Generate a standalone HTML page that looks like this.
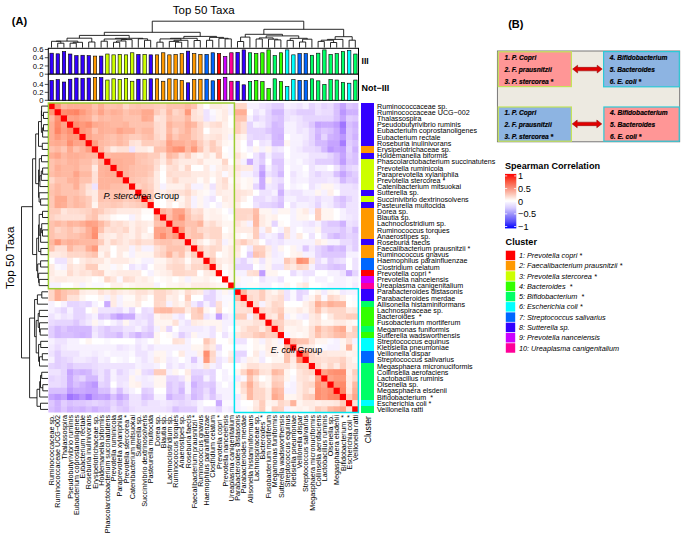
<!DOCTYPE html><html><head><meta charset="utf-8"><style>html,body{margin:0;padding:0;background:#fff;width:685px;height:544px;overflow:hidden}svg{display:block;font-family:"Liberation Sans",sans-serif}text{white-space:pre}</style></head><body>
<svg width="685" height="544" viewBox="0 0 685 544">
<rect width="685" height="544" fill="#fff"/>
<g>
<rect x="48.40" y="103.00" width="6.70" height="6.69" fill="#ff0000"/>
<rect x="54.60" y="103.00" width="6.70" height="6.69" fill="#ff9576"/>
<rect x="60.80" y="103.00" width="6.70" height="6.69" fill="#ffb9a2"/>
<rect x="67.00" y="103.00" width="6.70" height="6.69" fill="#ffaf96"/>
<rect x="73.20" y="103.00" width="6.70" height="6.69" fill="#ffaf96"/>
<rect x="79.40" y="103.00" width="6.70" height="6.69" fill="#ffaf96"/>
<rect x="85.60" y="103.00" width="6.70" height="6.69" fill="#ffaf96"/>
<rect x="91.80" y="103.00" width="6.70" height="6.69" fill="#ffc3af"/>
<rect x="98.00" y="103.00" width="6.70" height="6.69" fill="#ffaf96"/>
<rect x="104.20" y="103.00" width="6.70" height="6.69" fill="#ffc3af"/>
<rect x="110.40" y="103.00" width="6.70" height="6.69" fill="#ffc3af"/>
<rect x="116.60" y="103.00" width="6.70" height="6.69" fill="#ffbea9"/>
<rect x="122.80" y="103.00" width="6.70" height="6.69" fill="#ffd7c9"/>
<rect x="129.00" y="103.00" width="6.70" height="6.69" fill="#ffc8b6"/>
<rect x="135.20" y="103.00" width="6.70" height="6.69" fill="#ffc3af"/>
<rect x="141.40" y="103.00" width="6.70" height="6.69" fill="#ffc8b6"/>
<rect x="147.60" y="103.00" width="6.70" height="6.69" fill="#ffc8b6"/>
<rect x="153.80" y="103.00" width="6.70" height="6.69" fill="#ffcdbc"/>
<rect x="160.00" y="103.00" width="6.70" height="6.69" fill="#ffd2c3"/>
<rect x="166.20" y="103.00" width="6.70" height="6.69" fill="#ffc3af"/>
<rect x="172.40" y="103.00" width="6.70" height="6.69" fill="#ffc3af"/>
<rect x="178.60" y="103.00" width="6.70" height="6.69" fill="#ffc3af"/>
<rect x="184.80" y="103.00" width="6.70" height="6.69" fill="#ffb9a2"/>
<rect x="191.00" y="103.00" width="6.70" height="6.69" fill="#ffc3af"/>
<rect x="197.20" y="103.00" width="6.70" height="6.69" fill="#ffebe4"/>
<rect x="203.40" y="103.00" width="6.70" height="6.69" fill="#ffffff"/>
<rect x="209.60" y="103.00" width="6.70" height="6.69" fill="#ffebe4"/>
<rect x="215.80" y="103.00" width="6.70" height="6.69" fill="#ffebe4"/>
<rect x="222.00" y="103.00" width="6.70" height="6.69" fill="#fff0eb"/>
<rect x="228.20" y="103.00" width="6.70" height="6.69" fill="#f7f1ff"/>
<rect x="234.40" y="103.00" width="6.70" height="6.69" fill="#ffd7c9"/>
<rect x="240.60" y="103.00" width="6.70" height="6.69" fill="#ffd7c9"/>
<rect x="246.80" y="103.00" width="6.70" height="6.69" fill="#f7f1ff"/>
<rect x="253.00" y="103.00" width="6.70" height="6.69" fill="#f7f1ff"/>
<rect x="259.20" y="103.00" width="6.70" height="6.69" fill="#efe3ff"/>
<rect x="265.40" y="103.00" width="6.70" height="6.69" fill="#ebdcff"/>
<rect x="271.60" y="103.00" width="6.70" height="6.69" fill="#e2ceff"/>
<rect x="277.80" y="103.00" width="6.70" height="6.69" fill="#e2ceff"/>
<rect x="284.00" y="103.00" width="6.70" height="6.69" fill="#f7f1ff"/>
<rect x="290.20" y="103.00" width="6.70" height="6.69" fill="#f3eaff"/>
<rect x="296.40" y="103.00" width="6.70" height="6.69" fill="#efe3ff"/>
<rect x="302.60" y="103.00" width="6.70" height="6.69" fill="#f7f1ff"/>
<rect x="308.80" y="103.00" width="6.70" height="6.69" fill="#e6d5ff"/>
<rect x="315.00" y="103.00" width="6.70" height="6.69" fill="#efe3ff"/>
<rect x="321.20" y="103.00" width="6.70" height="6.69" fill="#e6d5ff"/>
<rect x="327.40" y="103.00" width="6.70" height="6.69" fill="#ebdcff"/>
<rect x="333.60" y="103.00" width="6.70" height="6.69" fill="#d9c0ff"/>
<rect x="339.80" y="103.00" width="6.70" height="6.69" fill="#c6a4ff"/>
<rect x="346.00" y="103.00" width="6.70" height="6.69" fill="#dec7ff"/>
<rect x="352.20" y="103.00" width="6.20" height="6.69" fill="#d9c0ff"/>
<rect x="48.40" y="109.19" width="6.70" height="6.69" fill="#ff9576"/>
<rect x="54.60" y="109.19" width="6.70" height="6.69" fill="#ff0000"/>
<rect x="60.80" y="109.19" width="6.70" height="6.69" fill="#ff8f70"/>
<rect x="67.00" y="109.19" width="6.70" height="6.69" fill="#ff8a6a"/>
<rect x="73.20" y="109.19" width="6.70" height="6.69" fill="#ff8464"/>
<rect x="79.40" y="109.19" width="6.70" height="6.69" fill="#ff9a7c"/>
<rect x="85.60" y="109.19" width="6.70" height="6.69" fill="#ffaa8f"/>
<rect x="91.80" y="109.19" width="6.70" height="6.69" fill="#ffb9a2"/>
<rect x="98.00" y="109.19" width="6.70" height="6.69" fill="#ffa489"/>
<rect x="104.20" y="109.19" width="6.70" height="6.69" fill="#ffb9a2"/>
<rect x="110.40" y="109.19" width="6.70" height="6.69" fill="#ffaf96"/>
<rect x="116.60" y="109.19" width="6.70" height="6.69" fill="#ffb49c"/>
<rect x="122.80" y="109.19" width="6.70" height="6.69" fill="#ffc3af"/>
<rect x="129.00" y="109.19" width="6.70" height="6.69" fill="#ffb9a2"/>
<rect x="135.20" y="109.19" width="6.70" height="6.69" fill="#ffb9a2"/>
<rect x="141.40" y="109.19" width="6.70" height="6.69" fill="#ffaa8f"/>
<rect x="147.60" y="109.19" width="6.70" height="6.69" fill="#ffaa8f"/>
<rect x="153.80" y="109.19" width="6.70" height="6.69" fill="#ffcdbc"/>
<rect x="160.00" y="109.19" width="6.70" height="6.69" fill="#ffdcd0"/>
<rect x="166.20" y="109.19" width="6.70" height="6.69" fill="#ffb9a2"/>
<rect x="172.40" y="109.19" width="6.70" height="6.69" fill="#ffd7c9"/>
<rect x="178.60" y="109.19" width="6.70" height="6.69" fill="#ffcdbc"/>
<rect x="184.80" y="109.19" width="6.70" height="6.69" fill="#ff9a7c"/>
<rect x="191.00" y="109.19" width="6.70" height="6.69" fill="#ffe1d7"/>
<rect x="197.20" y="109.19" width="6.70" height="6.69" fill="#ffebe4"/>
<rect x="203.40" y="109.19" width="6.70" height="6.69" fill="#efe3ff"/>
<rect x="209.60" y="109.19" width="6.70" height="6.69" fill="#fbf8ff"/>
<rect x="215.80" y="109.19" width="6.70" height="6.69" fill="#fff5f1"/>
<rect x="222.00" y="109.19" width="6.70" height="6.69" fill="#ffebe4"/>
<rect x="228.20" y="109.19" width="6.70" height="6.69" fill="#f7f1ff"/>
<rect x="234.40" y="109.19" width="6.70" height="6.69" fill="#ffaf96"/>
<rect x="240.60" y="109.19" width="6.70" height="6.69" fill="#ffaf96"/>
<rect x="246.80" y="109.19" width="6.70" height="6.69" fill="#ffffff"/>
<rect x="253.00" y="109.19" width="6.70" height="6.69" fill="#efe3ff"/>
<rect x="259.20" y="109.19" width="6.70" height="6.69" fill="#f7f1ff"/>
<rect x="265.40" y="109.19" width="6.70" height="6.69" fill="#e6d5ff"/>
<rect x="271.60" y="109.19" width="6.70" height="6.69" fill="#d4b9ff"/>
<rect x="277.80" y="109.19" width="6.70" height="6.69" fill="#d4b9ff"/>
<rect x="284.00" y="109.19" width="6.70" height="6.69" fill="#efe3ff"/>
<rect x="290.20" y="109.19" width="6.70" height="6.69" fill="#ebdcff"/>
<rect x="296.40" y="109.19" width="6.70" height="6.69" fill="#e2ceff"/>
<rect x="302.60" y="109.19" width="6.70" height="6.69" fill="#e2ceff"/>
<rect x="308.80" y="109.19" width="6.70" height="6.69" fill="#e2ceff"/>
<rect x="315.00" y="109.19" width="6.70" height="6.69" fill="#efe3ff"/>
<rect x="321.20" y="109.19" width="6.70" height="6.69" fill="#ebdcff"/>
<rect x="327.40" y="109.19" width="6.70" height="6.69" fill="#ebdcff"/>
<rect x="333.60" y="109.19" width="6.70" height="6.69" fill="#d9c0ff"/>
<rect x="339.80" y="109.19" width="6.70" height="6.69" fill="#bc97ff"/>
<rect x="346.00" y="109.19" width="6.70" height="6.69" fill="#d0b2ff"/>
<rect x="352.20" y="109.19" width="6.20" height="6.69" fill="#d0b2ff"/>
<rect x="48.40" y="115.38" width="6.70" height="6.69" fill="#ffb9a2"/>
<rect x="54.60" y="115.38" width="6.70" height="6.69" fill="#ff8f70"/>
<rect x="60.80" y="115.38" width="6.70" height="6.69" fill="#ff0000"/>
<rect x="67.00" y="115.38" width="6.70" height="6.69" fill="#ffa489"/>
<rect x="73.20" y="115.38" width="6.70" height="6.69" fill="#ff9f83"/>
<rect x="79.40" y="115.38" width="6.70" height="6.69" fill="#ffaa8f"/>
<rect x="85.60" y="115.38" width="6.70" height="6.69" fill="#ffaf96"/>
<rect x="91.80" y="115.38" width="6.70" height="6.69" fill="#ffc8b6"/>
<rect x="98.00" y="115.38" width="6.70" height="6.69" fill="#ffb9a2"/>
<rect x="104.20" y="115.38" width="6.70" height="6.69" fill="#ffbea9"/>
<rect x="110.40" y="115.38" width="6.70" height="6.69" fill="#ffb9a2"/>
<rect x="116.60" y="115.38" width="6.70" height="6.69" fill="#ffb9a2"/>
<rect x="122.80" y="115.38" width="6.70" height="6.69" fill="#ffc3af"/>
<rect x="129.00" y="115.38" width="6.70" height="6.69" fill="#ffc3af"/>
<rect x="135.20" y="115.38" width="6.70" height="6.69" fill="#ffc3af"/>
<rect x="141.40" y="115.38" width="6.70" height="6.69" fill="#ffaa8f"/>
<rect x="147.60" y="115.38" width="6.70" height="6.69" fill="#ffaf96"/>
<rect x="153.80" y="115.38" width="6.70" height="6.69" fill="#ffe6dd"/>
<rect x="160.00" y="115.38" width="6.70" height="6.69" fill="#ffe1d7"/>
<rect x="166.20" y="115.38" width="6.70" height="6.69" fill="#ffc3af"/>
<rect x="172.40" y="115.38" width="6.70" height="6.69" fill="#ffcdbc"/>
<rect x="178.60" y="115.38" width="6.70" height="6.69" fill="#ffcdbc"/>
<rect x="184.80" y="115.38" width="6.70" height="6.69" fill="#ffb9a2"/>
<rect x="191.00" y="115.38" width="6.70" height="6.69" fill="#ffe1d7"/>
<rect x="197.20" y="115.38" width="6.70" height="6.69" fill="#ffe6dd"/>
<rect x="203.40" y="115.38" width="6.70" height="6.69" fill="#efe3ff"/>
<rect x="209.60" y="115.38" width="6.70" height="6.69" fill="#f7f1ff"/>
<rect x="215.80" y="115.38" width="6.70" height="6.69" fill="#fff5f1"/>
<rect x="222.00" y="115.38" width="6.70" height="6.69" fill="#ffebe4"/>
<rect x="228.20" y="115.38" width="6.70" height="6.69" fill="#ffffff"/>
<rect x="234.40" y="115.38" width="6.70" height="6.69" fill="#ffc3af"/>
<rect x="240.60" y="115.38" width="6.70" height="6.69" fill="#ffc3af"/>
<rect x="246.80" y="115.38" width="6.70" height="6.69" fill="#f7f1ff"/>
<rect x="253.00" y="115.38" width="6.70" height="6.69" fill="#e6d5ff"/>
<rect x="259.20" y="115.38" width="6.70" height="6.69" fill="#efe3ff"/>
<rect x="265.40" y="115.38" width="6.70" height="6.69" fill="#e6d5ff"/>
<rect x="271.60" y="115.38" width="6.70" height="6.69" fill="#dec7ff"/>
<rect x="277.80" y="115.38" width="6.70" height="6.69" fill="#d9c0ff"/>
<rect x="284.00" y="115.38" width="6.70" height="6.69" fill="#efe3ff"/>
<rect x="290.20" y="115.38" width="6.70" height="6.69" fill="#f3eaff"/>
<rect x="296.40" y="115.38" width="6.70" height="6.69" fill="#efe3ff"/>
<rect x="302.60" y="115.38" width="6.70" height="6.69" fill="#e6d5ff"/>
<rect x="308.80" y="115.38" width="6.70" height="6.69" fill="#e6d5ff"/>
<rect x="315.00" y="115.38" width="6.70" height="6.69" fill="#e6d5ff"/>
<rect x="321.20" y="115.38" width="6.70" height="6.69" fill="#e6d5ff"/>
<rect x="327.40" y="115.38" width="6.70" height="6.69" fill="#e6d5ff"/>
<rect x="333.60" y="115.38" width="6.70" height="6.69" fill="#d9c0ff"/>
<rect x="339.80" y="115.38" width="6.70" height="6.69" fill="#c6a4ff"/>
<rect x="346.00" y="115.38" width="6.70" height="6.69" fill="#e2ceff"/>
<rect x="352.20" y="115.38" width="6.20" height="6.69" fill="#dec7ff"/>
<rect x="48.40" y="121.57" width="6.70" height="6.69" fill="#ffaf96"/>
<rect x="54.60" y="121.57" width="6.70" height="6.69" fill="#ff8a6a"/>
<rect x="60.80" y="121.57" width="6.70" height="6.69" fill="#ffa489"/>
<rect x="67.00" y="121.57" width="6.70" height="6.69" fill="#ff0000"/>
<rect x="73.20" y="121.57" width="6.70" height="6.69" fill="#ff8f70"/>
<rect x="79.40" y="121.57" width="6.70" height="6.69" fill="#ff9a7c"/>
<rect x="85.60" y="121.57" width="6.70" height="6.69" fill="#ff8f70"/>
<rect x="91.80" y="121.57" width="6.70" height="6.69" fill="#ffaa8f"/>
<rect x="98.00" y="121.57" width="6.70" height="6.69" fill="#ffaf96"/>
<rect x="104.20" y="121.57" width="6.70" height="6.69" fill="#ffb49c"/>
<rect x="110.40" y="121.57" width="6.70" height="6.69" fill="#ffb9a2"/>
<rect x="116.60" y="121.57" width="6.70" height="6.69" fill="#ffb9a2"/>
<rect x="122.80" y="121.57" width="6.70" height="6.69" fill="#ffb49c"/>
<rect x="129.00" y="121.57" width="6.70" height="6.69" fill="#ffc3af"/>
<rect x="135.20" y="121.57" width="6.70" height="6.69" fill="#ffc3af"/>
<rect x="141.40" y="121.57" width="6.70" height="6.69" fill="#ffc3af"/>
<rect x="147.60" y="121.57" width="6.70" height="6.69" fill="#ffc3af"/>
<rect x="153.80" y="121.57" width="6.70" height="6.69" fill="#ffdcd0"/>
<rect x="160.00" y="121.57" width="6.70" height="6.69" fill="#ffe1d7"/>
<rect x="166.20" y="121.57" width="6.70" height="6.69" fill="#ffb49c"/>
<rect x="172.40" y="121.57" width="6.70" height="6.69" fill="#ffc3af"/>
<rect x="178.60" y="121.57" width="6.70" height="6.69" fill="#ffc3af"/>
<rect x="184.80" y="121.57" width="6.70" height="6.69" fill="#ffaf96"/>
<rect x="191.00" y="121.57" width="6.70" height="6.69" fill="#ffb9a2"/>
<rect x="197.20" y="121.57" width="6.70" height="6.69" fill="#ffd7c9"/>
<rect x="203.40" y="121.57" width="6.70" height="6.69" fill="#ffebe4"/>
<rect x="209.60" y="121.57" width="6.70" height="6.69" fill="#ffe1d7"/>
<rect x="215.80" y="121.57" width="6.70" height="6.69" fill="#ffdcd0"/>
<rect x="222.00" y="121.57" width="6.70" height="6.69" fill="#fff0eb"/>
<rect x="228.20" y="121.57" width="6.70" height="6.69" fill="#ffffff"/>
<rect x="234.40" y="121.57" width="6.70" height="6.69" fill="#ffcdbc"/>
<rect x="240.60" y="121.57" width="6.70" height="6.69" fill="#ffe1d7"/>
<rect x="246.80" y="121.57" width="6.70" height="6.69" fill="#e6d5ff"/>
<rect x="253.00" y="121.57" width="6.70" height="6.69" fill="#f7f1ff"/>
<rect x="259.20" y="121.57" width="6.70" height="6.69" fill="#f3eaff"/>
<rect x="265.40" y="121.57" width="6.70" height="6.69" fill="#e6d5ff"/>
<rect x="271.60" y="121.57" width="6.70" height="6.69" fill="#d4b9ff"/>
<rect x="277.80" y="121.57" width="6.70" height="6.69" fill="#d9c0ff"/>
<rect x="284.00" y="121.57" width="6.70" height="6.69" fill="#f7f1ff"/>
<rect x="290.20" y="121.57" width="6.70" height="6.69" fill="#f7f1ff"/>
<rect x="296.40" y="121.57" width="6.70" height="6.69" fill="#efe3ff"/>
<rect x="302.60" y="121.57" width="6.70" height="6.69" fill="#ebdcff"/>
<rect x="308.80" y="121.57" width="6.70" height="6.69" fill="#dec7ff"/>
<rect x="315.00" y="121.57" width="6.70" height="6.69" fill="#c6a4ff"/>
<rect x="321.20" y="121.57" width="6.70" height="6.69" fill="#cbabff"/>
<rect x="327.40" y="121.57" width="6.70" height="6.69" fill="#cbabff"/>
<rect x="333.60" y="121.57" width="6.70" height="6.69" fill="#c19dff"/>
<rect x="339.80" y="121.57" width="6.70" height="6.69" fill="#a074ff"/>
<rect x="346.00" y="121.57" width="6.70" height="6.69" fill="#d9c0ff"/>
<rect x="352.20" y="121.57" width="6.20" height="6.69" fill="#d0b2ff"/>
<rect x="48.40" y="127.76" width="6.70" height="6.69" fill="#ffaf96"/>
<rect x="54.60" y="127.76" width="6.70" height="6.69" fill="#ff8464"/>
<rect x="60.80" y="127.76" width="6.70" height="6.69" fill="#ff9f83"/>
<rect x="67.00" y="127.76" width="6.70" height="6.69" fill="#ff8f70"/>
<rect x="73.20" y="127.76" width="6.70" height="6.69" fill="#ff0000"/>
<rect x="79.40" y="127.76" width="6.70" height="6.69" fill="#ff9a7c"/>
<rect x="85.60" y="127.76" width="6.70" height="6.69" fill="#ffa489"/>
<rect x="91.80" y="127.76" width="6.70" height="6.69" fill="#ffc3af"/>
<rect x="98.00" y="127.76" width="6.70" height="6.69" fill="#ffaf96"/>
<rect x="104.20" y="127.76" width="6.70" height="6.69" fill="#ffb49c"/>
<rect x="110.40" y="127.76" width="6.70" height="6.69" fill="#ffb49c"/>
<rect x="116.60" y="127.76" width="6.70" height="6.69" fill="#ffa489"/>
<rect x="122.80" y="127.76" width="6.70" height="6.69" fill="#ffaf96"/>
<rect x="129.00" y="127.76" width="6.70" height="6.69" fill="#ffaf96"/>
<rect x="135.20" y="127.76" width="6.70" height="6.69" fill="#ffc3af"/>
<rect x="141.40" y="127.76" width="6.70" height="6.69" fill="#ffb9a2"/>
<rect x="147.60" y="127.76" width="6.70" height="6.69" fill="#ffb9a2"/>
<rect x="153.80" y="127.76" width="6.70" height="6.69" fill="#ffdcd0"/>
<rect x="160.00" y="127.76" width="6.70" height="6.69" fill="#ffe1d7"/>
<rect x="166.20" y="127.76" width="6.70" height="6.69" fill="#ffb9a2"/>
<rect x="172.40" y="127.76" width="6.70" height="6.69" fill="#ffd2c3"/>
<rect x="178.60" y="127.76" width="6.70" height="6.69" fill="#ffc3af"/>
<rect x="184.80" y="127.76" width="6.70" height="6.69" fill="#ffb49c"/>
<rect x="191.00" y="127.76" width="6.70" height="6.69" fill="#ffcdbc"/>
<rect x="197.20" y="127.76" width="6.70" height="6.69" fill="#ffd7c9"/>
<rect x="203.40" y="127.76" width="6.70" height="6.69" fill="#ffffff"/>
<rect x="209.60" y="127.76" width="6.70" height="6.69" fill="#ffebe4"/>
<rect x="215.80" y="127.76" width="6.70" height="6.69" fill="#ffebe4"/>
<rect x="222.00" y="127.76" width="6.70" height="6.69" fill="#fff0eb"/>
<rect x="228.20" y="127.76" width="6.70" height="6.69" fill="#fff5f1"/>
<rect x="234.40" y="127.76" width="6.70" height="6.69" fill="#ffcdbc"/>
<rect x="240.60" y="127.76" width="6.70" height="6.69" fill="#ffe1d7"/>
<rect x="246.80" y="127.76" width="6.70" height="6.69" fill="#e6d5ff"/>
<rect x="253.00" y="127.76" width="6.70" height="6.69" fill="#e6d5ff"/>
<rect x="259.20" y="127.76" width="6.70" height="6.69" fill="#e6d5ff"/>
<rect x="265.40" y="127.76" width="6.70" height="6.69" fill="#dec7ff"/>
<rect x="271.60" y="127.76" width="6.70" height="6.69" fill="#d4b9ff"/>
<rect x="277.80" y="127.76" width="6.70" height="6.69" fill="#d4b9ff"/>
<rect x="284.00" y="127.76" width="6.70" height="6.69" fill="#f7f1ff"/>
<rect x="290.20" y="127.76" width="6.70" height="6.69" fill="#f7f1ff"/>
<rect x="296.40" y="127.76" width="6.70" height="6.69" fill="#efe3ff"/>
<rect x="302.60" y="127.76" width="6.70" height="6.69" fill="#f3eaff"/>
<rect x="308.80" y="127.76" width="6.70" height="6.69" fill="#e6d5ff"/>
<rect x="315.00" y="127.76" width="6.70" height="6.69" fill="#d4b9ff"/>
<rect x="321.20" y="127.76" width="6.70" height="6.69" fill="#dec7ff"/>
<rect x="327.40" y="127.76" width="6.70" height="6.69" fill="#d9c0ff"/>
<rect x="333.60" y="127.76" width="6.70" height="6.69" fill="#cbabff"/>
<rect x="339.80" y="127.76" width="6.70" height="6.69" fill="#ab82ff"/>
<rect x="346.00" y="127.76" width="6.70" height="6.69" fill="#dec7ff"/>
<rect x="352.20" y="127.76" width="6.20" height="6.69" fill="#d4b9ff"/>
<rect x="48.40" y="133.95" width="6.70" height="6.69" fill="#ffaf96"/>
<rect x="54.60" y="133.95" width="6.70" height="6.69" fill="#ff9a7c"/>
<rect x="60.80" y="133.95" width="6.70" height="6.69" fill="#ffaa8f"/>
<rect x="67.00" y="133.95" width="6.70" height="6.69" fill="#ff9a7c"/>
<rect x="73.20" y="133.95" width="6.70" height="6.69" fill="#ff9a7c"/>
<rect x="79.40" y="133.95" width="6.70" height="6.69" fill="#ff0000"/>
<rect x="85.60" y="133.95" width="6.70" height="6.69" fill="#ffa489"/>
<rect x="91.80" y="133.95" width="6.70" height="6.69" fill="#ffb49c"/>
<rect x="98.00" y="133.95" width="6.70" height="6.69" fill="#ffb49c"/>
<rect x="104.20" y="133.95" width="6.70" height="6.69" fill="#ffbea9"/>
<rect x="110.40" y="133.95" width="6.70" height="6.69" fill="#ffc3af"/>
<rect x="116.60" y="133.95" width="6.70" height="6.69" fill="#ffb9a2"/>
<rect x="122.80" y="133.95" width="6.70" height="6.69" fill="#ffc3af"/>
<rect x="129.00" y="133.95" width="6.70" height="6.69" fill="#ffcdbc"/>
<rect x="135.20" y="133.95" width="6.70" height="6.69" fill="#ffcdbc"/>
<rect x="141.40" y="133.95" width="6.70" height="6.69" fill="#ffc3af"/>
<rect x="147.60" y="133.95" width="6.70" height="6.69" fill="#ffbea9"/>
<rect x="153.80" y="133.95" width="6.70" height="6.69" fill="#ffd7c9"/>
<rect x="160.00" y="133.95" width="6.70" height="6.69" fill="#ffe1d7"/>
<rect x="166.20" y="133.95" width="6.70" height="6.69" fill="#ffaf96"/>
<rect x="172.40" y="133.95" width="6.70" height="6.69" fill="#ffc8b6"/>
<rect x="178.60" y="133.95" width="6.70" height="6.69" fill="#ffb9a2"/>
<rect x="184.80" y="133.95" width="6.70" height="6.69" fill="#ffb9a2"/>
<rect x="191.00" y="133.95" width="6.70" height="6.69" fill="#ffcdbc"/>
<rect x="197.20" y="133.95" width="6.70" height="6.69" fill="#ffd7c9"/>
<rect x="203.40" y="133.95" width="6.70" height="6.69" fill="#ffebe4"/>
<rect x="209.60" y="133.95" width="6.70" height="6.69" fill="#ffe6dd"/>
<rect x="215.80" y="133.95" width="6.70" height="6.69" fill="#ffe1d7"/>
<rect x="222.00" y="133.95" width="6.70" height="6.69" fill="#fff0eb"/>
<rect x="228.20" y="133.95" width="6.70" height="6.69" fill="#f7f1ff"/>
<rect x="234.40" y="133.95" width="6.70" height="6.69" fill="#ffebe4"/>
<rect x="240.60" y="133.95" width="6.70" height="6.69" fill="#fff5f1"/>
<rect x="246.80" y="133.95" width="6.70" height="6.69" fill="#ebdcff"/>
<rect x="253.00" y="133.95" width="6.70" height="6.69" fill="#e6d5ff"/>
<rect x="259.20" y="133.95" width="6.70" height="6.69" fill="#e6d5ff"/>
<rect x="265.40" y="133.95" width="6.70" height="6.69" fill="#ebdcff"/>
<rect x="271.60" y="133.95" width="6.70" height="6.69" fill="#d4b9ff"/>
<rect x="277.80" y="133.95" width="6.70" height="6.69" fill="#d0b2ff"/>
<rect x="284.00" y="133.95" width="6.70" height="6.69" fill="#ffffff"/>
<rect x="290.20" y="133.95" width="6.70" height="6.69" fill="#f7f1ff"/>
<rect x="296.40" y="133.95" width="6.70" height="6.69" fill="#f7f1ff"/>
<rect x="302.60" y="133.95" width="6.70" height="6.69" fill="#f3eaff"/>
<rect x="308.80" y="133.95" width="6.70" height="6.69" fill="#e6d5ff"/>
<rect x="315.00" y="133.95" width="6.70" height="6.69" fill="#d0b2ff"/>
<rect x="321.20" y="133.95" width="6.70" height="6.69" fill="#e6d5ff"/>
<rect x="327.40" y="133.95" width="6.70" height="6.69" fill="#d0b2ff"/>
<rect x="333.60" y="133.95" width="6.70" height="6.69" fill="#cbabff"/>
<rect x="339.80" y="133.95" width="6.70" height="6.69" fill="#bc97ff"/>
<rect x="346.00" y="133.95" width="6.70" height="6.69" fill="#dec7ff"/>
<rect x="352.20" y="133.95" width="6.20" height="6.69" fill="#d0b2ff"/>
<rect x="48.40" y="140.14" width="6.70" height="6.69" fill="#ffaf96"/>
<rect x="54.60" y="140.14" width="6.70" height="6.69" fill="#ffaa8f"/>
<rect x="60.80" y="140.14" width="6.70" height="6.69" fill="#ffaf96"/>
<rect x="67.00" y="140.14" width="6.70" height="6.69" fill="#ff8f70"/>
<rect x="73.20" y="140.14" width="6.70" height="6.69" fill="#ffa489"/>
<rect x="79.40" y="140.14" width="6.70" height="6.69" fill="#ffa489"/>
<rect x="85.60" y="140.14" width="6.70" height="6.69" fill="#ff0000"/>
<rect x="91.80" y="140.14" width="6.70" height="6.69" fill="#ff9f83"/>
<rect x="98.00" y="140.14" width="6.70" height="6.69" fill="#ffb9a2"/>
<rect x="104.20" y="140.14" width="6.70" height="6.69" fill="#ffbea9"/>
<rect x="110.40" y="140.14" width="6.70" height="6.69" fill="#ffc3af"/>
<rect x="116.60" y="140.14" width="6.70" height="6.69" fill="#ffb9a2"/>
<rect x="122.80" y="140.14" width="6.70" height="6.69" fill="#ffc3af"/>
<rect x="129.00" y="140.14" width="6.70" height="6.69" fill="#ffe1d7"/>
<rect x="135.20" y="140.14" width="6.70" height="6.69" fill="#ffe6dd"/>
<rect x="141.40" y="140.14" width="6.70" height="6.69" fill="#ffcdbc"/>
<rect x="147.60" y="140.14" width="6.70" height="6.69" fill="#ffcdbc"/>
<rect x="153.80" y="140.14" width="6.70" height="6.69" fill="#ffd2c3"/>
<rect x="160.00" y="140.14" width="6.70" height="6.69" fill="#ffcdbc"/>
<rect x="166.20" y="140.14" width="6.70" height="6.69" fill="#ff9f83"/>
<rect x="172.40" y="140.14" width="6.70" height="6.69" fill="#ffaf96"/>
<rect x="178.60" y="140.14" width="6.70" height="6.69" fill="#ffaf96"/>
<rect x="184.80" y="140.14" width="6.70" height="6.69" fill="#ffb9a2"/>
<rect x="191.00" y="140.14" width="6.70" height="6.69" fill="#ffaf96"/>
<rect x="197.20" y="140.14" width="6.70" height="6.69" fill="#ffcdbc"/>
<rect x="203.40" y="140.14" width="6.70" height="6.69" fill="#ffe1d7"/>
<rect x="209.60" y="140.14" width="6.70" height="6.69" fill="#ffcdbc"/>
<rect x="215.80" y="140.14" width="6.70" height="6.69" fill="#ffe6dd"/>
<rect x="222.00" y="140.14" width="6.70" height="6.69" fill="#fff5f1"/>
<rect x="228.20" y="140.14" width="6.70" height="6.69" fill="#fffaf8"/>
<rect x="234.40" y="140.14" width="6.70" height="6.69" fill="#fff0eb"/>
<rect x="240.60" y="140.14" width="6.70" height="6.69" fill="#ffffff"/>
<rect x="246.80" y="140.14" width="6.70" height="6.69" fill="#e6d5ff"/>
<rect x="253.00" y="140.14" width="6.70" height="6.69" fill="#ffffff"/>
<rect x="259.20" y="140.14" width="6.70" height="6.69" fill="#efe3ff"/>
<rect x="265.40" y="140.14" width="6.70" height="6.69" fill="#f3eaff"/>
<rect x="271.60" y="140.14" width="6.70" height="6.69" fill="#d4b9ff"/>
<rect x="277.80" y="140.14" width="6.70" height="6.69" fill="#d4b9ff"/>
<rect x="284.00" y="140.14" width="6.70" height="6.69" fill="#fff5f1"/>
<rect x="290.20" y="140.14" width="6.70" height="6.69" fill="#f7f1ff"/>
<rect x="296.40" y="140.14" width="6.70" height="6.69" fill="#f7f1ff"/>
<rect x="302.60" y="140.14" width="6.70" height="6.69" fill="#efe3ff"/>
<rect x="308.80" y="140.14" width="6.70" height="6.69" fill="#e6d5ff"/>
<rect x="315.00" y="140.14" width="6.70" height="6.69" fill="#d4b9ff"/>
<rect x="321.20" y="140.14" width="6.70" height="6.69" fill="#d4b9ff"/>
<rect x="327.40" y="140.14" width="6.70" height="6.69" fill="#c6a4ff"/>
<rect x="333.60" y="140.14" width="6.70" height="6.69" fill="#c6a4ff"/>
<rect x="339.80" y="140.14" width="6.70" height="6.69" fill="#a67bff"/>
<rect x="346.00" y="140.14" width="6.70" height="6.69" fill="#e2ceff"/>
<rect x="352.20" y="140.14" width="6.20" height="6.69" fill="#d9c0ff"/>
<rect x="48.40" y="146.33" width="6.70" height="6.69" fill="#ffc3af"/>
<rect x="54.60" y="146.33" width="6.70" height="6.69" fill="#ffb9a2"/>
<rect x="60.80" y="146.33" width="6.70" height="6.69" fill="#ffc8b6"/>
<rect x="67.00" y="146.33" width="6.70" height="6.69" fill="#ffaa8f"/>
<rect x="73.20" y="146.33" width="6.70" height="6.69" fill="#ffc3af"/>
<rect x="79.40" y="146.33" width="6.70" height="6.69" fill="#ffb49c"/>
<rect x="85.60" y="146.33" width="6.70" height="6.69" fill="#ff9f83"/>
<rect x="91.80" y="146.33" width="6.70" height="6.69" fill="#ff0000"/>
<rect x="98.00" y="146.33" width="6.70" height="6.69" fill="#ffb9a2"/>
<rect x="104.20" y="146.33" width="6.70" height="6.69" fill="#ffd2c3"/>
<rect x="110.40" y="146.33" width="6.70" height="6.69" fill="#ffebe4"/>
<rect x="116.60" y="146.33" width="6.70" height="6.69" fill="#ffe1d7"/>
<rect x="122.80" y="146.33" width="6.70" height="6.69" fill="#ffe1d7"/>
<rect x="129.00" y="146.33" width="6.70" height="6.69" fill="#efe3ff"/>
<rect x="135.20" y="146.33" width="6.70" height="6.69" fill="#ffebe4"/>
<rect x="141.40" y="146.33" width="6.70" height="6.69" fill="#ffebe4"/>
<rect x="147.60" y="146.33" width="6.70" height="6.69" fill="#fff5f1"/>
<rect x="153.80" y="146.33" width="6.70" height="6.69" fill="#ffc3af"/>
<rect x="160.00" y="146.33" width="6.70" height="6.69" fill="#ffc3af"/>
<rect x="166.20" y="146.33" width="6.70" height="6.69" fill="#ffa489"/>
<rect x="172.40" y="146.33" width="6.70" height="6.69" fill="#ff9576"/>
<rect x="178.60" y="146.33" width="6.70" height="6.69" fill="#ff8f70"/>
<rect x="184.80" y="146.33" width="6.70" height="6.69" fill="#ffb9a2"/>
<rect x="191.00" y="146.33" width="6.70" height="6.69" fill="#ff9a7c"/>
<rect x="197.20" y="146.33" width="6.70" height="6.69" fill="#ffc3af"/>
<rect x="203.40" y="146.33" width="6.70" height="6.69" fill="#ffe6dd"/>
<rect x="209.60" y="146.33" width="6.70" height="6.69" fill="#ffcdbc"/>
<rect x="215.80" y="146.33" width="6.70" height="6.69" fill="#ffd7c9"/>
<rect x="222.00" y="146.33" width="6.70" height="6.69" fill="#ffffff"/>
<rect x="228.20" y="146.33" width="6.70" height="6.69" fill="#fbf8ff"/>
<rect x="234.40" y="146.33" width="6.70" height="6.69" fill="#fff0eb"/>
<rect x="240.60" y="146.33" width="6.70" height="6.69" fill="#ffffff"/>
<rect x="246.80" y="146.33" width="6.70" height="6.69" fill="#f7f1ff"/>
<rect x="253.00" y="146.33" width="6.70" height="6.69" fill="#fff5f1"/>
<rect x="259.20" y="146.33" width="6.70" height="6.69" fill="#f7f1ff"/>
<rect x="265.40" y="146.33" width="6.70" height="6.69" fill="#fff5f1"/>
<rect x="271.60" y="146.33" width="6.70" height="6.69" fill="#efe3ff"/>
<rect x="277.80" y="146.33" width="6.70" height="6.69" fill="#f3eaff"/>
<rect x="284.00" y="146.33" width="6.70" height="6.69" fill="#ffffff"/>
<rect x="290.20" y="146.33" width="6.70" height="6.69" fill="#f7f1ff"/>
<rect x="296.40" y="146.33" width="6.70" height="6.69" fill="#f3eaff"/>
<rect x="302.60" y="146.33" width="6.70" height="6.69" fill="#ebdcff"/>
<rect x="308.80" y="146.33" width="6.70" height="6.69" fill="#ebdcff"/>
<rect x="315.00" y="146.33" width="6.70" height="6.69" fill="#e6d5ff"/>
<rect x="321.20" y="146.33" width="6.70" height="6.69" fill="#d4b9ff"/>
<rect x="327.40" y="146.33" width="6.70" height="6.69" fill="#bc97ff"/>
<rect x="333.60" y="146.33" width="6.70" height="6.69" fill="#c6a4ff"/>
<rect x="339.80" y="146.33" width="6.70" height="6.69" fill="#c19dff"/>
<rect x="346.00" y="146.33" width="6.70" height="6.69" fill="#e6d5ff"/>
<rect x="352.20" y="146.33" width="6.20" height="6.69" fill="#d0b2ff"/>
<rect x="48.40" y="152.52" width="6.70" height="6.69" fill="#ffaf96"/>
<rect x="54.60" y="152.52" width="6.70" height="6.69" fill="#ffa489"/>
<rect x="60.80" y="152.52" width="6.70" height="6.69" fill="#ffb9a2"/>
<rect x="67.00" y="152.52" width="6.70" height="6.69" fill="#ffaf96"/>
<rect x="73.20" y="152.52" width="6.70" height="6.69" fill="#ffaf96"/>
<rect x="79.40" y="152.52" width="6.70" height="6.69" fill="#ffb49c"/>
<rect x="85.60" y="152.52" width="6.70" height="6.69" fill="#ffb9a2"/>
<rect x="91.80" y="152.52" width="6.70" height="6.69" fill="#ffb9a2"/>
<rect x="98.00" y="152.52" width="6.70" height="6.69" fill="#ff0000"/>
<rect x="104.20" y="152.52" width="6.70" height="6.69" fill="#ffb9a2"/>
<rect x="110.40" y="152.52" width="6.70" height="6.69" fill="#ffb49c"/>
<rect x="116.60" y="152.52" width="6.70" height="6.69" fill="#ffb49c"/>
<rect x="122.80" y="152.52" width="6.70" height="6.69" fill="#ffb49c"/>
<rect x="129.00" y="152.52" width="6.70" height="6.69" fill="#ffb49c"/>
<rect x="135.20" y="152.52" width="6.70" height="6.69" fill="#ffc3af"/>
<rect x="141.40" y="152.52" width="6.70" height="6.69" fill="#ffc3af"/>
<rect x="147.60" y="152.52" width="6.70" height="6.69" fill="#ffcdbc"/>
<rect x="153.80" y="152.52" width="6.70" height="6.69" fill="#ffcdbc"/>
<rect x="160.00" y="152.52" width="6.70" height="6.69" fill="#ffe6dd"/>
<rect x="166.20" y="152.52" width="6.70" height="6.69" fill="#ffb9a2"/>
<rect x="172.40" y="152.52" width="6.70" height="6.69" fill="#ffc3af"/>
<rect x="178.60" y="152.52" width="6.70" height="6.69" fill="#ffe1d7"/>
<rect x="184.80" y="152.52" width="6.70" height="6.69" fill="#ffcdbc"/>
<rect x="191.00" y="152.52" width="6.70" height="6.69" fill="#ffebe4"/>
<rect x="197.20" y="152.52" width="6.70" height="6.69" fill="#fff5f1"/>
<rect x="203.40" y="152.52" width="6.70" height="6.69" fill="#ffe6dd"/>
<rect x="209.60" y="152.52" width="6.70" height="6.69" fill="#fff5f1"/>
<rect x="215.80" y="152.52" width="6.70" height="6.69" fill="#ffd2c3"/>
<rect x="222.00" y="152.52" width="6.70" height="6.69" fill="#fffaf8"/>
<rect x="228.20" y="152.52" width="6.70" height="6.69" fill="#fbf8ff"/>
<rect x="234.40" y="152.52" width="6.70" height="6.69" fill="#ffe1d7"/>
<rect x="240.60" y="152.52" width="6.70" height="6.69" fill="#fff5f1"/>
<rect x="246.80" y="152.52" width="6.70" height="6.69" fill="#ffffff"/>
<rect x="253.00" y="152.52" width="6.70" height="6.69" fill="#efe3ff"/>
<rect x="259.20" y="152.52" width="6.70" height="6.69" fill="#dec7ff"/>
<rect x="265.40" y="152.52" width="6.70" height="6.69" fill="#f7f1ff"/>
<rect x="271.60" y="152.52" width="6.70" height="6.69" fill="#e6d5ff"/>
<rect x="277.80" y="152.52" width="6.70" height="6.69" fill="#e6d5ff"/>
<rect x="284.00" y="152.52" width="6.70" height="6.69" fill="#ffffff"/>
<rect x="290.20" y="152.52" width="6.70" height="6.69" fill="#f7f1ff"/>
<rect x="296.40" y="152.52" width="6.70" height="6.69" fill="#f7f1ff"/>
<rect x="302.60" y="152.52" width="6.70" height="6.69" fill="#f7f1ff"/>
<rect x="308.80" y="152.52" width="6.70" height="6.69" fill="#efe3ff"/>
<rect x="315.00" y="152.52" width="6.70" height="6.69" fill="#efe3ff"/>
<rect x="321.20" y="152.52" width="6.70" height="6.69" fill="#efe3ff"/>
<rect x="327.40" y="152.52" width="6.70" height="6.69" fill="#e6d5ff"/>
<rect x="333.60" y="152.52" width="6.70" height="6.69" fill="#d9c0ff"/>
<rect x="339.80" y="152.52" width="6.70" height="6.69" fill="#c6a4ff"/>
<rect x="346.00" y="152.52" width="6.70" height="6.69" fill="#e2ceff"/>
<rect x="352.20" y="152.52" width="6.20" height="6.69" fill="#d9c0ff"/>
<rect x="48.40" y="158.71" width="6.70" height="6.69" fill="#ffc3af"/>
<rect x="54.60" y="158.71" width="6.70" height="6.69" fill="#ffb9a2"/>
<rect x="60.80" y="158.71" width="6.70" height="6.69" fill="#ffbea9"/>
<rect x="67.00" y="158.71" width="6.70" height="6.69" fill="#ffb49c"/>
<rect x="73.20" y="158.71" width="6.70" height="6.69" fill="#ffb49c"/>
<rect x="79.40" y="158.71" width="6.70" height="6.69" fill="#ffbea9"/>
<rect x="85.60" y="158.71" width="6.70" height="6.69" fill="#ffbea9"/>
<rect x="91.80" y="158.71" width="6.70" height="6.69" fill="#ffd2c3"/>
<rect x="98.00" y="158.71" width="6.70" height="6.69" fill="#ffb9a2"/>
<rect x="104.20" y="158.71" width="6.70" height="6.69" fill="#ff0000"/>
<rect x="110.40" y="158.71" width="6.70" height="6.69" fill="#ffaf96"/>
<rect x="116.60" y="158.71" width="6.70" height="6.69" fill="#ffaf96"/>
<rect x="122.80" y="158.71" width="6.70" height="6.69" fill="#ffb49c"/>
<rect x="129.00" y="158.71" width="6.70" height="6.69" fill="#ffb49c"/>
<rect x="135.20" y="158.71" width="6.70" height="6.69" fill="#ffc3af"/>
<rect x="141.40" y="158.71" width="6.70" height="6.69" fill="#ffc8b6"/>
<rect x="147.60" y="158.71" width="6.70" height="6.69" fill="#ffcdbc"/>
<rect x="153.80" y="158.71" width="6.70" height="6.69" fill="#ffdcd0"/>
<rect x="160.00" y="158.71" width="6.70" height="6.69" fill="#ffebe4"/>
<rect x="166.20" y="158.71" width="6.70" height="6.69" fill="#ffcdbc"/>
<rect x="172.40" y="158.71" width="6.70" height="6.69" fill="#ffe1d7"/>
<rect x="178.60" y="158.71" width="6.70" height="6.69" fill="#ffebe4"/>
<rect x="184.80" y="158.71" width="6.70" height="6.69" fill="#ffebe4"/>
<rect x="191.00" y="158.71" width="6.70" height="6.69" fill="#ffebe4"/>
<rect x="197.20" y="158.71" width="6.70" height="6.69" fill="#ffe1d7"/>
<rect x="203.40" y="158.71" width="6.70" height="6.69" fill="#fff5f1"/>
<rect x="209.60" y="158.71" width="6.70" height="6.69" fill="#fff5f1"/>
<rect x="215.80" y="158.71" width="6.70" height="6.69" fill="#fff5f1"/>
<rect x="222.00" y="158.71" width="6.70" height="6.69" fill="#ffd7c9"/>
<rect x="228.20" y="158.71" width="6.70" height="6.69" fill="#ffffff"/>
<rect x="234.40" y="158.71" width="6.70" height="6.69" fill="#ffebe4"/>
<rect x="240.60" y="158.71" width="6.70" height="6.69" fill="#f7f1ff"/>
<rect x="246.80" y="158.71" width="6.70" height="6.69" fill="#cbabff"/>
<rect x="253.00" y="158.71" width="6.70" height="6.69" fill="#efe3ff"/>
<rect x="259.20" y="158.71" width="6.70" height="6.69" fill="#e2ceff"/>
<rect x="265.40" y="158.71" width="6.70" height="6.69" fill="#ffffff"/>
<rect x="271.60" y="158.71" width="6.70" height="6.69" fill="#dec7ff"/>
<rect x="277.80" y="158.71" width="6.70" height="6.69" fill="#dec7ff"/>
<rect x="284.00" y="158.71" width="6.70" height="6.69" fill="#fbf8ff"/>
<rect x="290.20" y="158.71" width="6.70" height="6.69" fill="#f7f1ff"/>
<rect x="296.40" y="158.71" width="6.70" height="6.69" fill="#fbf8ff"/>
<rect x="302.60" y="158.71" width="6.70" height="6.69" fill="#f3eaff"/>
<rect x="308.80" y="158.71" width="6.70" height="6.69" fill="#efe3ff"/>
<rect x="315.00" y="158.71" width="6.70" height="6.69" fill="#e2ceff"/>
<rect x="321.20" y="158.71" width="6.70" height="6.69" fill="#e2ceff"/>
<rect x="327.40" y="158.71" width="6.70" height="6.69" fill="#e2ceff"/>
<rect x="333.60" y="158.71" width="6.70" height="6.69" fill="#d9c0ff"/>
<rect x="339.80" y="158.71" width="6.70" height="6.69" fill="#c19dff"/>
<rect x="346.00" y="158.71" width="6.70" height="6.69" fill="#dec7ff"/>
<rect x="352.20" y="158.71" width="6.20" height="6.69" fill="#d9c0ff"/>
<rect x="48.40" y="164.90" width="6.70" height="6.69" fill="#ffc3af"/>
<rect x="54.60" y="164.90" width="6.70" height="6.69" fill="#ffaf96"/>
<rect x="60.80" y="164.90" width="6.70" height="6.69" fill="#ffb9a2"/>
<rect x="67.00" y="164.90" width="6.70" height="6.69" fill="#ffb9a2"/>
<rect x="73.20" y="164.90" width="6.70" height="6.69" fill="#ffb49c"/>
<rect x="79.40" y="164.90" width="6.70" height="6.69" fill="#ffc3af"/>
<rect x="85.60" y="164.90" width="6.70" height="6.69" fill="#ffc3af"/>
<rect x="91.80" y="164.90" width="6.70" height="6.69" fill="#ffebe4"/>
<rect x="98.00" y="164.90" width="6.70" height="6.69" fill="#ffb49c"/>
<rect x="104.20" y="164.90" width="6.70" height="6.69" fill="#ffaf96"/>
<rect x="110.40" y="164.90" width="6.70" height="6.69" fill="#ff0000"/>
<rect x="116.60" y="164.90" width="6.70" height="6.69" fill="#ffaf96"/>
<rect x="122.80" y="164.90" width="6.70" height="6.69" fill="#ffb49c"/>
<rect x="129.00" y="164.90" width="6.70" height="6.69" fill="#ffbea9"/>
<rect x="135.20" y="164.90" width="6.70" height="6.69" fill="#ffc3af"/>
<rect x="141.40" y="164.90" width="6.70" height="6.69" fill="#ffc3af"/>
<rect x="147.60" y="164.90" width="6.70" height="6.69" fill="#ffc8b6"/>
<rect x="153.80" y="164.90" width="6.70" height="6.69" fill="#ffe1d7"/>
<rect x="160.00" y="164.90" width="6.70" height="6.69" fill="#fffaf8"/>
<rect x="166.20" y="164.90" width="6.70" height="6.69" fill="#ffe1d7"/>
<rect x="172.40" y="164.90" width="6.70" height="6.69" fill="#ffdcd0"/>
<rect x="178.60" y="164.90" width="6.70" height="6.69" fill="#fff0eb"/>
<rect x="184.80" y="164.90" width="6.70" height="6.69" fill="#ffd7c9"/>
<rect x="191.00" y="164.90" width="6.70" height="6.69" fill="#ffffff"/>
<rect x="197.20" y="164.90" width="6.70" height="6.69" fill="#ffffff"/>
<rect x="203.40" y="164.90" width="6.70" height="6.69" fill="#ffebe4"/>
<rect x="209.60" y="164.90" width="6.70" height="6.69" fill="#fbf8ff"/>
<rect x="215.80" y="164.90" width="6.70" height="6.69" fill="#fff0eb"/>
<rect x="222.00" y="164.90" width="6.70" height="6.69" fill="#ffe6dd"/>
<rect x="228.20" y="164.90" width="6.70" height="6.69" fill="#fff0eb"/>
<rect x="234.40" y="164.90" width="6.70" height="6.69" fill="#ffe1d7"/>
<rect x="240.60" y="164.90" width="6.70" height="6.69" fill="#ffebe4"/>
<rect x="246.80" y="164.90" width="6.70" height="6.69" fill="#ffebe4"/>
<rect x="253.00" y="164.90" width="6.70" height="6.69" fill="#efe3ff"/>
<rect x="259.20" y="164.90" width="6.70" height="6.69" fill="#d0b2ff"/>
<rect x="265.40" y="164.90" width="6.70" height="6.69" fill="#f7f1ff"/>
<rect x="271.60" y="164.90" width="6.70" height="6.69" fill="#e6d5ff"/>
<rect x="277.80" y="164.90" width="6.70" height="6.69" fill="#dec7ff"/>
<rect x="284.00" y="164.90" width="6.70" height="6.69" fill="#ffffff"/>
<rect x="290.20" y="164.90" width="6.70" height="6.69" fill="#f7f1ff"/>
<rect x="296.40" y="164.90" width="6.70" height="6.69" fill="#f7f1ff"/>
<rect x="302.60" y="164.90" width="6.70" height="6.69" fill="#ffffff"/>
<rect x="308.80" y="164.90" width="6.70" height="6.69" fill="#efe3ff"/>
<rect x="315.00" y="164.90" width="6.70" height="6.69" fill="#f7f1ff"/>
<rect x="321.20" y="164.90" width="6.70" height="6.69" fill="#f7f1ff"/>
<rect x="327.40" y="164.90" width="6.70" height="6.69" fill="#ffffff"/>
<rect x="333.60" y="164.90" width="6.70" height="6.69" fill="#efe3ff"/>
<rect x="339.80" y="164.90" width="6.70" height="6.69" fill="#d9c0ff"/>
<rect x="346.00" y="164.90" width="6.70" height="6.69" fill="#e6d5ff"/>
<rect x="352.20" y="164.90" width="6.20" height="6.69" fill="#ebdcff"/>
<rect x="48.40" y="171.09" width="6.70" height="6.69" fill="#ffbea9"/>
<rect x="54.60" y="171.09" width="6.70" height="6.69" fill="#ffb49c"/>
<rect x="60.80" y="171.09" width="6.70" height="6.69" fill="#ffb9a2"/>
<rect x="67.00" y="171.09" width="6.70" height="6.69" fill="#ffb9a2"/>
<rect x="73.20" y="171.09" width="6.70" height="6.69" fill="#ffa489"/>
<rect x="79.40" y="171.09" width="6.70" height="6.69" fill="#ffb9a2"/>
<rect x="85.60" y="171.09" width="6.70" height="6.69" fill="#ffb9a2"/>
<rect x="91.80" y="171.09" width="6.70" height="6.69" fill="#ffe1d7"/>
<rect x="98.00" y="171.09" width="6.70" height="6.69" fill="#ffb49c"/>
<rect x="104.20" y="171.09" width="6.70" height="6.69" fill="#ffaf96"/>
<rect x="110.40" y="171.09" width="6.70" height="6.69" fill="#ffaf96"/>
<rect x="116.60" y="171.09" width="6.70" height="6.69" fill="#ff0000"/>
<rect x="122.80" y="171.09" width="6.70" height="6.69" fill="#ffb49c"/>
<rect x="129.00" y="171.09" width="6.70" height="6.69" fill="#ffbea9"/>
<rect x="135.20" y="171.09" width="6.70" height="6.69" fill="#ffc3af"/>
<rect x="141.40" y="171.09" width="6.70" height="6.69" fill="#ffc3af"/>
<rect x="147.60" y="171.09" width="6.70" height="6.69" fill="#ffcdbc"/>
<rect x="153.80" y="171.09" width="6.70" height="6.69" fill="#ffebe4"/>
<rect x="160.00" y="171.09" width="6.70" height="6.69" fill="#ffffff"/>
<rect x="166.20" y="171.09" width="6.70" height="6.69" fill="#ffdcd0"/>
<rect x="172.40" y="171.09" width="6.70" height="6.69" fill="#ffe1d7"/>
<rect x="178.60" y="171.09" width="6.70" height="6.69" fill="#ffe1d7"/>
<rect x="184.80" y="171.09" width="6.70" height="6.69" fill="#ffe1d7"/>
<rect x="191.00" y="171.09" width="6.70" height="6.69" fill="#ffebe4"/>
<rect x="197.20" y="171.09" width="6.70" height="6.69" fill="#ffebe4"/>
<rect x="203.40" y="171.09" width="6.70" height="6.69" fill="#ffebe4"/>
<rect x="209.60" y="171.09" width="6.70" height="6.69" fill="#fff5f1"/>
<rect x="215.80" y="171.09" width="6.70" height="6.69" fill="#ffebe4"/>
<rect x="222.00" y="171.09" width="6.70" height="6.69" fill="#fbf8ff"/>
<rect x="228.20" y="171.09" width="6.70" height="6.69" fill="#fff0eb"/>
<rect x="234.40" y="171.09" width="6.70" height="6.69" fill="#ffebe4"/>
<rect x="240.60" y="171.09" width="6.70" height="6.69" fill="#f7f1ff"/>
<rect x="246.80" y="171.09" width="6.70" height="6.69" fill="#f7f1ff"/>
<rect x="253.00" y="171.09" width="6.70" height="6.69" fill="#ebdcff"/>
<rect x="259.20" y="171.09" width="6.70" height="6.69" fill="#c19dff"/>
<rect x="265.40" y="171.09" width="6.70" height="6.69" fill="#efe3ff"/>
<rect x="271.60" y="171.09" width="6.70" height="6.69" fill="#e6d5ff"/>
<rect x="277.80" y="171.09" width="6.70" height="6.69" fill="#d4b9ff"/>
<rect x="284.00" y="171.09" width="6.70" height="6.69" fill="#ffffff"/>
<rect x="290.20" y="171.09" width="6.70" height="6.69" fill="#efe3ff"/>
<rect x="296.40" y="171.09" width="6.70" height="6.69" fill="#f7f1ff"/>
<rect x="302.60" y="171.09" width="6.70" height="6.69" fill="#fbf8ff"/>
<rect x="308.80" y="171.09" width="6.70" height="6.69" fill="#efe3ff"/>
<rect x="315.00" y="171.09" width="6.70" height="6.69" fill="#e6d5ff"/>
<rect x="321.20" y="171.09" width="6.70" height="6.69" fill="#efe3ff"/>
<rect x="327.40" y="171.09" width="6.70" height="6.69" fill="#efe3ff"/>
<rect x="333.60" y="171.09" width="6.70" height="6.69" fill="#d9c0ff"/>
<rect x="339.80" y="171.09" width="6.70" height="6.69" fill="#c6a4ff"/>
<rect x="346.00" y="171.09" width="6.70" height="6.69" fill="#d9c0ff"/>
<rect x="352.20" y="171.09" width="6.20" height="6.69" fill="#e2ceff"/>
<rect x="48.40" y="177.28" width="6.70" height="6.69" fill="#ffd7c9"/>
<rect x="54.60" y="177.28" width="6.70" height="6.69" fill="#ffc3af"/>
<rect x="60.80" y="177.28" width="6.70" height="6.69" fill="#ffc3af"/>
<rect x="67.00" y="177.28" width="6.70" height="6.69" fill="#ffb49c"/>
<rect x="73.20" y="177.28" width="6.70" height="6.69" fill="#ffaf96"/>
<rect x="79.40" y="177.28" width="6.70" height="6.69" fill="#ffc3af"/>
<rect x="85.60" y="177.28" width="6.70" height="6.69" fill="#ffc3af"/>
<rect x="91.80" y="177.28" width="6.70" height="6.69" fill="#ffe1d7"/>
<rect x="98.00" y="177.28" width="6.70" height="6.69" fill="#ffb49c"/>
<rect x="104.20" y="177.28" width="6.70" height="6.69" fill="#ffb49c"/>
<rect x="110.40" y="177.28" width="6.70" height="6.69" fill="#ffb49c"/>
<rect x="116.60" y="177.28" width="6.70" height="6.69" fill="#ffb49c"/>
<rect x="122.80" y="177.28" width="6.70" height="6.69" fill="#ff0000"/>
<rect x="129.00" y="177.28" width="6.70" height="6.69" fill="#ffc3af"/>
<rect x="135.20" y="177.28" width="6.70" height="6.69" fill="#ffc8b6"/>
<rect x="141.40" y="177.28" width="6.70" height="6.69" fill="#ffcdbc"/>
<rect x="147.60" y="177.28" width="6.70" height="6.69" fill="#ffd7c9"/>
<rect x="153.80" y="177.28" width="6.70" height="6.69" fill="#ffebe4"/>
<rect x="160.00" y="177.28" width="6.70" height="6.69" fill="#ffffff"/>
<rect x="166.20" y="177.28" width="6.70" height="6.69" fill="#ffe6dd"/>
<rect x="172.40" y="177.28" width="6.70" height="6.69" fill="#ffd7c9"/>
<rect x="178.60" y="177.28" width="6.70" height="6.69" fill="#ffebe4"/>
<rect x="184.80" y="177.28" width="6.70" height="6.69" fill="#ffebe4"/>
<rect x="191.00" y="177.28" width="6.70" height="6.69" fill="#ffebe4"/>
<rect x="197.20" y="177.28" width="6.70" height="6.69" fill="#fffaf8"/>
<rect x="203.40" y="177.28" width="6.70" height="6.69" fill="#ffebe4"/>
<rect x="209.60" y="177.28" width="6.70" height="6.69" fill="#ffffff"/>
<rect x="215.80" y="177.28" width="6.70" height="6.69" fill="#ffebe4"/>
<rect x="222.00" y="177.28" width="6.70" height="6.69" fill="#ffdcd0"/>
<rect x="228.20" y="177.28" width="6.70" height="6.69" fill="#fffaf8"/>
<rect x="234.40" y="177.28" width="6.70" height="6.69" fill="#fff0eb"/>
<rect x="240.60" y="177.28" width="6.70" height="6.69" fill="#fffaf8"/>
<rect x="246.80" y="177.28" width="6.70" height="6.69" fill="#fff5f1"/>
<rect x="253.00" y="177.28" width="6.70" height="6.69" fill="#f7f1ff"/>
<rect x="259.20" y="177.28" width="6.70" height="6.69" fill="#cbabff"/>
<rect x="265.40" y="177.28" width="6.70" height="6.69" fill="#fff5f1"/>
<rect x="271.60" y="177.28" width="6.70" height="6.69" fill="#efe3ff"/>
<rect x="277.80" y="177.28" width="6.70" height="6.69" fill="#ebdcff"/>
<rect x="284.00" y="177.28" width="6.70" height="6.69" fill="#ffffff"/>
<rect x="290.20" y="177.28" width="6.70" height="6.69" fill="#f3eaff"/>
<rect x="296.40" y="177.28" width="6.70" height="6.69" fill="#f7f1ff"/>
<rect x="302.60" y="177.28" width="6.70" height="6.69" fill="#f7f1ff"/>
<rect x="308.80" y="177.28" width="6.70" height="6.69" fill="#efe3ff"/>
<rect x="315.00" y="177.28" width="6.70" height="6.69" fill="#efe3ff"/>
<rect x="321.20" y="177.28" width="6.70" height="6.69" fill="#efe3ff"/>
<rect x="327.40" y="177.28" width="6.70" height="6.69" fill="#f3eaff"/>
<rect x="333.60" y="177.28" width="6.70" height="6.69" fill="#efe3ff"/>
<rect x="339.80" y="177.28" width="6.70" height="6.69" fill="#d4b9ff"/>
<rect x="346.00" y="177.28" width="6.70" height="6.69" fill="#e2ceff"/>
<rect x="352.20" y="177.28" width="6.20" height="6.69" fill="#dec7ff"/>
<rect x="48.40" y="183.47" width="6.70" height="6.69" fill="#ffc8b6"/>
<rect x="54.60" y="183.47" width="6.70" height="6.69" fill="#ffb9a2"/>
<rect x="60.80" y="183.47" width="6.70" height="6.69" fill="#ffc3af"/>
<rect x="67.00" y="183.47" width="6.70" height="6.69" fill="#ffc3af"/>
<rect x="73.20" y="183.47" width="6.70" height="6.69" fill="#ffaf96"/>
<rect x="79.40" y="183.47" width="6.70" height="6.69" fill="#ffcdbc"/>
<rect x="85.60" y="183.47" width="6.70" height="6.69" fill="#ffe1d7"/>
<rect x="91.80" y="183.47" width="6.70" height="6.69" fill="#efe3ff"/>
<rect x="98.00" y="183.47" width="6.70" height="6.69" fill="#ffb49c"/>
<rect x="104.20" y="183.47" width="6.70" height="6.69" fill="#ffb49c"/>
<rect x="110.40" y="183.47" width="6.70" height="6.69" fill="#ffbea9"/>
<rect x="116.60" y="183.47" width="6.70" height="6.69" fill="#ffbea9"/>
<rect x="122.80" y="183.47" width="6.70" height="6.69" fill="#ffc3af"/>
<rect x="129.00" y="183.47" width="6.70" height="6.69" fill="#ff0000"/>
<rect x="135.20" y="183.47" width="6.70" height="6.69" fill="#ffd2c3"/>
<rect x="141.40" y="183.47" width="6.70" height="6.69" fill="#ffc8b6"/>
<rect x="147.60" y="183.47" width="6.70" height="6.69" fill="#ffd2c3"/>
<rect x="153.80" y="183.47" width="6.70" height="6.69" fill="#ffebe4"/>
<rect x="160.00" y="183.47" width="6.70" height="6.69" fill="#f7f1ff"/>
<rect x="166.20" y="183.47" width="6.70" height="6.69" fill="#fff0eb"/>
<rect x="172.40" y="183.47" width="6.70" height="6.69" fill="#fff0eb"/>
<rect x="178.60" y="183.47" width="6.70" height="6.69" fill="#fff0eb"/>
<rect x="184.80" y="183.47" width="6.70" height="6.69" fill="#ffe1d7"/>
<rect x="191.00" y="183.47" width="6.70" height="6.69" fill="#f7f1ff"/>
<rect x="197.20" y="183.47" width="6.70" height="6.69" fill="#f7f1ff"/>
<rect x="203.40" y="183.47" width="6.70" height="6.69" fill="#fff5f1"/>
<rect x="209.60" y="183.47" width="6.70" height="6.69" fill="#efe3ff"/>
<rect x="215.80" y="183.47" width="6.70" height="6.69" fill="#ffebe4"/>
<rect x="222.00" y="183.47" width="6.70" height="6.69" fill="#ffe1d7"/>
<rect x="228.20" y="183.47" width="6.70" height="6.69" fill="#fff5f1"/>
<rect x="234.40" y="183.47" width="6.70" height="6.69" fill="#ffebe4"/>
<rect x="240.60" y="183.47" width="6.70" height="6.69" fill="#fffaf8"/>
<rect x="246.80" y="183.47" width="6.70" height="6.69" fill="#fff5f1"/>
<rect x="253.00" y="183.47" width="6.70" height="6.69" fill="#e6d5ff"/>
<rect x="259.20" y="183.47" width="6.70" height="6.69" fill="#cbabff"/>
<rect x="265.40" y="183.47" width="6.70" height="6.69" fill="#f3eaff"/>
<rect x="271.60" y="183.47" width="6.70" height="6.69" fill="#efe3ff"/>
<rect x="277.80" y="183.47" width="6.70" height="6.69" fill="#dec7ff"/>
<rect x="284.00" y="183.47" width="6.70" height="6.69" fill="#ffffff"/>
<rect x="290.20" y="183.47" width="6.70" height="6.69" fill="#f7f1ff"/>
<rect x="296.40" y="183.47" width="6.70" height="6.69" fill="#fbf8ff"/>
<rect x="302.60" y="183.47" width="6.70" height="6.69" fill="#ffffff"/>
<rect x="308.80" y="183.47" width="6.70" height="6.69" fill="#efe3ff"/>
<rect x="315.00" y="183.47" width="6.70" height="6.69" fill="#f7f1ff"/>
<rect x="321.20" y="183.47" width="6.70" height="6.69" fill="#fff5f1"/>
<rect x="327.40" y="183.47" width="6.70" height="6.69" fill="#fff5f1"/>
<rect x="333.60" y="183.47" width="6.70" height="6.69" fill="#f7f1ff"/>
<rect x="339.80" y="183.47" width="6.70" height="6.69" fill="#efe3ff"/>
<rect x="346.00" y="183.47" width="6.70" height="6.69" fill="#efe3ff"/>
<rect x="352.20" y="183.47" width="6.20" height="6.69" fill="#ebdcff"/>
<rect x="48.40" y="189.66" width="6.70" height="6.69" fill="#ffc3af"/>
<rect x="54.60" y="189.66" width="6.70" height="6.69" fill="#ffb9a2"/>
<rect x="60.80" y="189.66" width="6.70" height="6.69" fill="#ffc3af"/>
<rect x="67.00" y="189.66" width="6.70" height="6.69" fill="#ffc3af"/>
<rect x="73.20" y="189.66" width="6.70" height="6.69" fill="#ffc3af"/>
<rect x="79.40" y="189.66" width="6.70" height="6.69" fill="#ffcdbc"/>
<rect x="85.60" y="189.66" width="6.70" height="6.69" fill="#ffe6dd"/>
<rect x="91.80" y="189.66" width="6.70" height="6.69" fill="#ffebe4"/>
<rect x="98.00" y="189.66" width="6.70" height="6.69" fill="#ffc3af"/>
<rect x="104.20" y="189.66" width="6.70" height="6.69" fill="#ffc3af"/>
<rect x="110.40" y="189.66" width="6.70" height="6.69" fill="#ffc3af"/>
<rect x="116.60" y="189.66" width="6.70" height="6.69" fill="#ffc3af"/>
<rect x="122.80" y="189.66" width="6.70" height="6.69" fill="#ffc8b6"/>
<rect x="129.00" y="189.66" width="6.70" height="6.69" fill="#ffd2c3"/>
<rect x="135.20" y="189.66" width="6.70" height="6.69" fill="#ff0000"/>
<rect x="141.40" y="189.66" width="6.70" height="6.69" fill="#ffbea9"/>
<rect x="147.60" y="189.66" width="6.70" height="6.69" fill="#ffcdbc"/>
<rect x="153.80" y="189.66" width="6.70" height="6.69" fill="#ffebe4"/>
<rect x="160.00" y="189.66" width="6.70" height="6.69" fill="#fff0eb"/>
<rect x="166.20" y="189.66" width="6.70" height="6.69" fill="#ffe6dd"/>
<rect x="172.40" y="189.66" width="6.70" height="6.69" fill="#ffe1d7"/>
<rect x="178.60" y="189.66" width="6.70" height="6.69" fill="#ffe1d7"/>
<rect x="184.80" y="189.66" width="6.70" height="6.69" fill="#ffd7c9"/>
<rect x="191.00" y="189.66" width="6.70" height="6.69" fill="#ffebe4"/>
<rect x="197.20" y="189.66" width="6.70" height="6.69" fill="#fff5f1"/>
<rect x="203.40" y="189.66" width="6.70" height="6.69" fill="#fffaf8"/>
<rect x="209.60" y="189.66" width="6.70" height="6.69" fill="#f7f1ff"/>
<rect x="215.80" y="189.66" width="6.70" height="6.69" fill="#ffebe4"/>
<rect x="222.00" y="189.66" width="6.70" height="6.69" fill="#fff0eb"/>
<rect x="228.20" y="189.66" width="6.70" height="6.69" fill="#fff0eb"/>
<rect x="234.40" y="189.66" width="6.70" height="6.69" fill="#ffe1d7"/>
<rect x="240.60" y="189.66" width="6.70" height="6.69" fill="#ffe6dd"/>
<rect x="246.80" y="189.66" width="6.70" height="6.69" fill="#ffebe4"/>
<rect x="253.00" y="189.66" width="6.70" height="6.69" fill="#ffffff"/>
<rect x="259.20" y="189.66" width="6.70" height="6.69" fill="#efe3ff"/>
<rect x="265.40" y="189.66" width="6.70" height="6.69" fill="#efe3ff"/>
<rect x="271.60" y="189.66" width="6.70" height="6.69" fill="#f7f1ff"/>
<rect x="277.80" y="189.66" width="6.70" height="6.69" fill="#d0b2ff"/>
<rect x="284.00" y="189.66" width="6.70" height="6.69" fill="#f3eaff"/>
<rect x="290.20" y="189.66" width="6.70" height="6.69" fill="#efe3ff"/>
<rect x="296.40" y="189.66" width="6.70" height="6.69" fill="#efe3ff"/>
<rect x="302.60" y="189.66" width="6.70" height="6.69" fill="#f7f1ff"/>
<rect x="308.80" y="189.66" width="6.70" height="6.69" fill="#f7f1ff"/>
<rect x="315.00" y="189.66" width="6.70" height="6.69" fill="#fff5f1"/>
<rect x="321.20" y="189.66" width="6.70" height="6.69" fill="#f7f1ff"/>
<rect x="327.40" y="189.66" width="6.70" height="6.69" fill="#fff0eb"/>
<rect x="333.60" y="189.66" width="6.70" height="6.69" fill="#ffffff"/>
<rect x="339.80" y="189.66" width="6.70" height="6.69" fill="#efe3ff"/>
<rect x="346.00" y="189.66" width="6.70" height="6.69" fill="#efe3ff"/>
<rect x="352.20" y="189.66" width="6.20" height="6.69" fill="#efe3ff"/>
<rect x="48.40" y="195.85" width="6.70" height="6.69" fill="#ffc8b6"/>
<rect x="54.60" y="195.85" width="6.70" height="6.69" fill="#ffaa8f"/>
<rect x="60.80" y="195.85" width="6.70" height="6.69" fill="#ffaa8f"/>
<rect x="67.00" y="195.85" width="6.70" height="6.69" fill="#ffc3af"/>
<rect x="73.20" y="195.85" width="6.70" height="6.69" fill="#ffb9a2"/>
<rect x="79.40" y="195.85" width="6.70" height="6.69" fill="#ffc3af"/>
<rect x="85.60" y="195.85" width="6.70" height="6.69" fill="#ffcdbc"/>
<rect x="91.80" y="195.85" width="6.70" height="6.69" fill="#ffebe4"/>
<rect x="98.00" y="195.85" width="6.70" height="6.69" fill="#ffc3af"/>
<rect x="104.20" y="195.85" width="6.70" height="6.69" fill="#ffc8b6"/>
<rect x="110.40" y="195.85" width="6.70" height="6.69" fill="#ffc3af"/>
<rect x="116.60" y="195.85" width="6.70" height="6.69" fill="#ffc3af"/>
<rect x="122.80" y="195.85" width="6.70" height="6.69" fill="#ffcdbc"/>
<rect x="129.00" y="195.85" width="6.70" height="6.69" fill="#ffc8b6"/>
<rect x="135.20" y="195.85" width="6.70" height="6.69" fill="#ffbea9"/>
<rect x="141.40" y="195.85" width="6.70" height="6.69" fill="#ff0000"/>
<rect x="147.60" y="195.85" width="6.70" height="6.69" fill="#ffc3af"/>
<rect x="153.80" y="195.85" width="6.70" height="6.69" fill="#fffaf8"/>
<rect x="160.00" y="195.85" width="6.70" height="6.69" fill="#ffffff"/>
<rect x="166.20" y="195.85" width="6.70" height="6.69" fill="#ffebe4"/>
<rect x="172.40" y="195.85" width="6.70" height="6.69" fill="#ffebe4"/>
<rect x="178.60" y="195.85" width="6.70" height="6.69" fill="#fff5f1"/>
<rect x="184.80" y="195.85" width="6.70" height="6.69" fill="#ffe1d7"/>
<rect x="191.00" y="195.85" width="6.70" height="6.69" fill="#f7f1ff"/>
<rect x="197.20" y="195.85" width="6.70" height="6.69" fill="#fff5f1"/>
<rect x="203.40" y="195.85" width="6.70" height="6.69" fill="#f7f1ff"/>
<rect x="209.60" y="195.85" width="6.70" height="6.69" fill="#efe3ff"/>
<rect x="215.80" y="195.85" width="6.70" height="6.69" fill="#ffffff"/>
<rect x="222.00" y="195.85" width="6.70" height="6.69" fill="#ffebe4"/>
<rect x="228.20" y="195.85" width="6.70" height="6.69" fill="#fff0eb"/>
<rect x="234.40" y="195.85" width="6.70" height="6.69" fill="#ffe1d7"/>
<rect x="240.60" y="195.85" width="6.70" height="6.69" fill="#fff0eb"/>
<rect x="246.80" y="195.85" width="6.70" height="6.69" fill="#ffffff"/>
<rect x="253.00" y="195.85" width="6.70" height="6.69" fill="#ebdcff"/>
<rect x="259.20" y="195.85" width="6.70" height="6.69" fill="#ebdcff"/>
<rect x="265.40" y="195.85" width="6.70" height="6.69" fill="#f3eaff"/>
<rect x="271.60" y="195.85" width="6.70" height="6.69" fill="#ebdcff"/>
<rect x="277.80" y="195.85" width="6.70" height="6.69" fill="#dec7ff"/>
<rect x="284.00" y="195.85" width="6.70" height="6.69" fill="#f7f1ff"/>
<rect x="290.20" y="195.85" width="6.70" height="6.69" fill="#f7f1ff"/>
<rect x="296.40" y="195.85" width="6.70" height="6.69" fill="#efe3ff"/>
<rect x="302.60" y="195.85" width="6.70" height="6.69" fill="#efe3ff"/>
<rect x="308.80" y="195.85" width="6.70" height="6.69" fill="#f3eaff"/>
<rect x="315.00" y="195.85" width="6.70" height="6.69" fill="#ebdcff"/>
<rect x="321.20" y="195.85" width="6.70" height="6.69" fill="#f3eaff"/>
<rect x="327.40" y="195.85" width="6.70" height="6.69" fill="#f3eaff"/>
<rect x="333.60" y="195.85" width="6.70" height="6.69" fill="#e2ceff"/>
<rect x="339.80" y="195.85" width="6.70" height="6.69" fill="#d9c0ff"/>
<rect x="346.00" y="195.85" width="6.70" height="6.69" fill="#e6d5ff"/>
<rect x="352.20" y="195.85" width="6.20" height="6.69" fill="#efe3ff"/>
<rect x="48.40" y="202.04" width="6.70" height="6.69" fill="#ffc8b6"/>
<rect x="54.60" y="202.04" width="6.70" height="6.69" fill="#ffaa8f"/>
<rect x="60.80" y="202.04" width="6.70" height="6.69" fill="#ffaf96"/>
<rect x="67.00" y="202.04" width="6.70" height="6.69" fill="#ffc3af"/>
<rect x="73.20" y="202.04" width="6.70" height="6.69" fill="#ffb9a2"/>
<rect x="79.40" y="202.04" width="6.70" height="6.69" fill="#ffbea9"/>
<rect x="85.60" y="202.04" width="6.70" height="6.69" fill="#ffcdbc"/>
<rect x="91.80" y="202.04" width="6.70" height="6.69" fill="#fff5f1"/>
<rect x="98.00" y="202.04" width="6.70" height="6.69" fill="#ffcdbc"/>
<rect x="104.20" y="202.04" width="6.70" height="6.69" fill="#ffcdbc"/>
<rect x="110.40" y="202.04" width="6.70" height="6.69" fill="#ffc8b6"/>
<rect x="116.60" y="202.04" width="6.70" height="6.69" fill="#ffcdbc"/>
<rect x="122.80" y="202.04" width="6.70" height="6.69" fill="#ffd7c9"/>
<rect x="129.00" y="202.04" width="6.70" height="6.69" fill="#ffd2c3"/>
<rect x="135.20" y="202.04" width="6.70" height="6.69" fill="#ffcdbc"/>
<rect x="141.40" y="202.04" width="6.70" height="6.69" fill="#ffc3af"/>
<rect x="147.60" y="202.04" width="6.70" height="6.69" fill="#ff0000"/>
<rect x="153.80" y="202.04" width="6.70" height="6.69" fill="#fffaf8"/>
<rect x="160.00" y="202.04" width="6.70" height="6.69" fill="#ffffff"/>
<rect x="166.20" y="202.04" width="6.70" height="6.69" fill="#fff0eb"/>
<rect x="172.40" y="202.04" width="6.70" height="6.69" fill="#ffffff"/>
<rect x="178.60" y="202.04" width="6.70" height="6.69" fill="#fff0eb"/>
<rect x="184.80" y="202.04" width="6.70" height="6.69" fill="#ffe1d7"/>
<rect x="191.00" y="202.04" width="6.70" height="6.69" fill="#f7f1ff"/>
<rect x="197.20" y="202.04" width="6.70" height="6.69" fill="#fff5f1"/>
<rect x="203.40" y="202.04" width="6.70" height="6.69" fill="#f7f1ff"/>
<rect x="209.60" y="202.04" width="6.70" height="6.69" fill="#ffffff"/>
<rect x="215.80" y="202.04" width="6.70" height="6.69" fill="#f7f1ff"/>
<rect x="222.00" y="202.04" width="6.70" height="6.69" fill="#fff5f1"/>
<rect x="228.20" y="202.04" width="6.70" height="6.69" fill="#fff0eb"/>
<rect x="234.40" y="202.04" width="6.70" height="6.69" fill="#ffebe4"/>
<rect x="240.60" y="202.04" width="6.70" height="6.69" fill="#ffffff"/>
<rect x="246.80" y="202.04" width="6.70" height="6.69" fill="#ffffff"/>
<rect x="253.00" y="202.04" width="6.70" height="6.69" fill="#efe3ff"/>
<rect x="259.20" y="202.04" width="6.70" height="6.69" fill="#e6d5ff"/>
<rect x="265.40" y="202.04" width="6.70" height="6.69" fill="#e6d5ff"/>
<rect x="271.60" y="202.04" width="6.70" height="6.69" fill="#e2ceff"/>
<rect x="277.80" y="202.04" width="6.70" height="6.69" fill="#d9c0ff"/>
<rect x="284.00" y="202.04" width="6.70" height="6.69" fill="#ffffff"/>
<rect x="290.20" y="202.04" width="6.70" height="6.69" fill="#efe3ff"/>
<rect x="296.40" y="202.04" width="6.70" height="6.69" fill="#f7f1ff"/>
<rect x="302.60" y="202.04" width="6.70" height="6.69" fill="#f7f1ff"/>
<rect x="308.80" y="202.04" width="6.70" height="6.69" fill="#f3eaff"/>
<rect x="315.00" y="202.04" width="6.70" height="6.69" fill="#e6d5ff"/>
<rect x="321.20" y="202.04" width="6.70" height="6.69" fill="#f7f1ff"/>
<rect x="327.40" y="202.04" width="6.70" height="6.69" fill="#f3eaff"/>
<rect x="333.60" y="202.04" width="6.70" height="6.69" fill="#e6d5ff"/>
<rect x="339.80" y="202.04" width="6.70" height="6.69" fill="#dec7ff"/>
<rect x="346.00" y="202.04" width="6.70" height="6.69" fill="#efe3ff"/>
<rect x="352.20" y="202.04" width="6.20" height="6.69" fill="#efe3ff"/>
<rect x="48.40" y="208.23" width="6.70" height="6.69" fill="#ffcdbc"/>
<rect x="54.60" y="208.23" width="6.70" height="6.69" fill="#ffcdbc"/>
<rect x="60.80" y="208.23" width="6.70" height="6.69" fill="#ffe6dd"/>
<rect x="67.00" y="208.23" width="6.70" height="6.69" fill="#ffdcd0"/>
<rect x="73.20" y="208.23" width="6.70" height="6.69" fill="#ffdcd0"/>
<rect x="79.40" y="208.23" width="6.70" height="6.69" fill="#ffd7c9"/>
<rect x="85.60" y="208.23" width="6.70" height="6.69" fill="#ffd2c3"/>
<rect x="91.80" y="208.23" width="6.70" height="6.69" fill="#ffc3af"/>
<rect x="98.00" y="208.23" width="6.70" height="6.69" fill="#ffcdbc"/>
<rect x="104.20" y="208.23" width="6.70" height="6.69" fill="#ffdcd0"/>
<rect x="110.40" y="208.23" width="6.70" height="6.69" fill="#ffe1d7"/>
<rect x="116.60" y="208.23" width="6.70" height="6.69" fill="#ffebe4"/>
<rect x="122.80" y="208.23" width="6.70" height="6.69" fill="#ffebe4"/>
<rect x="129.00" y="208.23" width="6.70" height="6.69" fill="#ffebe4"/>
<rect x="135.20" y="208.23" width="6.70" height="6.69" fill="#ffebe4"/>
<rect x="141.40" y="208.23" width="6.70" height="6.69" fill="#fffaf8"/>
<rect x="147.60" y="208.23" width="6.70" height="6.69" fill="#fffaf8"/>
<rect x="153.80" y="208.23" width="6.70" height="6.69" fill="#ff0000"/>
<rect x="160.00" y="208.23" width="6.70" height="6.69" fill="#ffb49c"/>
<rect x="166.20" y="208.23" width="6.70" height="6.69" fill="#ffc3af"/>
<rect x="172.40" y="208.23" width="6.70" height="6.69" fill="#ffa489"/>
<rect x="178.60" y="208.23" width="6.70" height="6.69" fill="#ffa489"/>
<rect x="184.80" y="208.23" width="6.70" height="6.69" fill="#ffc8b6"/>
<rect x="191.00" y="208.23" width="6.70" height="6.69" fill="#ffe1d7"/>
<rect x="197.20" y="208.23" width="6.70" height="6.69" fill="#ffdcd0"/>
<rect x="203.40" y="208.23" width="6.70" height="6.69" fill="#fff5f1"/>
<rect x="209.60" y="208.23" width="6.70" height="6.69" fill="#fff0eb"/>
<rect x="215.80" y="208.23" width="6.70" height="6.69" fill="#fff5f1"/>
<rect x="222.00" y="208.23" width="6.70" height="6.69" fill="#ffffff"/>
<rect x="228.20" y="208.23" width="6.70" height="6.69" fill="#f7f1ff"/>
<rect x="234.40" y="208.23" width="6.70" height="6.69" fill="#ffd7c9"/>
<rect x="240.60" y="208.23" width="6.70" height="6.69" fill="#ffd7c9"/>
<rect x="246.80" y="208.23" width="6.70" height="6.69" fill="#ffd7c9"/>
<rect x="253.00" y="208.23" width="6.70" height="6.69" fill="#ffbea9"/>
<rect x="259.20" y="208.23" width="6.70" height="6.69" fill="#fff5f1"/>
<rect x="265.40" y="208.23" width="6.70" height="6.69" fill="#fff5f1"/>
<rect x="271.60" y="208.23" width="6.70" height="6.69" fill="#f7f1ff"/>
<rect x="277.80" y="208.23" width="6.70" height="6.69" fill="#fff5f1"/>
<rect x="284.00" y="208.23" width="6.70" height="6.69" fill="#fff5f1"/>
<rect x="290.20" y="208.23" width="6.70" height="6.69" fill="#f7f1ff"/>
<rect x="296.40" y="208.23" width="6.70" height="6.69" fill="#fff5f1"/>
<rect x="302.60" y="208.23" width="6.70" height="6.69" fill="#ffebe4"/>
<rect x="308.80" y="208.23" width="6.70" height="6.69" fill="#f7f1ff"/>
<rect x="315.00" y="208.23" width="6.70" height="6.69" fill="#ffcdbc"/>
<rect x="321.20" y="208.23" width="6.70" height="6.69" fill="#fff5f1"/>
<rect x="327.40" y="208.23" width="6.70" height="6.69" fill="#fff5f1"/>
<rect x="333.60" y="208.23" width="6.70" height="6.69" fill="#ffffff"/>
<rect x="339.80" y="208.23" width="6.70" height="6.69" fill="#f7f1ff"/>
<rect x="346.00" y="208.23" width="6.70" height="6.69" fill="#efe3ff"/>
<rect x="352.20" y="208.23" width="6.20" height="6.69" fill="#efe3ff"/>
<rect x="48.40" y="214.42" width="6.70" height="6.69" fill="#ffd2c3"/>
<rect x="54.60" y="214.42" width="6.70" height="6.69" fill="#ffdcd0"/>
<rect x="60.80" y="214.42" width="6.70" height="6.69" fill="#ffe1d7"/>
<rect x="67.00" y="214.42" width="6.70" height="6.69" fill="#ffe1d7"/>
<rect x="73.20" y="214.42" width="6.70" height="6.69" fill="#ffe1d7"/>
<rect x="79.40" y="214.42" width="6.70" height="6.69" fill="#ffe1d7"/>
<rect x="85.60" y="214.42" width="6.70" height="6.69" fill="#ffcdbc"/>
<rect x="91.80" y="214.42" width="6.70" height="6.69" fill="#ffc3af"/>
<rect x="98.00" y="214.42" width="6.70" height="6.69" fill="#ffe6dd"/>
<rect x="104.20" y="214.42" width="6.70" height="6.69" fill="#ffebe4"/>
<rect x="110.40" y="214.42" width="6.70" height="6.69" fill="#fffaf8"/>
<rect x="116.60" y="214.42" width="6.70" height="6.69" fill="#ffffff"/>
<rect x="122.80" y="214.42" width="6.70" height="6.69" fill="#ffffff"/>
<rect x="129.00" y="214.42" width="6.70" height="6.69" fill="#f7f1ff"/>
<rect x="135.20" y="214.42" width="6.70" height="6.69" fill="#fff0eb"/>
<rect x="141.40" y="214.42" width="6.70" height="6.69" fill="#ffffff"/>
<rect x="147.60" y="214.42" width="6.70" height="6.69" fill="#ffffff"/>
<rect x="153.80" y="214.42" width="6.70" height="6.69" fill="#ffb49c"/>
<rect x="160.00" y="214.42" width="6.70" height="6.69" fill="#ff0000"/>
<rect x="166.20" y="214.42" width="6.70" height="6.69" fill="#ffbea9"/>
<rect x="172.40" y="214.42" width="6.70" height="6.69" fill="#ffa489"/>
<rect x="178.60" y="214.42" width="6.70" height="6.69" fill="#ff8f70"/>
<rect x="184.80" y="214.42" width="6.70" height="6.69" fill="#ffc3af"/>
<rect x="191.00" y="214.42" width="6.70" height="6.69" fill="#ffd7c9"/>
<rect x="197.20" y="214.42" width="6.70" height="6.69" fill="#ffd2c3"/>
<rect x="203.40" y="214.42" width="6.70" height="6.69" fill="#fff5f1"/>
<rect x="209.60" y="214.42" width="6.70" height="6.69" fill="#fff0eb"/>
<rect x="215.80" y="214.42" width="6.70" height="6.69" fill="#fff0eb"/>
<rect x="222.00" y="214.42" width="6.70" height="6.69" fill="#fffaf8"/>
<rect x="228.20" y="214.42" width="6.70" height="6.69" fill="#ffffff"/>
<rect x="234.40" y="214.42" width="6.70" height="6.69" fill="#ffd7c9"/>
<rect x="240.60" y="214.42" width="6.70" height="6.69" fill="#ffd7c9"/>
<rect x="246.80" y="214.42" width="6.70" height="6.69" fill="#ffdcd0"/>
<rect x="253.00" y="214.42" width="6.70" height="6.69" fill="#ffb9a2"/>
<rect x="259.20" y="214.42" width="6.70" height="6.69" fill="#ffebe4"/>
<rect x="265.40" y="214.42" width="6.70" height="6.69" fill="#fff5f1"/>
<rect x="271.60" y="214.42" width="6.70" height="6.69" fill="#fff0eb"/>
<rect x="277.80" y="214.42" width="6.70" height="6.69" fill="#ffffff"/>
<rect x="284.00" y="214.42" width="6.70" height="6.69" fill="#ffffff"/>
<rect x="290.20" y="214.42" width="6.70" height="6.69" fill="#f7f1ff"/>
<rect x="296.40" y="214.42" width="6.70" height="6.69" fill="#fff5f1"/>
<rect x="302.60" y="214.42" width="6.70" height="6.69" fill="#fff5f1"/>
<rect x="308.80" y="214.42" width="6.70" height="6.69" fill="#ffffff"/>
<rect x="315.00" y="214.42" width="6.70" height="6.69" fill="#ffcdbc"/>
<rect x="321.20" y="214.42" width="6.70" height="6.69" fill="#fff5f1"/>
<rect x="327.40" y="214.42" width="6.70" height="6.69" fill="#fff5f1"/>
<rect x="333.60" y="214.42" width="6.70" height="6.69" fill="#ffffff"/>
<rect x="339.80" y="214.42" width="6.70" height="6.69" fill="#f7f1ff"/>
<rect x="346.00" y="214.42" width="6.70" height="6.69" fill="#f3eaff"/>
<rect x="352.20" y="214.42" width="6.20" height="6.69" fill="#efe3ff"/>
<rect x="48.40" y="220.61" width="6.70" height="6.69" fill="#ffc3af"/>
<rect x="54.60" y="220.61" width="6.70" height="6.69" fill="#ffb9a2"/>
<rect x="60.80" y="220.61" width="6.70" height="6.69" fill="#ffc3af"/>
<rect x="67.00" y="220.61" width="6.70" height="6.69" fill="#ffb49c"/>
<rect x="73.20" y="220.61" width="6.70" height="6.69" fill="#ffb9a2"/>
<rect x="79.40" y="220.61" width="6.70" height="6.69" fill="#ffaf96"/>
<rect x="85.60" y="220.61" width="6.70" height="6.69" fill="#ff9f83"/>
<rect x="91.80" y="220.61" width="6.70" height="6.69" fill="#ffa489"/>
<rect x="98.00" y="220.61" width="6.70" height="6.69" fill="#ffb9a2"/>
<rect x="104.20" y="220.61" width="6.70" height="6.69" fill="#ffcdbc"/>
<rect x="110.40" y="220.61" width="6.70" height="6.69" fill="#ffe1d7"/>
<rect x="116.60" y="220.61" width="6.70" height="6.69" fill="#ffdcd0"/>
<rect x="122.80" y="220.61" width="6.70" height="6.69" fill="#ffe6dd"/>
<rect x="129.00" y="220.61" width="6.70" height="6.69" fill="#fff0eb"/>
<rect x="135.20" y="220.61" width="6.70" height="6.69" fill="#ffe6dd"/>
<rect x="141.40" y="220.61" width="6.70" height="6.69" fill="#ffebe4"/>
<rect x="147.60" y="220.61" width="6.70" height="6.69" fill="#fff0eb"/>
<rect x="153.80" y="220.61" width="6.70" height="6.69" fill="#ffc3af"/>
<rect x="160.00" y="220.61" width="6.70" height="6.69" fill="#ffbea9"/>
<rect x="166.20" y="220.61" width="6.70" height="6.69" fill="#ff0000"/>
<rect x="172.40" y="220.61" width="6.70" height="6.69" fill="#ffaf96"/>
<rect x="178.60" y="220.61" width="6.70" height="6.69" fill="#ffaf96"/>
<rect x="184.80" y="220.61" width="6.70" height="6.69" fill="#ffc3af"/>
<rect x="191.00" y="220.61" width="6.70" height="6.69" fill="#ffc3af"/>
<rect x="197.20" y="220.61" width="6.70" height="6.69" fill="#ffb49c"/>
<rect x="203.40" y="220.61" width="6.70" height="6.69" fill="#ffe6dd"/>
<rect x="209.60" y="220.61" width="6.70" height="6.69" fill="#ffdcd0"/>
<rect x="215.80" y="220.61" width="6.70" height="6.69" fill="#ffebe4"/>
<rect x="222.00" y="220.61" width="6.70" height="6.69" fill="#fff5f1"/>
<rect x="228.20" y="220.61" width="6.70" height="6.69" fill="#fff5f1"/>
<rect x="234.40" y="220.61" width="6.70" height="6.69" fill="#ffe1d7"/>
<rect x="240.60" y="220.61" width="6.70" height="6.69" fill="#fff0eb"/>
<rect x="246.80" y="220.61" width="6.70" height="6.69" fill="#f7f1ff"/>
<rect x="253.00" y="220.61" width="6.70" height="6.69" fill="#ffb9a2"/>
<rect x="259.20" y="220.61" width="6.70" height="6.69" fill="#ffebe4"/>
<rect x="265.40" y="220.61" width="6.70" height="6.69" fill="#fff5f1"/>
<rect x="271.60" y="220.61" width="6.70" height="6.69" fill="#e6d5ff"/>
<rect x="277.80" y="220.61" width="6.70" height="6.69" fill="#fffaf8"/>
<rect x="284.00" y="220.61" width="6.70" height="6.69" fill="#ffffff"/>
<rect x="290.20" y="220.61" width="6.70" height="6.69" fill="#f7f1ff"/>
<rect x="296.40" y="220.61" width="6.70" height="6.69" fill="#f7f1ff"/>
<rect x="302.60" y="220.61" width="6.70" height="6.69" fill="#f3eaff"/>
<rect x="308.80" y="220.61" width="6.70" height="6.69" fill="#efe3ff"/>
<rect x="315.00" y="220.61" width="6.70" height="6.69" fill="#f7f1ff"/>
<rect x="321.20" y="220.61" width="6.70" height="6.69" fill="#e6d5ff"/>
<rect x="327.40" y="220.61" width="6.70" height="6.69" fill="#dec7ff"/>
<rect x="333.60" y="220.61" width="6.70" height="6.69" fill="#dec7ff"/>
<rect x="339.80" y="220.61" width="6.70" height="6.69" fill="#d0b2ff"/>
<rect x="346.00" y="220.61" width="6.70" height="6.69" fill="#efe3ff"/>
<rect x="352.20" y="220.61" width="6.20" height="6.69" fill="#ebdcff"/>
<rect x="48.40" y="226.80" width="6.70" height="6.69" fill="#ffc3af"/>
<rect x="54.60" y="226.80" width="6.70" height="6.69" fill="#ffd7c9"/>
<rect x="60.80" y="226.80" width="6.70" height="6.69" fill="#ffcdbc"/>
<rect x="67.00" y="226.80" width="6.70" height="6.69" fill="#ffc3af"/>
<rect x="73.20" y="226.80" width="6.70" height="6.69" fill="#ffd2c3"/>
<rect x="79.40" y="226.80" width="6.70" height="6.69" fill="#ffc8b6"/>
<rect x="85.60" y="226.80" width="6.70" height="6.69" fill="#ffaf96"/>
<rect x="91.80" y="226.80" width="6.70" height="6.69" fill="#ff9576"/>
<rect x="98.00" y="226.80" width="6.70" height="6.69" fill="#ffc3af"/>
<rect x="104.20" y="226.80" width="6.70" height="6.69" fill="#ffe1d7"/>
<rect x="110.40" y="226.80" width="6.70" height="6.69" fill="#ffdcd0"/>
<rect x="116.60" y="226.80" width="6.70" height="6.69" fill="#ffe1d7"/>
<rect x="122.80" y="226.80" width="6.70" height="6.69" fill="#ffd7c9"/>
<rect x="129.00" y="226.80" width="6.70" height="6.69" fill="#fff0eb"/>
<rect x="135.20" y="226.80" width="6.70" height="6.69" fill="#ffe1d7"/>
<rect x="141.40" y="226.80" width="6.70" height="6.69" fill="#ffebe4"/>
<rect x="147.60" y="226.80" width="6.70" height="6.69" fill="#ffffff"/>
<rect x="153.80" y="226.80" width="6.70" height="6.69" fill="#ffa489"/>
<rect x="160.00" y="226.80" width="6.70" height="6.69" fill="#ffa489"/>
<rect x="166.20" y="226.80" width="6.70" height="6.69" fill="#ffaf96"/>
<rect x="172.40" y="226.80" width="6.70" height="6.69" fill="#ff0000"/>
<rect x="178.60" y="226.80" width="6.70" height="6.69" fill="#ff9a7c"/>
<rect x="184.80" y="226.80" width="6.70" height="6.69" fill="#ffcdbc"/>
<rect x="191.00" y="226.80" width="6.70" height="6.69" fill="#ffc3af"/>
<rect x="197.20" y="226.80" width="6.70" height="6.69" fill="#ffd7c9"/>
<rect x="203.40" y="226.80" width="6.70" height="6.69" fill="#ffdcd0"/>
<rect x="209.60" y="226.80" width="6.70" height="6.69" fill="#ffd7c9"/>
<rect x="215.80" y="226.80" width="6.70" height="6.69" fill="#ffd7c9"/>
<rect x="222.00" y="226.80" width="6.70" height="6.69" fill="#ffffff"/>
<rect x="228.20" y="226.80" width="6.70" height="6.69" fill="#fff5f1"/>
<rect x="234.40" y="226.80" width="6.70" height="6.69" fill="#ffebe4"/>
<rect x="240.60" y="226.80" width="6.70" height="6.69" fill="#ffebe4"/>
<rect x="246.80" y="226.80" width="6.70" height="6.69" fill="#ffebe4"/>
<rect x="253.00" y="226.80" width="6.70" height="6.69" fill="#ffcdbc"/>
<rect x="259.20" y="226.80" width="6.70" height="6.69" fill="#f7f1ff"/>
<rect x="265.40" y="226.80" width="6.70" height="6.69" fill="#ffe1d7"/>
<rect x="271.60" y="226.80" width="6.70" height="6.69" fill="#ffffff"/>
<rect x="277.80" y="226.80" width="6.70" height="6.69" fill="#f7f1ff"/>
<rect x="284.00" y="226.80" width="6.70" height="6.69" fill="#ffe1d7"/>
<rect x="290.20" y="226.80" width="6.70" height="6.69" fill="#f7f1ff"/>
<rect x="296.40" y="226.80" width="6.70" height="6.69" fill="#ffffff"/>
<rect x="302.60" y="226.80" width="6.70" height="6.69" fill="#f7f1ff"/>
<rect x="308.80" y="226.80" width="6.70" height="6.69" fill="#f7f1ff"/>
<rect x="315.00" y="226.80" width="6.70" height="6.69" fill="#fff5f1"/>
<rect x="321.20" y="226.80" width="6.70" height="6.69" fill="#e6d5ff"/>
<rect x="327.40" y="226.80" width="6.70" height="6.69" fill="#e6d5ff"/>
<rect x="333.60" y="226.80" width="6.70" height="6.69" fill="#e6d5ff"/>
<rect x="339.80" y="226.80" width="6.70" height="6.69" fill="#dec7ff"/>
<rect x="346.00" y="226.80" width="6.70" height="6.69" fill="#ebdcff"/>
<rect x="352.20" y="226.80" width="6.20" height="6.69" fill="#d9c0ff"/>
<rect x="48.40" y="232.99" width="6.70" height="6.69" fill="#ffc3af"/>
<rect x="54.60" y="232.99" width="6.70" height="6.69" fill="#ffcdbc"/>
<rect x="60.80" y="232.99" width="6.70" height="6.69" fill="#ffcdbc"/>
<rect x="67.00" y="232.99" width="6.70" height="6.69" fill="#ffc3af"/>
<rect x="73.20" y="232.99" width="6.70" height="6.69" fill="#ffc3af"/>
<rect x="79.40" y="232.99" width="6.70" height="6.69" fill="#ffb9a2"/>
<rect x="85.60" y="232.99" width="6.70" height="6.69" fill="#ffaf96"/>
<rect x="91.80" y="232.99" width="6.70" height="6.69" fill="#ff8f70"/>
<rect x="98.00" y="232.99" width="6.70" height="6.69" fill="#ffe1d7"/>
<rect x="104.20" y="232.99" width="6.70" height="6.69" fill="#ffebe4"/>
<rect x="110.40" y="232.99" width="6.70" height="6.69" fill="#fff0eb"/>
<rect x="116.60" y="232.99" width="6.70" height="6.69" fill="#ffe1d7"/>
<rect x="122.80" y="232.99" width="6.70" height="6.69" fill="#ffebe4"/>
<rect x="129.00" y="232.99" width="6.70" height="6.69" fill="#fff0eb"/>
<rect x="135.20" y="232.99" width="6.70" height="6.69" fill="#ffe1d7"/>
<rect x="141.40" y="232.99" width="6.70" height="6.69" fill="#fff5f1"/>
<rect x="147.60" y="232.99" width="6.70" height="6.69" fill="#fff0eb"/>
<rect x="153.80" y="232.99" width="6.70" height="6.69" fill="#ffa489"/>
<rect x="160.00" y="232.99" width="6.70" height="6.69" fill="#ff8f70"/>
<rect x="166.20" y="232.99" width="6.70" height="6.69" fill="#ffaf96"/>
<rect x="172.40" y="232.99" width="6.70" height="6.69" fill="#ff9a7c"/>
<rect x="178.60" y="232.99" width="6.70" height="6.69" fill="#ff0000"/>
<rect x="184.80" y="232.99" width="6.70" height="6.69" fill="#ffcdbc"/>
<rect x="191.00" y="232.99" width="6.70" height="6.69" fill="#ffc3af"/>
<rect x="197.20" y="232.99" width="6.70" height="6.69" fill="#ffc3af"/>
<rect x="203.40" y="232.99" width="6.70" height="6.69" fill="#ffe1d7"/>
<rect x="209.60" y="232.99" width="6.70" height="6.69" fill="#ffd7c9"/>
<rect x="215.80" y="232.99" width="6.70" height="6.69" fill="#ffd7c9"/>
<rect x="222.00" y="232.99" width="6.70" height="6.69" fill="#fff5f1"/>
<rect x="228.20" y="232.99" width="6.70" height="6.69" fill="#fff0eb"/>
<rect x="234.40" y="232.99" width="6.70" height="6.69" fill="#fff5f1"/>
<rect x="240.60" y="232.99" width="6.70" height="6.69" fill="#ffffff"/>
<rect x="246.80" y="232.99" width="6.70" height="6.69" fill="#fff5f1"/>
<rect x="253.00" y="232.99" width="6.70" height="6.69" fill="#ffcdbc"/>
<rect x="259.20" y="232.99" width="6.70" height="6.69" fill="#efe3ff"/>
<rect x="265.40" y="232.99" width="6.70" height="6.69" fill="#f7f1ff"/>
<rect x="271.60" y="232.99" width="6.70" height="6.69" fill="#f3eaff"/>
<rect x="277.80" y="232.99" width="6.70" height="6.69" fill="#e2ceff"/>
<rect x="284.00" y="232.99" width="6.70" height="6.69" fill="#ffe6dd"/>
<rect x="290.20" y="232.99" width="6.70" height="6.69" fill="#f7f1ff"/>
<rect x="296.40" y="232.99" width="6.70" height="6.69" fill="#ffebe4"/>
<rect x="302.60" y="232.99" width="6.70" height="6.69" fill="#ffffff"/>
<rect x="308.80" y="232.99" width="6.70" height="6.69" fill="#efe3ff"/>
<rect x="315.00" y="232.99" width="6.70" height="6.69" fill="#ffffff"/>
<rect x="321.20" y="232.99" width="6.70" height="6.69" fill="#efe3ff"/>
<rect x="327.40" y="232.99" width="6.70" height="6.69" fill="#dec7ff"/>
<rect x="333.60" y="232.99" width="6.70" height="6.69" fill="#d4b9ff"/>
<rect x="339.80" y="232.99" width="6.70" height="6.69" fill="#dec7ff"/>
<rect x="346.00" y="232.99" width="6.70" height="6.69" fill="#e6d5ff"/>
<rect x="352.20" y="232.99" width="6.20" height="6.69" fill="#e2ceff"/>
<rect x="48.40" y="239.18" width="6.70" height="6.69" fill="#ffb9a2"/>
<rect x="54.60" y="239.18" width="6.70" height="6.69" fill="#ff9a7c"/>
<rect x="60.80" y="239.18" width="6.70" height="6.69" fill="#ffb9a2"/>
<rect x="67.00" y="239.18" width="6.70" height="6.69" fill="#ffaf96"/>
<rect x="73.20" y="239.18" width="6.70" height="6.69" fill="#ffb49c"/>
<rect x="79.40" y="239.18" width="6.70" height="6.69" fill="#ffb9a2"/>
<rect x="85.60" y="239.18" width="6.70" height="6.69" fill="#ffb9a2"/>
<rect x="91.80" y="239.18" width="6.70" height="6.69" fill="#ffb9a2"/>
<rect x="98.00" y="239.18" width="6.70" height="6.69" fill="#ffcdbc"/>
<rect x="104.20" y="239.18" width="6.70" height="6.69" fill="#ffebe4"/>
<rect x="110.40" y="239.18" width="6.70" height="6.69" fill="#ffd7c9"/>
<rect x="116.60" y="239.18" width="6.70" height="6.69" fill="#ffe1d7"/>
<rect x="122.80" y="239.18" width="6.70" height="6.69" fill="#ffebe4"/>
<rect x="129.00" y="239.18" width="6.70" height="6.69" fill="#ffe1d7"/>
<rect x="135.20" y="239.18" width="6.70" height="6.69" fill="#ffd7c9"/>
<rect x="141.40" y="239.18" width="6.70" height="6.69" fill="#ffe1d7"/>
<rect x="147.60" y="239.18" width="6.70" height="6.69" fill="#ffe1d7"/>
<rect x="153.80" y="239.18" width="6.70" height="6.69" fill="#ffc8b6"/>
<rect x="160.00" y="239.18" width="6.70" height="6.69" fill="#ffc3af"/>
<rect x="166.20" y="239.18" width="6.70" height="6.69" fill="#ffc3af"/>
<rect x="172.40" y="239.18" width="6.70" height="6.69" fill="#ffcdbc"/>
<rect x="178.60" y="239.18" width="6.70" height="6.69" fill="#ffcdbc"/>
<rect x="184.80" y="239.18" width="6.70" height="6.69" fill="#ff0000"/>
<rect x="191.00" y="239.18" width="6.70" height="6.69" fill="#ffd7c9"/>
<rect x="197.20" y="239.18" width="6.70" height="6.69" fill="#ffebe4"/>
<rect x="203.40" y="239.18" width="6.70" height="6.69" fill="#fffaf8"/>
<rect x="209.60" y="239.18" width="6.70" height="6.69" fill="#ffebe4"/>
<rect x="215.80" y="239.18" width="6.70" height="6.69" fill="#ffdcd0"/>
<rect x="222.00" y="239.18" width="6.70" height="6.69" fill="#f7f1ff"/>
<rect x="228.20" y="239.18" width="6.70" height="6.69" fill="#fff5f1"/>
<rect x="234.40" y="239.18" width="6.70" height="6.69" fill="#ffdcd0"/>
<rect x="240.60" y="239.18" width="6.70" height="6.69" fill="#ffcdbc"/>
<rect x="246.80" y="239.18" width="6.70" height="6.69" fill="#ffe1d7"/>
<rect x="253.00" y="239.18" width="6.70" height="6.69" fill="#ffebe4"/>
<rect x="259.20" y="239.18" width="6.70" height="6.69" fill="#ffffff"/>
<rect x="265.40" y="239.18" width="6.70" height="6.69" fill="#efe3ff"/>
<rect x="271.60" y="239.18" width="6.70" height="6.69" fill="#f3eaff"/>
<rect x="277.80" y="239.18" width="6.70" height="6.69" fill="#efe3ff"/>
<rect x="284.00" y="239.18" width="6.70" height="6.69" fill="#f7f1ff"/>
<rect x="290.20" y="239.18" width="6.70" height="6.69" fill="#f7f1ff"/>
<rect x="296.40" y="239.18" width="6.70" height="6.69" fill="#f7f1ff"/>
<rect x="302.60" y="239.18" width="6.70" height="6.69" fill="#f7f1ff"/>
<rect x="308.80" y="239.18" width="6.70" height="6.69" fill="#f7f1ff"/>
<rect x="315.00" y="239.18" width="6.70" height="6.69" fill="#ffebe4"/>
<rect x="321.20" y="239.18" width="6.70" height="6.69" fill="#fff5f1"/>
<rect x="327.40" y="239.18" width="6.70" height="6.69" fill="#f7f1ff"/>
<rect x="333.60" y="239.18" width="6.70" height="6.69" fill="#f7f1ff"/>
<rect x="339.80" y="239.18" width="6.70" height="6.69" fill="#ebdcff"/>
<rect x="346.00" y="239.18" width="6.70" height="6.69" fill="#ebdcff"/>
<rect x="352.20" y="239.18" width="6.20" height="6.69" fill="#e2ceff"/>
<rect x="48.40" y="245.37" width="6.70" height="6.69" fill="#ffc3af"/>
<rect x="54.60" y="245.37" width="6.70" height="6.69" fill="#ffe1d7"/>
<rect x="60.80" y="245.37" width="6.70" height="6.69" fill="#ffe1d7"/>
<rect x="67.00" y="245.37" width="6.70" height="6.69" fill="#ffb9a2"/>
<rect x="73.20" y="245.37" width="6.70" height="6.69" fill="#ffcdbc"/>
<rect x="79.40" y="245.37" width="6.70" height="6.69" fill="#ffcdbc"/>
<rect x="85.60" y="245.37" width="6.70" height="6.69" fill="#ffaf96"/>
<rect x="91.80" y="245.37" width="6.70" height="6.69" fill="#ff9a7c"/>
<rect x="98.00" y="245.37" width="6.70" height="6.69" fill="#ffebe4"/>
<rect x="104.20" y="245.37" width="6.70" height="6.69" fill="#ffebe4"/>
<rect x="110.40" y="245.37" width="6.70" height="6.69" fill="#ffffff"/>
<rect x="116.60" y="245.37" width="6.70" height="6.69" fill="#ffebe4"/>
<rect x="122.80" y="245.37" width="6.70" height="6.69" fill="#ffebe4"/>
<rect x="129.00" y="245.37" width="6.70" height="6.69" fill="#f7f1ff"/>
<rect x="135.20" y="245.37" width="6.70" height="6.69" fill="#ffebe4"/>
<rect x="141.40" y="245.37" width="6.70" height="6.69" fill="#f7f1ff"/>
<rect x="147.60" y="245.37" width="6.70" height="6.69" fill="#f7f1ff"/>
<rect x="153.80" y="245.37" width="6.70" height="6.69" fill="#ffe1d7"/>
<rect x="160.00" y="245.37" width="6.70" height="6.69" fill="#ffd7c9"/>
<rect x="166.20" y="245.37" width="6.70" height="6.69" fill="#ffc3af"/>
<rect x="172.40" y="245.37" width="6.70" height="6.69" fill="#ffc3af"/>
<rect x="178.60" y="245.37" width="6.70" height="6.69" fill="#ffc3af"/>
<rect x="184.80" y="245.37" width="6.70" height="6.69" fill="#ffd7c9"/>
<rect x="191.00" y="245.37" width="6.70" height="6.69" fill="#ff0000"/>
<rect x="197.20" y="245.37" width="6.70" height="6.69" fill="#ffcdbc"/>
<rect x="203.40" y="245.37" width="6.70" height="6.69" fill="#ffe1d7"/>
<rect x="209.60" y="245.37" width="6.70" height="6.69" fill="#ffd7c9"/>
<rect x="215.80" y="245.37" width="6.70" height="6.69" fill="#ffdcd0"/>
<rect x="222.00" y="245.37" width="6.70" height="6.69" fill="#fff5f1"/>
<rect x="228.20" y="245.37" width="6.70" height="6.69" fill="#ffebe4"/>
<rect x="234.40" y="245.37" width="6.70" height="6.69" fill="#ffe6dd"/>
<rect x="240.60" y="245.37" width="6.70" height="6.69" fill="#ffffff"/>
<rect x="246.80" y="245.37" width="6.70" height="6.69" fill="#f3eaff"/>
<rect x="253.00" y="245.37" width="6.70" height="6.69" fill="#ffd2c3"/>
<rect x="259.20" y="245.37" width="6.70" height="6.69" fill="#ffd2c3"/>
<rect x="265.40" y="245.37" width="6.70" height="6.69" fill="#ffebe4"/>
<rect x="271.60" y="245.37" width="6.70" height="6.69" fill="#f3eaff"/>
<rect x="277.80" y="245.37" width="6.70" height="6.69" fill="#fff5f1"/>
<rect x="284.00" y="245.37" width="6.70" height="6.69" fill="#ffffff"/>
<rect x="290.20" y="245.37" width="6.70" height="6.69" fill="#fff5f1"/>
<rect x="296.40" y="245.37" width="6.70" height="6.69" fill="#f7f1ff"/>
<rect x="302.60" y="245.37" width="6.70" height="6.69" fill="#dec7ff"/>
<rect x="308.80" y="245.37" width="6.70" height="6.69" fill="#f3eaff"/>
<rect x="315.00" y="245.37" width="6.70" height="6.69" fill="#e6d5ff"/>
<rect x="321.20" y="245.37" width="6.70" height="6.69" fill="#dec7ff"/>
<rect x="327.40" y="245.37" width="6.70" height="6.69" fill="#d0b2ff"/>
<rect x="333.60" y="245.37" width="6.70" height="6.69" fill="#d9c0ff"/>
<rect x="339.80" y="245.37" width="6.70" height="6.69" fill="#d4b9ff"/>
<rect x="346.00" y="245.37" width="6.70" height="6.69" fill="#efe3ff"/>
<rect x="352.20" y="245.37" width="6.20" height="6.69" fill="#e2ceff"/>
<rect x="48.40" y="251.56" width="6.70" height="6.69" fill="#ffebe4"/>
<rect x="54.60" y="251.56" width="6.70" height="6.69" fill="#ffebe4"/>
<rect x="60.80" y="251.56" width="6.70" height="6.69" fill="#ffe6dd"/>
<rect x="67.00" y="251.56" width="6.70" height="6.69" fill="#ffd7c9"/>
<rect x="73.20" y="251.56" width="6.70" height="6.69" fill="#ffd7c9"/>
<rect x="79.40" y="251.56" width="6.70" height="6.69" fill="#ffd7c9"/>
<rect x="85.60" y="251.56" width="6.70" height="6.69" fill="#ffcdbc"/>
<rect x="91.80" y="251.56" width="6.70" height="6.69" fill="#ffc3af"/>
<rect x="98.00" y="251.56" width="6.70" height="6.69" fill="#fff5f1"/>
<rect x="104.20" y="251.56" width="6.70" height="6.69" fill="#ffe1d7"/>
<rect x="110.40" y="251.56" width="6.70" height="6.69" fill="#ffffff"/>
<rect x="116.60" y="251.56" width="6.70" height="6.69" fill="#ffebe4"/>
<rect x="122.80" y="251.56" width="6.70" height="6.69" fill="#fffaf8"/>
<rect x="129.00" y="251.56" width="6.70" height="6.69" fill="#f7f1ff"/>
<rect x="135.20" y="251.56" width="6.70" height="6.69" fill="#fff5f1"/>
<rect x="141.40" y="251.56" width="6.70" height="6.69" fill="#fff5f1"/>
<rect x="147.60" y="251.56" width="6.70" height="6.69" fill="#fff5f1"/>
<rect x="153.80" y="251.56" width="6.70" height="6.69" fill="#ffdcd0"/>
<rect x="160.00" y="251.56" width="6.70" height="6.69" fill="#ffd2c3"/>
<rect x="166.20" y="251.56" width="6.70" height="6.69" fill="#ffb49c"/>
<rect x="172.40" y="251.56" width="6.70" height="6.69" fill="#ffd7c9"/>
<rect x="178.60" y="251.56" width="6.70" height="6.69" fill="#ffc3af"/>
<rect x="184.80" y="251.56" width="6.70" height="6.69" fill="#ffebe4"/>
<rect x="191.00" y="251.56" width="6.70" height="6.69" fill="#ffcdbc"/>
<rect x="197.20" y="251.56" width="6.70" height="6.69" fill="#ff0000"/>
<rect x="203.40" y="251.56" width="6.70" height="6.69" fill="#ffe1d7"/>
<rect x="209.60" y="251.56" width="6.70" height="6.69" fill="#ffd7c9"/>
<rect x="215.80" y="251.56" width="6.70" height="6.69" fill="#ffffff"/>
<rect x="222.00" y="251.56" width="6.70" height="6.69" fill="#fff5f1"/>
<rect x="228.20" y="251.56" width="6.70" height="6.69" fill="#ffebe4"/>
<rect x="234.40" y="251.56" width="6.70" height="6.69" fill="#ffebe4"/>
<rect x="240.60" y="251.56" width="6.70" height="6.69" fill="#ffffff"/>
<rect x="246.80" y="251.56" width="6.70" height="6.69" fill="#e2ceff"/>
<rect x="253.00" y="251.56" width="6.70" height="6.69" fill="#ffc3af"/>
<rect x="259.20" y="251.56" width="6.70" height="6.69" fill="#ffcdbc"/>
<rect x="265.40" y="251.56" width="6.70" height="6.69" fill="#fff0eb"/>
<rect x="271.60" y="251.56" width="6.70" height="6.69" fill="#f3eaff"/>
<rect x="277.80" y="251.56" width="6.70" height="6.69" fill="#f7f1ff"/>
<rect x="284.00" y="251.56" width="6.70" height="6.69" fill="#ffffff"/>
<rect x="290.20" y="251.56" width="6.70" height="6.69" fill="#fff5f1"/>
<rect x="296.40" y="251.56" width="6.70" height="6.69" fill="#fff0eb"/>
<rect x="302.60" y="251.56" width="6.70" height="6.69" fill="#f7f1ff"/>
<rect x="308.80" y="251.56" width="6.70" height="6.69" fill="#f7f1ff"/>
<rect x="315.00" y="251.56" width="6.70" height="6.69" fill="#e6d5ff"/>
<rect x="321.20" y="251.56" width="6.70" height="6.69" fill="#dec7ff"/>
<rect x="327.40" y="251.56" width="6.70" height="6.69" fill="#dec7ff"/>
<rect x="333.60" y="251.56" width="6.70" height="6.69" fill="#dec7ff"/>
<rect x="339.80" y="251.56" width="6.70" height="6.69" fill="#dec7ff"/>
<rect x="346.00" y="251.56" width="6.70" height="6.69" fill="#f7f1ff"/>
<rect x="352.20" y="251.56" width="6.20" height="6.69" fill="#f7f1ff"/>
<rect x="48.40" y="257.75" width="6.70" height="6.69" fill="#ffffff"/>
<rect x="54.60" y="257.75" width="6.70" height="6.69" fill="#efe3ff"/>
<rect x="60.80" y="257.75" width="6.70" height="6.69" fill="#efe3ff"/>
<rect x="67.00" y="257.75" width="6.70" height="6.69" fill="#ffebe4"/>
<rect x="73.20" y="257.75" width="6.70" height="6.69" fill="#ffffff"/>
<rect x="79.40" y="257.75" width="6.70" height="6.69" fill="#ffebe4"/>
<rect x="85.60" y="257.75" width="6.70" height="6.69" fill="#ffe1d7"/>
<rect x="91.80" y="257.75" width="6.70" height="6.69" fill="#ffe6dd"/>
<rect x="98.00" y="257.75" width="6.70" height="6.69" fill="#ffe6dd"/>
<rect x="104.20" y="257.75" width="6.70" height="6.69" fill="#fff5f1"/>
<rect x="110.40" y="257.75" width="6.70" height="6.69" fill="#ffebe4"/>
<rect x="116.60" y="257.75" width="6.70" height="6.69" fill="#ffebe4"/>
<rect x="122.80" y="257.75" width="6.70" height="6.69" fill="#ffebe4"/>
<rect x="129.00" y="257.75" width="6.70" height="6.69" fill="#fff5f1"/>
<rect x="135.20" y="257.75" width="6.70" height="6.69" fill="#fffaf8"/>
<rect x="141.40" y="257.75" width="6.70" height="6.69" fill="#f7f1ff"/>
<rect x="147.60" y="257.75" width="6.70" height="6.69" fill="#f7f1ff"/>
<rect x="153.80" y="257.75" width="6.70" height="6.69" fill="#fff5f1"/>
<rect x="160.00" y="257.75" width="6.70" height="6.69" fill="#fff5f1"/>
<rect x="166.20" y="257.75" width="6.70" height="6.69" fill="#ffe6dd"/>
<rect x="172.40" y="257.75" width="6.70" height="6.69" fill="#ffdcd0"/>
<rect x="178.60" y="257.75" width="6.70" height="6.69" fill="#ffe1d7"/>
<rect x="184.80" y="257.75" width="6.70" height="6.69" fill="#fffaf8"/>
<rect x="191.00" y="257.75" width="6.70" height="6.69" fill="#ffe1d7"/>
<rect x="197.20" y="257.75" width="6.70" height="6.69" fill="#ffe1d7"/>
<rect x="203.40" y="257.75" width="6.70" height="6.69" fill="#ff0000"/>
<rect x="209.60" y="257.75" width="6.70" height="6.69" fill="#ffc3af"/>
<rect x="215.80" y="257.75" width="6.70" height="6.69" fill="#ffebe4"/>
<rect x="222.00" y="257.75" width="6.70" height="6.69" fill="#fff0eb"/>
<rect x="228.20" y="257.75" width="6.70" height="6.69" fill="#ffebe4"/>
<rect x="234.40" y="257.75" width="6.70" height="6.69" fill="#efe3ff"/>
<rect x="240.60" y="257.75" width="6.70" height="6.69" fill="#e6d5ff"/>
<rect x="246.80" y="257.75" width="6.70" height="6.69" fill="#f7f1ff"/>
<rect x="253.00" y="257.75" width="6.70" height="6.69" fill="#fff5f1"/>
<rect x="259.20" y="257.75" width="6.70" height="6.69" fill="#efe3ff"/>
<rect x="265.40" y="257.75" width="6.70" height="6.69" fill="#fff5f1"/>
<rect x="271.60" y="257.75" width="6.70" height="6.69" fill="#f7f1ff"/>
<rect x="277.80" y="257.75" width="6.70" height="6.69" fill="#f7f1ff"/>
<rect x="284.00" y="257.75" width="6.70" height="6.69" fill="#ffc8b6"/>
<rect x="290.20" y="257.75" width="6.70" height="6.69" fill="#ffdcd0"/>
<rect x="296.40" y="257.75" width="6.70" height="6.69" fill="#ff8f70"/>
<rect x="302.60" y="257.75" width="6.70" height="6.69" fill="#ff9a7c"/>
<rect x="308.80" y="257.75" width="6.70" height="6.69" fill="#ffe6dd"/>
<rect x="315.00" y="257.75" width="6.70" height="6.69" fill="#ebdcff"/>
<rect x="321.20" y="257.75" width="6.70" height="6.69" fill="#f7f1ff"/>
<rect x="327.40" y="257.75" width="6.70" height="6.69" fill="#e2ceff"/>
<rect x="333.60" y="257.75" width="6.70" height="6.69" fill="#ebdcff"/>
<rect x="339.80" y="257.75" width="6.70" height="6.69" fill="#efe3ff"/>
<rect x="346.00" y="257.75" width="6.70" height="6.69" fill="#ffffff"/>
<rect x="352.20" y="257.75" width="6.20" height="6.69" fill="#efe3ff"/>
<rect x="48.40" y="263.94" width="6.70" height="6.69" fill="#ffebe4"/>
<rect x="54.60" y="263.94" width="6.70" height="6.69" fill="#fbf8ff"/>
<rect x="60.80" y="263.94" width="6.70" height="6.69" fill="#f7f1ff"/>
<rect x="67.00" y="263.94" width="6.70" height="6.69" fill="#ffe1d7"/>
<rect x="73.20" y="263.94" width="6.70" height="6.69" fill="#ffebe4"/>
<rect x="79.40" y="263.94" width="6.70" height="6.69" fill="#ffe6dd"/>
<rect x="85.60" y="263.94" width="6.70" height="6.69" fill="#ffcdbc"/>
<rect x="91.80" y="263.94" width="6.70" height="6.69" fill="#ffcdbc"/>
<rect x="98.00" y="263.94" width="6.70" height="6.69" fill="#fff5f1"/>
<rect x="104.20" y="263.94" width="6.70" height="6.69" fill="#fff5f1"/>
<rect x="110.40" y="263.94" width="6.70" height="6.69" fill="#fbf8ff"/>
<rect x="116.60" y="263.94" width="6.70" height="6.69" fill="#fff5f1"/>
<rect x="122.80" y="263.94" width="6.70" height="6.69" fill="#ffffff"/>
<rect x="129.00" y="263.94" width="6.70" height="6.69" fill="#efe3ff"/>
<rect x="135.20" y="263.94" width="6.70" height="6.69" fill="#f7f1ff"/>
<rect x="141.40" y="263.94" width="6.70" height="6.69" fill="#efe3ff"/>
<rect x="147.60" y="263.94" width="6.70" height="6.69" fill="#ffffff"/>
<rect x="153.80" y="263.94" width="6.70" height="6.69" fill="#fff0eb"/>
<rect x="160.00" y="263.94" width="6.70" height="6.69" fill="#fff0eb"/>
<rect x="166.20" y="263.94" width="6.70" height="6.69" fill="#ffdcd0"/>
<rect x="172.40" y="263.94" width="6.70" height="6.69" fill="#ffd7c9"/>
<rect x="178.60" y="263.94" width="6.70" height="6.69" fill="#ffd7c9"/>
<rect x="184.80" y="263.94" width="6.70" height="6.69" fill="#ffebe4"/>
<rect x="191.00" y="263.94" width="6.70" height="6.69" fill="#ffd7c9"/>
<rect x="197.20" y="263.94" width="6.70" height="6.69" fill="#ffd7c9"/>
<rect x="203.40" y="263.94" width="6.70" height="6.69" fill="#ffc3af"/>
<rect x="209.60" y="263.94" width="6.70" height="6.69" fill="#ff0000"/>
<rect x="215.80" y="263.94" width="6.70" height="6.69" fill="#ffe6dd"/>
<rect x="222.00" y="263.94" width="6.70" height="6.69" fill="#fffaf8"/>
<rect x="228.20" y="263.94" width="6.70" height="6.69" fill="#fff0eb"/>
<rect x="234.40" y="263.94" width="6.70" height="6.69" fill="#e6d5ff"/>
<rect x="240.60" y="263.94" width="6.70" height="6.69" fill="#e6d5ff"/>
<rect x="246.80" y="263.94" width="6.70" height="6.69" fill="#e6d5ff"/>
<rect x="253.00" y="263.94" width="6.70" height="6.69" fill="#ffffff"/>
<rect x="259.20" y="263.94" width="6.70" height="6.69" fill="#f7f1ff"/>
<rect x="265.40" y="263.94" width="6.70" height="6.69" fill="#fff5f1"/>
<rect x="271.60" y="263.94" width="6.70" height="6.69" fill="#efe3ff"/>
<rect x="277.80" y="263.94" width="6.70" height="6.69" fill="#efe3ff"/>
<rect x="284.00" y="263.94" width="6.70" height="6.69" fill="#ffe1d7"/>
<rect x="290.20" y="263.94" width="6.70" height="6.69" fill="#ffebe4"/>
<rect x="296.40" y="263.94" width="6.70" height="6.69" fill="#ffd7c9"/>
<rect x="302.60" y="263.94" width="6.70" height="6.69" fill="#ffdcd0"/>
<rect x="308.80" y="263.94" width="6.70" height="6.69" fill="#f7f1ff"/>
<rect x="315.00" y="263.94" width="6.70" height="6.69" fill="#e6d5ff"/>
<rect x="321.20" y="263.94" width="6.70" height="6.69" fill="#e6d5ff"/>
<rect x="327.40" y="263.94" width="6.70" height="6.69" fill="#dec7ff"/>
<rect x="333.60" y="263.94" width="6.70" height="6.69" fill="#d9c0ff"/>
<rect x="339.80" y="263.94" width="6.70" height="6.69" fill="#dec7ff"/>
<rect x="346.00" y="263.94" width="6.70" height="6.69" fill="#ffffff"/>
<rect x="352.20" y="263.94" width="6.20" height="6.69" fill="#efe3ff"/>
<rect x="48.40" y="270.13" width="6.70" height="6.69" fill="#ffebe4"/>
<rect x="54.60" y="270.13" width="6.70" height="6.69" fill="#fff5f1"/>
<rect x="60.80" y="270.13" width="6.70" height="6.69" fill="#fff5f1"/>
<rect x="67.00" y="270.13" width="6.70" height="6.69" fill="#ffdcd0"/>
<rect x="73.20" y="270.13" width="6.70" height="6.69" fill="#ffebe4"/>
<rect x="79.40" y="270.13" width="6.70" height="6.69" fill="#ffe1d7"/>
<rect x="85.60" y="270.13" width="6.70" height="6.69" fill="#ffe6dd"/>
<rect x="91.80" y="270.13" width="6.70" height="6.69" fill="#ffd7c9"/>
<rect x="98.00" y="270.13" width="6.70" height="6.69" fill="#ffd2c3"/>
<rect x="104.20" y="270.13" width="6.70" height="6.69" fill="#fff5f1"/>
<rect x="110.40" y="270.13" width="6.70" height="6.69" fill="#fff0eb"/>
<rect x="116.60" y="270.13" width="6.70" height="6.69" fill="#ffebe4"/>
<rect x="122.80" y="270.13" width="6.70" height="6.69" fill="#ffebe4"/>
<rect x="129.00" y="270.13" width="6.70" height="6.69" fill="#ffebe4"/>
<rect x="135.20" y="270.13" width="6.70" height="6.69" fill="#ffebe4"/>
<rect x="141.40" y="270.13" width="6.70" height="6.69" fill="#ffffff"/>
<rect x="147.60" y="270.13" width="6.70" height="6.69" fill="#f7f1ff"/>
<rect x="153.80" y="270.13" width="6.70" height="6.69" fill="#fff5f1"/>
<rect x="160.00" y="270.13" width="6.70" height="6.69" fill="#fff0eb"/>
<rect x="166.20" y="270.13" width="6.70" height="6.69" fill="#ffebe4"/>
<rect x="172.40" y="270.13" width="6.70" height="6.69" fill="#ffd7c9"/>
<rect x="178.60" y="270.13" width="6.70" height="6.69" fill="#ffd7c9"/>
<rect x="184.80" y="270.13" width="6.70" height="6.69" fill="#ffdcd0"/>
<rect x="191.00" y="270.13" width="6.70" height="6.69" fill="#ffdcd0"/>
<rect x="197.20" y="270.13" width="6.70" height="6.69" fill="#ffffff"/>
<rect x="203.40" y="270.13" width="6.70" height="6.69" fill="#ffebe4"/>
<rect x="209.60" y="270.13" width="6.70" height="6.69" fill="#ffe6dd"/>
<rect x="215.80" y="270.13" width="6.70" height="6.69" fill="#ff0000"/>
<rect x="222.00" y="270.13" width="6.70" height="6.69" fill="#ffffff"/>
<rect x="228.20" y="270.13" width="6.70" height="6.69" fill="#fff5f1"/>
<rect x="234.40" y="270.13" width="6.70" height="6.69" fill="#f7f1ff"/>
<rect x="240.60" y="270.13" width="6.70" height="6.69" fill="#f7f1ff"/>
<rect x="246.80" y="270.13" width="6.70" height="6.69" fill="#ffe1d7"/>
<rect x="253.00" y="270.13" width="6.70" height="6.69" fill="#ffdcd0"/>
<rect x="259.20" y="270.13" width="6.70" height="6.69" fill="#c19dff"/>
<rect x="265.40" y="270.13" width="6.70" height="6.69" fill="#fff5f1"/>
<rect x="271.60" y="270.13" width="6.70" height="6.69" fill="#fff5f1"/>
<rect x="277.80" y="270.13" width="6.70" height="6.69" fill="#ffffff"/>
<rect x="284.00" y="270.13" width="6.70" height="6.69" fill="#ffffff"/>
<rect x="290.20" y="270.13" width="6.70" height="6.69" fill="#ebdcff"/>
<rect x="296.40" y="270.13" width="6.70" height="6.69" fill="#f7f1ff"/>
<rect x="302.60" y="270.13" width="6.70" height="6.69" fill="#efe3ff"/>
<rect x="308.80" y="270.13" width="6.70" height="6.69" fill="#efe3ff"/>
<rect x="315.00" y="270.13" width="6.70" height="6.69" fill="#ffffff"/>
<rect x="321.20" y="270.13" width="6.70" height="6.69" fill="#ffffff"/>
<rect x="327.40" y="270.13" width="6.70" height="6.69" fill="#f7f1ff"/>
<rect x="333.60" y="270.13" width="6.70" height="6.69" fill="#f7f1ff"/>
<rect x="339.80" y="270.13" width="6.70" height="6.69" fill="#efe3ff"/>
<rect x="346.00" y="270.13" width="6.70" height="6.69" fill="#cbabff"/>
<rect x="352.20" y="270.13" width="6.20" height="6.69" fill="#e6d5ff"/>
<rect x="48.40" y="276.32" width="6.70" height="6.69" fill="#fff0eb"/>
<rect x="54.60" y="276.32" width="6.70" height="6.69" fill="#ffebe4"/>
<rect x="60.80" y="276.32" width="6.70" height="6.69" fill="#ffebe4"/>
<rect x="67.00" y="276.32" width="6.70" height="6.69" fill="#fff0eb"/>
<rect x="73.20" y="276.32" width="6.70" height="6.69" fill="#fff0eb"/>
<rect x="79.40" y="276.32" width="6.70" height="6.69" fill="#fff0eb"/>
<rect x="85.60" y="276.32" width="6.70" height="6.69" fill="#fff5f1"/>
<rect x="91.80" y="276.32" width="6.70" height="6.69" fill="#ffffff"/>
<rect x="98.00" y="276.32" width="6.70" height="6.69" fill="#fffaf8"/>
<rect x="104.20" y="276.32" width="6.70" height="6.69" fill="#ffd7c9"/>
<rect x="110.40" y="276.32" width="6.70" height="6.69" fill="#ffe6dd"/>
<rect x="116.60" y="276.32" width="6.70" height="6.69" fill="#fbf8ff"/>
<rect x="122.80" y="276.32" width="6.70" height="6.69" fill="#ffdcd0"/>
<rect x="129.00" y="276.32" width="6.70" height="6.69" fill="#ffe1d7"/>
<rect x="135.20" y="276.32" width="6.70" height="6.69" fill="#fff0eb"/>
<rect x="141.40" y="276.32" width="6.70" height="6.69" fill="#ffebe4"/>
<rect x="147.60" y="276.32" width="6.70" height="6.69" fill="#fff5f1"/>
<rect x="153.80" y="276.32" width="6.70" height="6.69" fill="#ffffff"/>
<rect x="160.00" y="276.32" width="6.70" height="6.69" fill="#fffaf8"/>
<rect x="166.20" y="276.32" width="6.70" height="6.69" fill="#fff5f1"/>
<rect x="172.40" y="276.32" width="6.70" height="6.69" fill="#ffffff"/>
<rect x="178.60" y="276.32" width="6.70" height="6.69" fill="#fff5f1"/>
<rect x="184.80" y="276.32" width="6.70" height="6.69" fill="#f7f1ff"/>
<rect x="191.00" y="276.32" width="6.70" height="6.69" fill="#fff5f1"/>
<rect x="197.20" y="276.32" width="6.70" height="6.69" fill="#fff5f1"/>
<rect x="203.40" y="276.32" width="6.70" height="6.69" fill="#fff0eb"/>
<rect x="209.60" y="276.32" width="6.70" height="6.69" fill="#fffaf8"/>
<rect x="215.80" y="276.32" width="6.70" height="6.69" fill="#ffffff"/>
<rect x="222.00" y="276.32" width="6.70" height="6.69" fill="#ff0000"/>
<rect x="228.20" y="276.32" width="6.70" height="6.69" fill="#fff5f1"/>
<rect x="234.40" y="276.32" width="6.70" height="6.69" fill="#fff5f1"/>
<rect x="240.60" y="276.32" width="6.70" height="6.69" fill="#fbf8ff"/>
<rect x="246.80" y="276.32" width="6.70" height="6.69" fill="#fbf8ff"/>
<rect x="253.00" y="276.32" width="6.70" height="6.69" fill="#ffffff"/>
<rect x="259.20" y="276.32" width="6.70" height="6.69" fill="#efe3ff"/>
<rect x="265.40" y="276.32" width="6.70" height="6.69" fill="#f7f1ff"/>
<rect x="271.60" y="276.32" width="6.70" height="6.69" fill="#f7f1ff"/>
<rect x="277.80" y="276.32" width="6.70" height="6.69" fill="#efe3ff"/>
<rect x="284.00" y="276.32" width="6.70" height="6.69" fill="#ffffff"/>
<rect x="290.20" y="276.32" width="6.70" height="6.69" fill="#ffffff"/>
<rect x="296.40" y="276.32" width="6.70" height="6.69" fill="#ffffff"/>
<rect x="302.60" y="276.32" width="6.70" height="6.69" fill="#f7f1ff"/>
<rect x="308.80" y="276.32" width="6.70" height="6.69" fill="#ffffff"/>
<rect x="315.00" y="276.32" width="6.70" height="6.69" fill="#f7f1ff"/>
<rect x="321.20" y="276.32" width="6.70" height="6.69" fill="#f7f1ff"/>
<rect x="327.40" y="276.32" width="6.70" height="6.69" fill="#ffffff"/>
<rect x="333.60" y="276.32" width="6.70" height="6.69" fill="#f7f1ff"/>
<rect x="339.80" y="276.32" width="6.70" height="6.69" fill="#f7f1ff"/>
<rect x="346.00" y="276.32" width="6.70" height="6.69" fill="#fbf8ff"/>
<rect x="352.20" y="276.32" width="6.20" height="6.69" fill="#f7f1ff"/>
<rect x="48.40" y="282.51" width="6.70" height="6.69" fill="#f7f1ff"/>
<rect x="54.60" y="282.51" width="6.70" height="6.69" fill="#f7f1ff"/>
<rect x="60.80" y="282.51" width="6.70" height="6.69" fill="#ffffff"/>
<rect x="67.00" y="282.51" width="6.70" height="6.69" fill="#ffffff"/>
<rect x="73.20" y="282.51" width="6.70" height="6.69" fill="#fff5f1"/>
<rect x="79.40" y="282.51" width="6.70" height="6.69" fill="#f7f1ff"/>
<rect x="85.60" y="282.51" width="6.70" height="6.69" fill="#fffaf8"/>
<rect x="91.80" y="282.51" width="6.70" height="6.69" fill="#fbf8ff"/>
<rect x="98.00" y="282.51" width="6.70" height="6.69" fill="#fbf8ff"/>
<rect x="104.20" y="282.51" width="6.70" height="6.69" fill="#ffffff"/>
<rect x="110.40" y="282.51" width="6.70" height="6.69" fill="#fff0eb"/>
<rect x="116.60" y="282.51" width="6.70" height="6.69" fill="#fff0eb"/>
<rect x="122.80" y="282.51" width="6.70" height="6.69" fill="#fffaf8"/>
<rect x="129.00" y="282.51" width="6.70" height="6.69" fill="#fff5f1"/>
<rect x="135.20" y="282.51" width="6.70" height="6.69" fill="#fff0eb"/>
<rect x="141.40" y="282.51" width="6.70" height="6.69" fill="#fff0eb"/>
<rect x="147.60" y="282.51" width="6.70" height="6.69" fill="#fff0eb"/>
<rect x="153.80" y="282.51" width="6.70" height="6.69" fill="#f7f1ff"/>
<rect x="160.00" y="282.51" width="6.70" height="6.69" fill="#ffffff"/>
<rect x="166.20" y="282.51" width="6.70" height="6.69" fill="#fff5f1"/>
<rect x="172.40" y="282.51" width="6.70" height="6.69" fill="#fff5f1"/>
<rect x="178.60" y="282.51" width="6.70" height="6.69" fill="#fff0eb"/>
<rect x="184.80" y="282.51" width="6.70" height="6.69" fill="#fff5f1"/>
<rect x="191.00" y="282.51" width="6.70" height="6.69" fill="#ffebe4"/>
<rect x="197.20" y="282.51" width="6.70" height="6.69" fill="#ffebe4"/>
<rect x="203.40" y="282.51" width="6.70" height="6.69" fill="#ffebe4"/>
<rect x="209.60" y="282.51" width="6.70" height="6.69" fill="#fff0eb"/>
<rect x="215.80" y="282.51" width="6.70" height="6.69" fill="#fff5f1"/>
<rect x="222.00" y="282.51" width="6.70" height="6.69" fill="#fff5f1"/>
<rect x="228.20" y="282.51" width="6.70" height="6.69" fill="#ff0000"/>
<rect x="234.40" y="282.51" width="6.70" height="6.69" fill="#f7f1ff"/>
<rect x="240.60" y="282.51" width="6.70" height="6.69" fill="#fbf8ff"/>
<rect x="246.80" y="282.51" width="6.70" height="6.69" fill="#fffaf8"/>
<rect x="253.00" y="282.51" width="6.70" height="6.69" fill="#fffaf8"/>
<rect x="259.20" y="282.51" width="6.70" height="6.69" fill="#f7f1ff"/>
<rect x="265.40" y="282.51" width="6.70" height="6.69" fill="#f7f1ff"/>
<rect x="271.60" y="282.51" width="6.70" height="6.69" fill="#ffffff"/>
<rect x="277.80" y="282.51" width="6.70" height="6.69" fill="#fbf8ff"/>
<rect x="284.00" y="282.51" width="6.70" height="6.69" fill="#fff5f1"/>
<rect x="290.20" y="282.51" width="6.70" height="6.69" fill="#ffffff"/>
<rect x="296.40" y="282.51" width="6.70" height="6.69" fill="#fff0eb"/>
<rect x="302.60" y="282.51" width="6.70" height="6.69" fill="#ffe6dd"/>
<rect x="308.80" y="282.51" width="6.70" height="6.69" fill="#ffffff"/>
<rect x="315.00" y="282.51" width="6.70" height="6.69" fill="#ffffff"/>
<rect x="321.20" y="282.51" width="6.70" height="6.69" fill="#fbf8ff"/>
<rect x="327.40" y="282.51" width="6.70" height="6.69" fill="#f7f1ff"/>
<rect x="333.60" y="282.51" width="6.70" height="6.69" fill="#f7f1ff"/>
<rect x="339.80" y="282.51" width="6.70" height="6.69" fill="#f7f1ff"/>
<rect x="346.00" y="282.51" width="6.70" height="6.69" fill="#fbf8ff"/>
<rect x="352.20" y="282.51" width="6.20" height="6.69" fill="#f3eaff"/>
<rect x="48.40" y="288.70" width="6.70" height="6.69" fill="#ffd7c9"/>
<rect x="54.60" y="288.70" width="6.70" height="6.69" fill="#ffaf96"/>
<rect x="60.80" y="288.70" width="6.70" height="6.69" fill="#ffc3af"/>
<rect x="67.00" y="288.70" width="6.70" height="6.69" fill="#ffcdbc"/>
<rect x="73.20" y="288.70" width="6.70" height="6.69" fill="#ffcdbc"/>
<rect x="79.40" y="288.70" width="6.70" height="6.69" fill="#ffebe4"/>
<rect x="85.60" y="288.70" width="6.70" height="6.69" fill="#fff0eb"/>
<rect x="91.80" y="288.70" width="6.70" height="6.69" fill="#fff0eb"/>
<rect x="98.00" y="288.70" width="6.70" height="6.69" fill="#ffe1d7"/>
<rect x="104.20" y="288.70" width="6.70" height="6.69" fill="#ffebe4"/>
<rect x="110.40" y="288.70" width="6.70" height="6.69" fill="#ffe1d7"/>
<rect x="116.60" y="288.70" width="6.70" height="6.69" fill="#ffebe4"/>
<rect x="122.80" y="288.70" width="6.70" height="6.69" fill="#fff0eb"/>
<rect x="129.00" y="288.70" width="6.70" height="6.69" fill="#ffebe4"/>
<rect x="135.20" y="288.70" width="6.70" height="6.69" fill="#ffe1d7"/>
<rect x="141.40" y="288.70" width="6.70" height="6.69" fill="#ffe1d7"/>
<rect x="147.60" y="288.70" width="6.70" height="6.69" fill="#ffebe4"/>
<rect x="153.80" y="288.70" width="6.70" height="6.69" fill="#ffd7c9"/>
<rect x="160.00" y="288.70" width="6.70" height="6.69" fill="#ffd7c9"/>
<rect x="166.20" y="288.70" width="6.70" height="6.69" fill="#ffe1d7"/>
<rect x="172.40" y="288.70" width="6.70" height="6.69" fill="#ffebe4"/>
<rect x="178.60" y="288.70" width="6.70" height="6.69" fill="#fff5f1"/>
<rect x="184.80" y="288.70" width="6.70" height="6.69" fill="#ffdcd0"/>
<rect x="191.00" y="288.70" width="6.70" height="6.69" fill="#ffe6dd"/>
<rect x="197.20" y="288.70" width="6.70" height="6.69" fill="#ffebe4"/>
<rect x="203.40" y="288.70" width="6.70" height="6.69" fill="#efe3ff"/>
<rect x="209.60" y="288.70" width="6.70" height="6.69" fill="#e6d5ff"/>
<rect x="215.80" y="288.70" width="6.70" height="6.69" fill="#f7f1ff"/>
<rect x="222.00" y="288.70" width="6.70" height="6.69" fill="#fff5f1"/>
<rect x="228.20" y="288.70" width="6.70" height="6.69" fill="#f7f1ff"/>
<rect x="234.40" y="288.70" width="6.70" height="6.69" fill="#ff0000"/>
<rect x="240.60" y="288.70" width="6.70" height="6.69" fill="#ffb9a2"/>
<rect x="246.80" y="288.70" width="6.70" height="6.69" fill="#ffe1d7"/>
<rect x="253.00" y="288.70" width="6.70" height="6.69" fill="#ffe1d7"/>
<rect x="259.20" y="288.70" width="6.70" height="6.69" fill="#ffcdbc"/>
<rect x="265.40" y="288.70" width="6.70" height="6.69" fill="#ffebe4"/>
<rect x="271.60" y="288.70" width="6.70" height="6.69" fill="#fff5f1"/>
<rect x="277.80" y="288.70" width="6.70" height="6.69" fill="#ffe6dd"/>
<rect x="284.00" y="288.70" width="6.70" height="6.69" fill="#efe3ff"/>
<rect x="290.20" y="288.70" width="6.70" height="6.69" fill="#fbf8ff"/>
<rect x="296.40" y="288.70" width="6.70" height="6.69" fill="#e6d5ff"/>
<rect x="302.60" y="288.70" width="6.70" height="6.69" fill="#ebdcff"/>
<rect x="308.80" y="288.70" width="6.70" height="6.69" fill="#ffffff"/>
<rect x="315.00" y="288.70" width="6.70" height="6.69" fill="#fff5f1"/>
<rect x="321.20" y="288.70" width="6.70" height="6.69" fill="#f3eaff"/>
<rect x="327.40" y="288.70" width="6.70" height="6.69" fill="#fff5f1"/>
<rect x="333.60" y="288.70" width="6.70" height="6.69" fill="#fffaf8"/>
<rect x="339.80" y="288.70" width="6.70" height="6.69" fill="#f3eaff"/>
<rect x="346.00" y="288.70" width="6.70" height="6.69" fill="#f7f1ff"/>
<rect x="352.20" y="288.70" width="6.20" height="6.69" fill="#f7f1ff"/>
<rect x="48.40" y="294.89" width="6.70" height="6.69" fill="#ffd7c9"/>
<rect x="54.60" y="294.89" width="6.70" height="6.69" fill="#ffaf96"/>
<rect x="60.80" y="294.89" width="6.70" height="6.69" fill="#ffc3af"/>
<rect x="67.00" y="294.89" width="6.70" height="6.69" fill="#ffe1d7"/>
<rect x="73.20" y="294.89" width="6.70" height="6.69" fill="#ffe1d7"/>
<rect x="79.40" y="294.89" width="6.70" height="6.69" fill="#fff5f1"/>
<rect x="85.60" y="294.89" width="6.70" height="6.69" fill="#ffffff"/>
<rect x="91.80" y="294.89" width="6.70" height="6.69" fill="#ffffff"/>
<rect x="98.00" y="294.89" width="6.70" height="6.69" fill="#fff5f1"/>
<rect x="104.20" y="294.89" width="6.70" height="6.69" fill="#f7f1ff"/>
<rect x="110.40" y="294.89" width="6.70" height="6.69" fill="#ffebe4"/>
<rect x="116.60" y="294.89" width="6.70" height="6.69" fill="#f7f1ff"/>
<rect x="122.80" y="294.89" width="6.70" height="6.69" fill="#fffaf8"/>
<rect x="129.00" y="294.89" width="6.70" height="6.69" fill="#fffaf8"/>
<rect x="135.20" y="294.89" width="6.70" height="6.69" fill="#ffe6dd"/>
<rect x="141.40" y="294.89" width="6.70" height="6.69" fill="#fff0eb"/>
<rect x="147.60" y="294.89" width="6.70" height="6.69" fill="#ffffff"/>
<rect x="153.80" y="294.89" width="6.70" height="6.69" fill="#ffd7c9"/>
<rect x="160.00" y="294.89" width="6.70" height="6.69" fill="#ffd7c9"/>
<rect x="166.20" y="294.89" width="6.70" height="6.69" fill="#fff0eb"/>
<rect x="172.40" y="294.89" width="6.70" height="6.69" fill="#ffebe4"/>
<rect x="178.60" y="294.89" width="6.70" height="6.69" fill="#ffffff"/>
<rect x="184.80" y="294.89" width="6.70" height="6.69" fill="#ffcdbc"/>
<rect x="191.00" y="294.89" width="6.70" height="6.69" fill="#ffffff"/>
<rect x="197.20" y="294.89" width="6.70" height="6.69" fill="#ffffff"/>
<rect x="203.40" y="294.89" width="6.70" height="6.69" fill="#e6d5ff"/>
<rect x="209.60" y="294.89" width="6.70" height="6.69" fill="#e6d5ff"/>
<rect x="215.80" y="294.89" width="6.70" height="6.69" fill="#f7f1ff"/>
<rect x="222.00" y="294.89" width="6.70" height="6.69" fill="#fbf8ff"/>
<rect x="228.20" y="294.89" width="6.70" height="6.69" fill="#fbf8ff"/>
<rect x="234.40" y="294.89" width="6.70" height="6.69" fill="#ffb9a2"/>
<rect x="240.60" y="294.89" width="6.70" height="6.69" fill="#ff0000"/>
<rect x="246.80" y="294.89" width="6.70" height="6.69" fill="#ffd7c9"/>
<rect x="253.00" y="294.89" width="6.70" height="6.69" fill="#ffe1d7"/>
<rect x="259.20" y="294.89" width="6.70" height="6.69" fill="#ffcdbc"/>
<rect x="265.40" y="294.89" width="6.70" height="6.69" fill="#ffebe4"/>
<rect x="271.60" y="294.89" width="6.70" height="6.69" fill="#ffe6dd"/>
<rect x="277.80" y="294.89" width="6.70" height="6.69" fill="#ffdcd0"/>
<rect x="284.00" y="294.89" width="6.70" height="6.69" fill="#efe3ff"/>
<rect x="290.20" y="294.89" width="6.70" height="6.69" fill="#fbf8ff"/>
<rect x="296.40" y="294.89" width="6.70" height="6.69" fill="#e6d5ff"/>
<rect x="302.60" y="294.89" width="6.70" height="6.69" fill="#f7f1ff"/>
<rect x="308.80" y="294.89" width="6.70" height="6.69" fill="#fff5f1"/>
<rect x="315.00" y="294.89" width="6.70" height="6.69" fill="#ffd7c9"/>
<rect x="321.20" y="294.89" width="6.70" height="6.69" fill="#fbf8ff"/>
<rect x="327.40" y="294.89" width="6.70" height="6.69" fill="#ffd7c9"/>
<rect x="333.60" y="294.89" width="6.70" height="6.69" fill="#ffe1d7"/>
<rect x="339.80" y="294.89" width="6.70" height="6.69" fill="#fff0eb"/>
<rect x="346.00" y="294.89" width="6.70" height="6.69" fill="#ffffff"/>
<rect x="352.20" y="294.89" width="6.20" height="6.69" fill="#fbf8ff"/>
<rect x="48.40" y="301.08" width="6.70" height="6.69" fill="#f7f1ff"/>
<rect x="54.60" y="301.08" width="6.70" height="6.69" fill="#ffffff"/>
<rect x="60.80" y="301.08" width="6.70" height="6.69" fill="#f7f1ff"/>
<rect x="67.00" y="301.08" width="6.70" height="6.69" fill="#e6d5ff"/>
<rect x="73.20" y="301.08" width="6.70" height="6.69" fill="#e6d5ff"/>
<rect x="79.40" y="301.08" width="6.70" height="6.69" fill="#ebdcff"/>
<rect x="85.60" y="301.08" width="6.70" height="6.69" fill="#e6d5ff"/>
<rect x="91.80" y="301.08" width="6.70" height="6.69" fill="#f7f1ff"/>
<rect x="98.00" y="301.08" width="6.70" height="6.69" fill="#ffffff"/>
<rect x="104.20" y="301.08" width="6.70" height="6.69" fill="#cbabff"/>
<rect x="110.40" y="301.08" width="6.70" height="6.69" fill="#ffebe4"/>
<rect x="116.60" y="301.08" width="6.70" height="6.69" fill="#f7f1ff"/>
<rect x="122.80" y="301.08" width="6.70" height="6.69" fill="#fff5f1"/>
<rect x="129.00" y="301.08" width="6.70" height="6.69" fill="#fff5f1"/>
<rect x="135.20" y="301.08" width="6.70" height="6.69" fill="#ffebe4"/>
<rect x="141.40" y="301.08" width="6.70" height="6.69" fill="#ffffff"/>
<rect x="147.60" y="301.08" width="6.70" height="6.69" fill="#ffffff"/>
<rect x="153.80" y="301.08" width="6.70" height="6.69" fill="#ffd7c9"/>
<rect x="160.00" y="301.08" width="6.70" height="6.69" fill="#ffdcd0"/>
<rect x="166.20" y="301.08" width="6.70" height="6.69" fill="#f7f1ff"/>
<rect x="172.40" y="301.08" width="6.70" height="6.69" fill="#ffebe4"/>
<rect x="178.60" y="301.08" width="6.70" height="6.69" fill="#fff5f1"/>
<rect x="184.80" y="301.08" width="6.70" height="6.69" fill="#ffe1d7"/>
<rect x="191.00" y="301.08" width="6.70" height="6.69" fill="#f3eaff"/>
<rect x="197.20" y="301.08" width="6.70" height="6.69" fill="#e2ceff"/>
<rect x="203.40" y="301.08" width="6.70" height="6.69" fill="#f7f1ff"/>
<rect x="209.60" y="301.08" width="6.70" height="6.69" fill="#e6d5ff"/>
<rect x="215.80" y="301.08" width="6.70" height="6.69" fill="#ffe1d7"/>
<rect x="222.00" y="301.08" width="6.70" height="6.69" fill="#fbf8ff"/>
<rect x="228.20" y="301.08" width="6.70" height="6.69" fill="#fffaf8"/>
<rect x="234.40" y="301.08" width="6.70" height="6.69" fill="#ffe1d7"/>
<rect x="240.60" y="301.08" width="6.70" height="6.69" fill="#ffd7c9"/>
<rect x="246.80" y="301.08" width="6.70" height="6.69" fill="#ff0000"/>
<rect x="253.00" y="301.08" width="6.70" height="6.69" fill="#ffdcd0"/>
<rect x="259.20" y="301.08" width="6.70" height="6.69" fill="#f7f1ff"/>
<rect x="265.40" y="301.08" width="6.70" height="6.69" fill="#ffebe4"/>
<rect x="271.60" y="301.08" width="6.70" height="6.69" fill="#ffd7c9"/>
<rect x="277.80" y="301.08" width="6.70" height="6.69" fill="#ffdcd0"/>
<rect x="284.00" y="301.08" width="6.70" height="6.69" fill="#ffffff"/>
<rect x="290.20" y="301.08" width="6.70" height="6.69" fill="#ffffff"/>
<rect x="296.40" y="301.08" width="6.70" height="6.69" fill="#ffffff"/>
<rect x="302.60" y="301.08" width="6.70" height="6.69" fill="#fff0eb"/>
<rect x="308.80" y="301.08" width="6.70" height="6.69" fill="#ffe1d7"/>
<rect x="315.00" y="301.08" width="6.70" height="6.69" fill="#ffaf96"/>
<rect x="321.20" y="301.08" width="6.70" height="6.69" fill="#ffc3af"/>
<rect x="327.40" y="301.08" width="6.70" height="6.69" fill="#ffaf96"/>
<rect x="333.60" y="301.08" width="6.70" height="6.69" fill="#ffb9a2"/>
<rect x="339.80" y="301.08" width="6.70" height="6.69" fill="#ffb9a2"/>
<rect x="346.00" y="301.08" width="6.70" height="6.69" fill="#ffffff"/>
<rect x="352.20" y="301.08" width="6.20" height="6.69" fill="#fffaf8"/>
<rect x="48.40" y="307.27" width="6.70" height="6.69" fill="#f7f1ff"/>
<rect x="54.60" y="307.27" width="6.70" height="6.69" fill="#efe3ff"/>
<rect x="60.80" y="307.27" width="6.70" height="6.69" fill="#e6d5ff"/>
<rect x="67.00" y="307.27" width="6.70" height="6.69" fill="#f7f1ff"/>
<rect x="73.20" y="307.27" width="6.70" height="6.69" fill="#e6d5ff"/>
<rect x="79.40" y="307.27" width="6.70" height="6.69" fill="#e6d5ff"/>
<rect x="85.60" y="307.27" width="6.70" height="6.69" fill="#ffffff"/>
<rect x="91.80" y="307.27" width="6.70" height="6.69" fill="#fff5f1"/>
<rect x="98.00" y="307.27" width="6.70" height="6.69" fill="#efe3ff"/>
<rect x="104.20" y="307.27" width="6.70" height="6.69" fill="#efe3ff"/>
<rect x="110.40" y="307.27" width="6.70" height="6.69" fill="#efe3ff"/>
<rect x="116.60" y="307.27" width="6.70" height="6.69" fill="#ebdcff"/>
<rect x="122.80" y="307.27" width="6.70" height="6.69" fill="#f7f1ff"/>
<rect x="129.00" y="307.27" width="6.70" height="6.69" fill="#e6d5ff"/>
<rect x="135.20" y="307.27" width="6.70" height="6.69" fill="#ffffff"/>
<rect x="141.40" y="307.27" width="6.70" height="6.69" fill="#ebdcff"/>
<rect x="147.60" y="307.27" width="6.70" height="6.69" fill="#efe3ff"/>
<rect x="153.80" y="307.27" width="6.70" height="6.69" fill="#ffbea9"/>
<rect x="160.00" y="307.27" width="6.70" height="6.69" fill="#ffb9a2"/>
<rect x="166.20" y="307.27" width="6.70" height="6.69" fill="#ffb9a2"/>
<rect x="172.40" y="307.27" width="6.70" height="6.69" fill="#ffcdbc"/>
<rect x="178.60" y="307.27" width="6.70" height="6.69" fill="#ffcdbc"/>
<rect x="184.80" y="307.27" width="6.70" height="6.69" fill="#ffebe4"/>
<rect x="191.00" y="307.27" width="6.70" height="6.69" fill="#ffd2c3"/>
<rect x="197.20" y="307.27" width="6.70" height="6.69" fill="#ffc3af"/>
<rect x="203.40" y="307.27" width="6.70" height="6.69" fill="#fff5f1"/>
<rect x="209.60" y="307.27" width="6.70" height="6.69" fill="#ffffff"/>
<rect x="215.80" y="307.27" width="6.70" height="6.69" fill="#ffdcd0"/>
<rect x="222.00" y="307.27" width="6.70" height="6.69" fill="#ffffff"/>
<rect x="228.20" y="307.27" width="6.70" height="6.69" fill="#fffaf8"/>
<rect x="234.40" y="307.27" width="6.70" height="6.69" fill="#ffe1d7"/>
<rect x="240.60" y="307.27" width="6.70" height="6.69" fill="#ffe1d7"/>
<rect x="246.80" y="307.27" width="6.70" height="6.69" fill="#ffdcd0"/>
<rect x="253.00" y="307.27" width="6.70" height="6.69" fill="#ff0000"/>
<rect x="259.20" y="307.27" width="6.70" height="6.69" fill="#ffd7c9"/>
<rect x="265.40" y="307.27" width="6.70" height="6.69" fill="#ffe1d7"/>
<rect x="271.60" y="307.27" width="6.70" height="6.69" fill="#ffd7c9"/>
<rect x="277.80" y="307.27" width="6.70" height="6.69" fill="#ffcdbc"/>
<rect x="284.00" y="307.27" width="6.70" height="6.69" fill="#fff5f1"/>
<rect x="290.20" y="307.27" width="6.70" height="6.69" fill="#fff5f1"/>
<rect x="296.40" y="307.27" width="6.70" height="6.69" fill="#ffebe4"/>
<rect x="302.60" y="307.27" width="6.70" height="6.69" fill="#fff5f1"/>
<rect x="308.80" y="307.27" width="6.70" height="6.69" fill="#ffe1d7"/>
<rect x="315.00" y="307.27" width="6.70" height="6.69" fill="#ffc3af"/>
<rect x="321.20" y="307.27" width="6.70" height="6.69" fill="#ffe6dd"/>
<rect x="327.40" y="307.27" width="6.70" height="6.69" fill="#ffd7c9"/>
<rect x="333.60" y="307.27" width="6.70" height="6.69" fill="#ffd7c9"/>
<rect x="339.80" y="307.27" width="6.70" height="6.69" fill="#ffd7c9"/>
<rect x="346.00" y="307.27" width="6.70" height="6.69" fill="#ffebe4"/>
<rect x="352.20" y="307.27" width="6.20" height="6.69" fill="#ffe6dd"/>
<rect x="48.40" y="313.46" width="6.70" height="6.69" fill="#efe3ff"/>
<rect x="54.60" y="313.46" width="6.70" height="6.69" fill="#f7f1ff"/>
<rect x="60.80" y="313.46" width="6.70" height="6.69" fill="#efe3ff"/>
<rect x="67.00" y="313.46" width="6.70" height="6.69" fill="#f3eaff"/>
<rect x="73.20" y="313.46" width="6.70" height="6.69" fill="#e6d5ff"/>
<rect x="79.40" y="313.46" width="6.70" height="6.69" fill="#e6d5ff"/>
<rect x="85.60" y="313.46" width="6.70" height="6.69" fill="#efe3ff"/>
<rect x="91.80" y="313.46" width="6.70" height="6.69" fill="#f7f1ff"/>
<rect x="98.00" y="313.46" width="6.70" height="6.69" fill="#dec7ff"/>
<rect x="104.20" y="313.46" width="6.70" height="6.69" fill="#e2ceff"/>
<rect x="110.40" y="313.46" width="6.70" height="6.69" fill="#d0b2ff"/>
<rect x="116.60" y="313.46" width="6.70" height="6.69" fill="#c19dff"/>
<rect x="122.80" y="313.46" width="6.70" height="6.69" fill="#cbabff"/>
<rect x="129.00" y="313.46" width="6.70" height="6.69" fill="#cbabff"/>
<rect x="135.20" y="313.46" width="6.70" height="6.69" fill="#efe3ff"/>
<rect x="141.40" y="313.46" width="6.70" height="6.69" fill="#ebdcff"/>
<rect x="147.60" y="313.46" width="6.70" height="6.69" fill="#e6d5ff"/>
<rect x="153.80" y="313.46" width="6.70" height="6.69" fill="#fff5f1"/>
<rect x="160.00" y="313.46" width="6.70" height="6.69" fill="#ffebe4"/>
<rect x="166.20" y="313.46" width="6.70" height="6.69" fill="#ffebe4"/>
<rect x="172.40" y="313.46" width="6.70" height="6.69" fill="#f7f1ff"/>
<rect x="178.60" y="313.46" width="6.70" height="6.69" fill="#efe3ff"/>
<rect x="184.80" y="313.46" width="6.70" height="6.69" fill="#ffffff"/>
<rect x="191.00" y="313.46" width="6.70" height="6.69" fill="#ffd2c3"/>
<rect x="197.20" y="313.46" width="6.70" height="6.69" fill="#ffcdbc"/>
<rect x="203.40" y="313.46" width="6.70" height="6.69" fill="#efe3ff"/>
<rect x="209.60" y="313.46" width="6.70" height="6.69" fill="#f7f1ff"/>
<rect x="215.80" y="313.46" width="6.70" height="6.69" fill="#c19dff"/>
<rect x="222.00" y="313.46" width="6.70" height="6.69" fill="#efe3ff"/>
<rect x="228.20" y="313.46" width="6.70" height="6.69" fill="#f7f1ff"/>
<rect x="234.40" y="313.46" width="6.70" height="6.69" fill="#ffcdbc"/>
<rect x="240.60" y="313.46" width="6.70" height="6.69" fill="#ffcdbc"/>
<rect x="246.80" y="313.46" width="6.70" height="6.69" fill="#f7f1ff"/>
<rect x="253.00" y="313.46" width="6.70" height="6.69" fill="#ffd7c9"/>
<rect x="259.20" y="313.46" width="6.70" height="6.69" fill="#ff0000"/>
<rect x="265.40" y="313.46" width="6.70" height="6.69" fill="#ffe1d7"/>
<rect x="271.60" y="313.46" width="6.70" height="6.69" fill="#ffebe4"/>
<rect x="277.80" y="313.46" width="6.70" height="6.69" fill="#ffc3af"/>
<rect x="284.00" y="313.46" width="6.70" height="6.69" fill="#f7f1ff"/>
<rect x="290.20" y="313.46" width="6.70" height="6.69" fill="#fffaf8"/>
<rect x="296.40" y="313.46" width="6.70" height="6.69" fill="#f7f1ff"/>
<rect x="302.60" y="313.46" width="6.70" height="6.69" fill="#f3eaff"/>
<rect x="308.80" y="313.46" width="6.70" height="6.69" fill="#ffebe4"/>
<rect x="315.00" y="313.46" width="6.70" height="6.69" fill="#ffe1d7"/>
<rect x="321.20" y="313.46" width="6.70" height="6.69" fill="#ffffff"/>
<rect x="327.40" y="313.46" width="6.70" height="6.69" fill="#ffebe4"/>
<rect x="333.60" y="313.46" width="6.70" height="6.69" fill="#ffd7c9"/>
<rect x="339.80" y="313.46" width="6.70" height="6.69" fill="#ffd7c9"/>
<rect x="346.00" y="313.46" width="6.70" height="6.69" fill="#ffcdbc"/>
<rect x="352.20" y="313.46" width="6.20" height="6.69" fill="#ffcdbc"/>
<rect x="48.40" y="319.65" width="6.70" height="6.69" fill="#ebdcff"/>
<rect x="54.60" y="319.65" width="6.70" height="6.69" fill="#e6d5ff"/>
<rect x="60.80" y="319.65" width="6.70" height="6.69" fill="#e6d5ff"/>
<rect x="67.00" y="319.65" width="6.70" height="6.69" fill="#e6d5ff"/>
<rect x="73.20" y="319.65" width="6.70" height="6.69" fill="#dec7ff"/>
<rect x="79.40" y="319.65" width="6.70" height="6.69" fill="#ebdcff"/>
<rect x="85.60" y="319.65" width="6.70" height="6.69" fill="#f3eaff"/>
<rect x="91.80" y="319.65" width="6.70" height="6.69" fill="#fff5f1"/>
<rect x="98.00" y="319.65" width="6.70" height="6.69" fill="#f7f1ff"/>
<rect x="104.20" y="319.65" width="6.70" height="6.69" fill="#ffffff"/>
<rect x="110.40" y="319.65" width="6.70" height="6.69" fill="#f7f1ff"/>
<rect x="116.60" y="319.65" width="6.70" height="6.69" fill="#efe3ff"/>
<rect x="122.80" y="319.65" width="6.70" height="6.69" fill="#fff5f1"/>
<rect x="129.00" y="319.65" width="6.70" height="6.69" fill="#f3eaff"/>
<rect x="135.20" y="319.65" width="6.70" height="6.69" fill="#efe3ff"/>
<rect x="141.40" y="319.65" width="6.70" height="6.69" fill="#f3eaff"/>
<rect x="147.60" y="319.65" width="6.70" height="6.69" fill="#e6d5ff"/>
<rect x="153.80" y="319.65" width="6.70" height="6.69" fill="#fff5f1"/>
<rect x="160.00" y="319.65" width="6.70" height="6.69" fill="#fff5f1"/>
<rect x="166.20" y="319.65" width="6.70" height="6.69" fill="#fff5f1"/>
<rect x="172.40" y="319.65" width="6.70" height="6.69" fill="#ffe1d7"/>
<rect x="178.60" y="319.65" width="6.70" height="6.69" fill="#f7f1ff"/>
<rect x="184.80" y="319.65" width="6.70" height="6.69" fill="#efe3ff"/>
<rect x="191.00" y="319.65" width="6.70" height="6.69" fill="#ffebe4"/>
<rect x="197.20" y="319.65" width="6.70" height="6.69" fill="#fff0eb"/>
<rect x="203.40" y="319.65" width="6.70" height="6.69" fill="#fff5f1"/>
<rect x="209.60" y="319.65" width="6.70" height="6.69" fill="#fff5f1"/>
<rect x="215.80" y="319.65" width="6.70" height="6.69" fill="#fff5f1"/>
<rect x="222.00" y="319.65" width="6.70" height="6.69" fill="#f7f1ff"/>
<rect x="228.20" y="319.65" width="6.70" height="6.69" fill="#f7f1ff"/>
<rect x="234.40" y="319.65" width="6.70" height="6.69" fill="#ffebe4"/>
<rect x="240.60" y="319.65" width="6.70" height="6.69" fill="#ffebe4"/>
<rect x="246.80" y="319.65" width="6.70" height="6.69" fill="#ffebe4"/>
<rect x="253.00" y="319.65" width="6.70" height="6.69" fill="#ffe1d7"/>
<rect x="259.20" y="319.65" width="6.70" height="6.69" fill="#ffe1d7"/>
<rect x="265.40" y="319.65" width="6.70" height="6.69" fill="#ff0000"/>
<rect x="271.60" y="319.65" width="6.70" height="6.69" fill="#ffcdbc"/>
<rect x="277.80" y="319.65" width="6.70" height="6.69" fill="#ffd2c3"/>
<rect x="284.00" y="319.65" width="6.70" height="6.69" fill="#ffebe4"/>
<rect x="290.20" y="319.65" width="6.70" height="6.69" fill="#ffebe4"/>
<rect x="296.40" y="319.65" width="6.70" height="6.69" fill="#fff0eb"/>
<rect x="302.60" y="319.65" width="6.70" height="6.69" fill="#ffffff"/>
<rect x="308.80" y="319.65" width="6.70" height="6.69" fill="#ffebe4"/>
<rect x="315.00" y="319.65" width="6.70" height="6.69" fill="#ffe6dd"/>
<rect x="321.20" y="319.65" width="6.70" height="6.69" fill="#fff5f1"/>
<rect x="327.40" y="319.65" width="6.70" height="6.69" fill="#fff5f1"/>
<rect x="333.60" y="319.65" width="6.70" height="6.69" fill="#ffebe4"/>
<rect x="339.80" y="319.65" width="6.70" height="6.69" fill="#ffebe4"/>
<rect x="346.00" y="319.65" width="6.70" height="6.69" fill="#fff5f1"/>
<rect x="352.20" y="319.65" width="6.20" height="6.69" fill="#fffaf8"/>
<rect x="48.40" y="325.84" width="6.70" height="6.69" fill="#e2ceff"/>
<rect x="54.60" y="325.84" width="6.70" height="6.69" fill="#d4b9ff"/>
<rect x="60.80" y="325.84" width="6.70" height="6.69" fill="#dec7ff"/>
<rect x="67.00" y="325.84" width="6.70" height="6.69" fill="#d4b9ff"/>
<rect x="73.20" y="325.84" width="6.70" height="6.69" fill="#d4b9ff"/>
<rect x="79.40" y="325.84" width="6.70" height="6.69" fill="#d4b9ff"/>
<rect x="85.60" y="325.84" width="6.70" height="6.69" fill="#d4b9ff"/>
<rect x="91.80" y="325.84" width="6.70" height="6.69" fill="#efe3ff"/>
<rect x="98.00" y="325.84" width="6.70" height="6.69" fill="#e6d5ff"/>
<rect x="104.20" y="325.84" width="6.70" height="6.69" fill="#dec7ff"/>
<rect x="110.40" y="325.84" width="6.70" height="6.69" fill="#e6d5ff"/>
<rect x="116.60" y="325.84" width="6.70" height="6.69" fill="#e6d5ff"/>
<rect x="122.80" y="325.84" width="6.70" height="6.69" fill="#efe3ff"/>
<rect x="129.00" y="325.84" width="6.70" height="6.69" fill="#efe3ff"/>
<rect x="135.20" y="325.84" width="6.70" height="6.69" fill="#f7f1ff"/>
<rect x="141.40" y="325.84" width="6.70" height="6.69" fill="#ebdcff"/>
<rect x="147.60" y="325.84" width="6.70" height="6.69" fill="#e2ceff"/>
<rect x="153.80" y="325.84" width="6.70" height="6.69" fill="#f7f1ff"/>
<rect x="160.00" y="325.84" width="6.70" height="6.69" fill="#fff0eb"/>
<rect x="166.20" y="325.84" width="6.70" height="6.69" fill="#e6d5ff"/>
<rect x="172.40" y="325.84" width="6.70" height="6.69" fill="#ffffff"/>
<rect x="178.60" y="325.84" width="6.70" height="6.69" fill="#f3eaff"/>
<rect x="184.80" y="325.84" width="6.70" height="6.69" fill="#f3eaff"/>
<rect x="191.00" y="325.84" width="6.70" height="6.69" fill="#f3eaff"/>
<rect x="197.20" y="325.84" width="6.70" height="6.69" fill="#f3eaff"/>
<rect x="203.40" y="325.84" width="6.70" height="6.69" fill="#f7f1ff"/>
<rect x="209.60" y="325.84" width="6.70" height="6.69" fill="#efe3ff"/>
<rect x="215.80" y="325.84" width="6.70" height="6.69" fill="#fff5f1"/>
<rect x="222.00" y="325.84" width="6.70" height="6.69" fill="#f7f1ff"/>
<rect x="228.20" y="325.84" width="6.70" height="6.69" fill="#ffffff"/>
<rect x="234.40" y="325.84" width="6.70" height="6.69" fill="#fff5f1"/>
<rect x="240.60" y="325.84" width="6.70" height="6.69" fill="#ffe6dd"/>
<rect x="246.80" y="325.84" width="6.70" height="6.69" fill="#ffd7c9"/>
<rect x="253.00" y="325.84" width="6.70" height="6.69" fill="#ffd7c9"/>
<rect x="259.20" y="325.84" width="6.70" height="6.69" fill="#ffebe4"/>
<rect x="265.40" y="325.84" width="6.70" height="6.69" fill="#ffcdbc"/>
<rect x="271.60" y="325.84" width="6.70" height="6.69" fill="#ff0000"/>
<rect x="277.80" y="325.84" width="6.70" height="6.69" fill="#ffcdbc"/>
<rect x="284.00" y="325.84" width="6.70" height="6.69" fill="#fff5f1"/>
<rect x="290.20" y="325.84" width="6.70" height="6.69" fill="#fff5f1"/>
<rect x="296.40" y="325.84" width="6.70" height="6.69" fill="#fff0eb"/>
<rect x="302.60" y="325.84" width="6.70" height="6.69" fill="#fff5f1"/>
<rect x="308.80" y="325.84" width="6.70" height="6.69" fill="#ffe1d7"/>
<rect x="315.00" y="325.84" width="6.70" height="6.69" fill="#ffb9a2"/>
<rect x="321.20" y="325.84" width="6.70" height="6.69" fill="#ffd2c3"/>
<rect x="327.40" y="325.84" width="6.70" height="6.69" fill="#ffc8b6"/>
<rect x="333.60" y="325.84" width="6.70" height="6.69" fill="#ffb49c"/>
<rect x="339.80" y="325.84" width="6.70" height="6.69" fill="#ffaa8f"/>
<rect x="346.00" y="325.84" width="6.70" height="6.69" fill="#fff0eb"/>
<rect x="352.20" y="325.84" width="6.20" height="6.69" fill="#ffcdbc"/>
<rect x="48.40" y="332.03" width="6.70" height="6.69" fill="#e2ceff"/>
<rect x="54.60" y="332.03" width="6.70" height="6.69" fill="#d4b9ff"/>
<rect x="60.80" y="332.03" width="6.70" height="6.69" fill="#d9c0ff"/>
<rect x="67.00" y="332.03" width="6.70" height="6.69" fill="#d9c0ff"/>
<rect x="73.20" y="332.03" width="6.70" height="6.69" fill="#d4b9ff"/>
<rect x="79.40" y="332.03" width="6.70" height="6.69" fill="#d0b2ff"/>
<rect x="85.60" y="332.03" width="6.70" height="6.69" fill="#d4b9ff"/>
<rect x="91.80" y="332.03" width="6.70" height="6.69" fill="#f3eaff"/>
<rect x="98.00" y="332.03" width="6.70" height="6.69" fill="#e6d5ff"/>
<rect x="104.20" y="332.03" width="6.70" height="6.69" fill="#dec7ff"/>
<rect x="110.40" y="332.03" width="6.70" height="6.69" fill="#dec7ff"/>
<rect x="116.60" y="332.03" width="6.70" height="6.69" fill="#d4b9ff"/>
<rect x="122.80" y="332.03" width="6.70" height="6.69" fill="#ebdcff"/>
<rect x="129.00" y="332.03" width="6.70" height="6.69" fill="#dec7ff"/>
<rect x="135.20" y="332.03" width="6.70" height="6.69" fill="#d0b2ff"/>
<rect x="141.40" y="332.03" width="6.70" height="6.69" fill="#dec7ff"/>
<rect x="147.60" y="332.03" width="6.70" height="6.69" fill="#d9c0ff"/>
<rect x="153.80" y="332.03" width="6.70" height="6.69" fill="#fff5f1"/>
<rect x="160.00" y="332.03" width="6.70" height="6.69" fill="#ffffff"/>
<rect x="166.20" y="332.03" width="6.70" height="6.69" fill="#fffaf8"/>
<rect x="172.40" y="332.03" width="6.70" height="6.69" fill="#f7f1ff"/>
<rect x="178.60" y="332.03" width="6.70" height="6.69" fill="#e2ceff"/>
<rect x="184.80" y="332.03" width="6.70" height="6.69" fill="#efe3ff"/>
<rect x="191.00" y="332.03" width="6.70" height="6.69" fill="#fff5f1"/>
<rect x="197.20" y="332.03" width="6.70" height="6.69" fill="#f7f1ff"/>
<rect x="203.40" y="332.03" width="6.70" height="6.69" fill="#f7f1ff"/>
<rect x="209.60" y="332.03" width="6.70" height="6.69" fill="#efe3ff"/>
<rect x="215.80" y="332.03" width="6.70" height="6.69" fill="#ffffff"/>
<rect x="222.00" y="332.03" width="6.70" height="6.69" fill="#efe3ff"/>
<rect x="228.20" y="332.03" width="6.70" height="6.69" fill="#fbf8ff"/>
<rect x="234.40" y="332.03" width="6.70" height="6.69" fill="#ffe6dd"/>
<rect x="240.60" y="332.03" width="6.70" height="6.69" fill="#ffdcd0"/>
<rect x="246.80" y="332.03" width="6.70" height="6.69" fill="#ffdcd0"/>
<rect x="253.00" y="332.03" width="6.70" height="6.69" fill="#ffcdbc"/>
<rect x="259.20" y="332.03" width="6.70" height="6.69" fill="#ffc3af"/>
<rect x="265.40" y="332.03" width="6.70" height="6.69" fill="#ffd2c3"/>
<rect x="271.60" y="332.03" width="6.70" height="6.69" fill="#ffcdbc"/>
<rect x="277.80" y="332.03" width="6.70" height="6.69" fill="#ff0000"/>
<rect x="284.00" y="332.03" width="6.70" height="6.69" fill="#f7f1ff"/>
<rect x="290.20" y="332.03" width="6.70" height="6.69" fill="#fff5f1"/>
<rect x="296.40" y="332.03" width="6.70" height="6.69" fill="#fffaf8"/>
<rect x="302.60" y="332.03" width="6.70" height="6.69" fill="#fff5f1"/>
<rect x="308.80" y="332.03" width="6.70" height="6.69" fill="#ffe1d7"/>
<rect x="315.00" y="332.03" width="6.70" height="6.69" fill="#ffc3af"/>
<rect x="321.20" y="332.03" width="6.70" height="6.69" fill="#ffd7c9"/>
<rect x="327.40" y="332.03" width="6.70" height="6.69" fill="#ffcdbc"/>
<rect x="333.60" y="332.03" width="6.70" height="6.69" fill="#ffbea9"/>
<rect x="339.80" y="332.03" width="6.70" height="6.69" fill="#ffb9a2"/>
<rect x="346.00" y="332.03" width="6.70" height="6.69" fill="#ffd7c9"/>
<rect x="352.20" y="332.03" width="6.20" height="6.69" fill="#ffd2c3"/>
<rect x="48.40" y="338.22" width="6.70" height="6.69" fill="#f7f1ff"/>
<rect x="54.60" y="338.22" width="6.70" height="6.69" fill="#efe3ff"/>
<rect x="60.80" y="338.22" width="6.70" height="6.69" fill="#efe3ff"/>
<rect x="67.00" y="338.22" width="6.70" height="6.69" fill="#f7f1ff"/>
<rect x="73.20" y="338.22" width="6.70" height="6.69" fill="#f7f1ff"/>
<rect x="79.40" y="338.22" width="6.70" height="6.69" fill="#ffffff"/>
<rect x="85.60" y="338.22" width="6.70" height="6.69" fill="#fff5f1"/>
<rect x="91.80" y="338.22" width="6.70" height="6.69" fill="#ffffff"/>
<rect x="98.00" y="338.22" width="6.70" height="6.69" fill="#ffffff"/>
<rect x="104.20" y="338.22" width="6.70" height="6.69" fill="#fbf8ff"/>
<rect x="110.40" y="338.22" width="6.70" height="6.69" fill="#ffffff"/>
<rect x="116.60" y="338.22" width="6.70" height="6.69" fill="#ffffff"/>
<rect x="122.80" y="338.22" width="6.70" height="6.69" fill="#ffffff"/>
<rect x="129.00" y="338.22" width="6.70" height="6.69" fill="#ffffff"/>
<rect x="135.20" y="338.22" width="6.70" height="6.69" fill="#f3eaff"/>
<rect x="141.40" y="338.22" width="6.70" height="6.69" fill="#f7f1ff"/>
<rect x="147.60" y="338.22" width="6.70" height="6.69" fill="#ffffff"/>
<rect x="153.80" y="338.22" width="6.70" height="6.69" fill="#fff5f1"/>
<rect x="160.00" y="338.22" width="6.70" height="6.69" fill="#ffffff"/>
<rect x="166.20" y="338.22" width="6.70" height="6.69" fill="#ffffff"/>
<rect x="172.40" y="338.22" width="6.70" height="6.69" fill="#ffe1d7"/>
<rect x="178.60" y="338.22" width="6.70" height="6.69" fill="#ffe6dd"/>
<rect x="184.80" y="338.22" width="6.70" height="6.69" fill="#f7f1ff"/>
<rect x="191.00" y="338.22" width="6.70" height="6.69" fill="#ffffff"/>
<rect x="197.20" y="338.22" width="6.70" height="6.69" fill="#ffffff"/>
<rect x="203.40" y="338.22" width="6.70" height="6.69" fill="#ffc8b6"/>
<rect x="209.60" y="338.22" width="6.70" height="6.69" fill="#ffe1d7"/>
<rect x="215.80" y="338.22" width="6.70" height="6.69" fill="#ffffff"/>
<rect x="222.00" y="338.22" width="6.70" height="6.69" fill="#ffffff"/>
<rect x="228.20" y="338.22" width="6.70" height="6.69" fill="#fff5f1"/>
<rect x="234.40" y="338.22" width="6.70" height="6.69" fill="#efe3ff"/>
<rect x="240.60" y="338.22" width="6.70" height="6.69" fill="#efe3ff"/>
<rect x="246.80" y="338.22" width="6.70" height="6.69" fill="#ffffff"/>
<rect x="253.00" y="338.22" width="6.70" height="6.69" fill="#fff5f1"/>
<rect x="259.20" y="338.22" width="6.70" height="6.69" fill="#f7f1ff"/>
<rect x="265.40" y="338.22" width="6.70" height="6.69" fill="#ffebe4"/>
<rect x="271.60" y="338.22" width="6.70" height="6.69" fill="#fff5f1"/>
<rect x="277.80" y="338.22" width="6.70" height="6.69" fill="#f7f1ff"/>
<rect x="284.00" y="338.22" width="6.70" height="6.69" fill="#ff0000"/>
<rect x="290.20" y="338.22" width="6.70" height="6.69" fill="#ffb9a2"/>
<rect x="296.40" y="338.22" width="6.70" height="6.69" fill="#ffc3af"/>
<rect x="302.60" y="338.22" width="6.70" height="6.69" fill="#ffc3af"/>
<rect x="308.80" y="338.22" width="6.70" height="6.69" fill="#ffe1d7"/>
<rect x="315.00" y="338.22" width="6.70" height="6.69" fill="#fff5f1"/>
<rect x="321.20" y="338.22" width="6.70" height="6.69" fill="#fff5f1"/>
<rect x="327.40" y="338.22" width="6.70" height="6.69" fill="#fbf8ff"/>
<rect x="333.60" y="338.22" width="6.70" height="6.69" fill="#f7f1ff"/>
<rect x="339.80" y="338.22" width="6.70" height="6.69" fill="#fff5f1"/>
<rect x="346.00" y="338.22" width="6.70" height="6.69" fill="#ffe1d7"/>
<rect x="352.20" y="338.22" width="6.20" height="6.69" fill="#f7f1ff"/>
<rect x="48.40" y="344.41" width="6.70" height="6.69" fill="#f3eaff"/>
<rect x="54.60" y="344.41" width="6.70" height="6.69" fill="#ebdcff"/>
<rect x="60.80" y="344.41" width="6.70" height="6.69" fill="#f3eaff"/>
<rect x="67.00" y="344.41" width="6.70" height="6.69" fill="#f7f1ff"/>
<rect x="73.20" y="344.41" width="6.70" height="6.69" fill="#f7f1ff"/>
<rect x="79.40" y="344.41" width="6.70" height="6.69" fill="#f7f1ff"/>
<rect x="85.60" y="344.41" width="6.70" height="6.69" fill="#f7f1ff"/>
<rect x="91.80" y="344.41" width="6.70" height="6.69" fill="#f7f1ff"/>
<rect x="98.00" y="344.41" width="6.70" height="6.69" fill="#f7f1ff"/>
<rect x="104.20" y="344.41" width="6.70" height="6.69" fill="#f7f1ff"/>
<rect x="110.40" y="344.41" width="6.70" height="6.69" fill="#f7f1ff"/>
<rect x="116.60" y="344.41" width="6.70" height="6.69" fill="#efe3ff"/>
<rect x="122.80" y="344.41" width="6.70" height="6.69" fill="#f3eaff"/>
<rect x="129.00" y="344.41" width="6.70" height="6.69" fill="#f7f1ff"/>
<rect x="135.20" y="344.41" width="6.70" height="6.69" fill="#efe3ff"/>
<rect x="141.40" y="344.41" width="6.70" height="6.69" fill="#f7f1ff"/>
<rect x="147.60" y="344.41" width="6.70" height="6.69" fill="#efe3ff"/>
<rect x="153.80" y="344.41" width="6.70" height="6.69" fill="#f7f1ff"/>
<rect x="160.00" y="344.41" width="6.70" height="6.69" fill="#f7f1ff"/>
<rect x="166.20" y="344.41" width="6.70" height="6.69" fill="#f7f1ff"/>
<rect x="172.40" y="344.41" width="6.70" height="6.69" fill="#f7f1ff"/>
<rect x="178.60" y="344.41" width="6.70" height="6.69" fill="#f7f1ff"/>
<rect x="184.80" y="344.41" width="6.70" height="6.69" fill="#f7f1ff"/>
<rect x="191.00" y="344.41" width="6.70" height="6.69" fill="#fff5f1"/>
<rect x="197.20" y="344.41" width="6.70" height="6.69" fill="#fff5f1"/>
<rect x="203.40" y="344.41" width="6.70" height="6.69" fill="#ffdcd0"/>
<rect x="209.60" y="344.41" width="6.70" height="6.69" fill="#ffebe4"/>
<rect x="215.80" y="344.41" width="6.70" height="6.69" fill="#ebdcff"/>
<rect x="222.00" y="344.41" width="6.70" height="6.69" fill="#ffffff"/>
<rect x="228.20" y="344.41" width="6.70" height="6.69" fill="#ffffff"/>
<rect x="234.40" y="344.41" width="6.70" height="6.69" fill="#fbf8ff"/>
<rect x="240.60" y="344.41" width="6.70" height="6.69" fill="#fbf8ff"/>
<rect x="246.80" y="344.41" width="6.70" height="6.69" fill="#ffffff"/>
<rect x="253.00" y="344.41" width="6.70" height="6.69" fill="#fff5f1"/>
<rect x="259.20" y="344.41" width="6.70" height="6.69" fill="#fffaf8"/>
<rect x="265.40" y="344.41" width="6.70" height="6.69" fill="#ffebe4"/>
<rect x="271.60" y="344.41" width="6.70" height="6.69" fill="#fff5f1"/>
<rect x="277.80" y="344.41" width="6.70" height="6.69" fill="#fff5f1"/>
<rect x="284.00" y="344.41" width="6.70" height="6.69" fill="#ffb9a2"/>
<rect x="290.20" y="344.41" width="6.70" height="6.69" fill="#ff0000"/>
<rect x="296.40" y="344.41" width="6.70" height="6.69" fill="#ffe1d7"/>
<rect x="302.60" y="344.41" width="6.70" height="6.69" fill="#ffebe4"/>
<rect x="308.80" y="344.41" width="6.70" height="6.69" fill="#fff0eb"/>
<rect x="315.00" y="344.41" width="6.70" height="6.69" fill="#ffffff"/>
<rect x="321.20" y="344.41" width="6.70" height="6.69" fill="#fbf8ff"/>
<rect x="327.40" y="344.41" width="6.70" height="6.69" fill="#f7f1ff"/>
<rect x="333.60" y="344.41" width="6.70" height="6.69" fill="#f7f1ff"/>
<rect x="339.80" y="344.41" width="6.70" height="6.69" fill="#fff5f1"/>
<rect x="346.00" y="344.41" width="6.70" height="6.69" fill="#ffb49c"/>
<rect x="352.20" y="344.41" width="6.20" height="6.69" fill="#fff5f1"/>
<rect x="48.40" y="350.60" width="6.70" height="6.69" fill="#efe3ff"/>
<rect x="54.60" y="350.60" width="6.70" height="6.69" fill="#e2ceff"/>
<rect x="60.80" y="350.60" width="6.70" height="6.69" fill="#efe3ff"/>
<rect x="67.00" y="350.60" width="6.70" height="6.69" fill="#efe3ff"/>
<rect x="73.20" y="350.60" width="6.70" height="6.69" fill="#efe3ff"/>
<rect x="79.40" y="350.60" width="6.70" height="6.69" fill="#f7f1ff"/>
<rect x="85.60" y="350.60" width="6.70" height="6.69" fill="#f7f1ff"/>
<rect x="91.80" y="350.60" width="6.70" height="6.69" fill="#f3eaff"/>
<rect x="98.00" y="350.60" width="6.70" height="6.69" fill="#f7f1ff"/>
<rect x="104.20" y="350.60" width="6.70" height="6.69" fill="#fbf8ff"/>
<rect x="110.40" y="350.60" width="6.70" height="6.69" fill="#f7f1ff"/>
<rect x="116.60" y="350.60" width="6.70" height="6.69" fill="#f7f1ff"/>
<rect x="122.80" y="350.60" width="6.70" height="6.69" fill="#f7f1ff"/>
<rect x="129.00" y="350.60" width="6.70" height="6.69" fill="#fbf8ff"/>
<rect x="135.20" y="350.60" width="6.70" height="6.69" fill="#efe3ff"/>
<rect x="141.40" y="350.60" width="6.70" height="6.69" fill="#efe3ff"/>
<rect x="147.60" y="350.60" width="6.70" height="6.69" fill="#f7f1ff"/>
<rect x="153.80" y="350.60" width="6.70" height="6.69" fill="#fff5f1"/>
<rect x="160.00" y="350.60" width="6.70" height="6.69" fill="#fff5f1"/>
<rect x="166.20" y="350.60" width="6.70" height="6.69" fill="#f7f1ff"/>
<rect x="172.40" y="350.60" width="6.70" height="6.69" fill="#ffffff"/>
<rect x="178.60" y="350.60" width="6.70" height="6.69" fill="#ffebe4"/>
<rect x="184.80" y="350.60" width="6.70" height="6.69" fill="#f7f1ff"/>
<rect x="191.00" y="350.60" width="6.70" height="6.69" fill="#f7f1ff"/>
<rect x="197.20" y="350.60" width="6.70" height="6.69" fill="#fff0eb"/>
<rect x="203.40" y="350.60" width="6.70" height="6.69" fill="#ff8f70"/>
<rect x="209.60" y="350.60" width="6.70" height="6.69" fill="#ffd7c9"/>
<rect x="215.80" y="350.60" width="6.70" height="6.69" fill="#f7f1ff"/>
<rect x="222.00" y="350.60" width="6.70" height="6.69" fill="#ffffff"/>
<rect x="228.20" y="350.60" width="6.70" height="6.69" fill="#fff0eb"/>
<rect x="234.40" y="350.60" width="6.70" height="6.69" fill="#e6d5ff"/>
<rect x="240.60" y="350.60" width="6.70" height="6.69" fill="#e6d5ff"/>
<rect x="246.80" y="350.60" width="6.70" height="6.69" fill="#ffffff"/>
<rect x="253.00" y="350.60" width="6.70" height="6.69" fill="#ffebe4"/>
<rect x="259.20" y="350.60" width="6.70" height="6.69" fill="#f7f1ff"/>
<rect x="265.40" y="350.60" width="6.70" height="6.69" fill="#fff0eb"/>
<rect x="271.60" y="350.60" width="6.70" height="6.69" fill="#fff0eb"/>
<rect x="277.80" y="350.60" width="6.70" height="6.69" fill="#fffaf8"/>
<rect x="284.00" y="350.60" width="6.70" height="6.69" fill="#ffc3af"/>
<rect x="290.20" y="350.60" width="6.70" height="6.69" fill="#ffe1d7"/>
<rect x="296.40" y="350.60" width="6.70" height="6.69" fill="#ff0000"/>
<rect x="302.60" y="350.60" width="6.70" height="6.69" fill="#ff8f70"/>
<rect x="308.80" y="350.60" width="6.70" height="6.69" fill="#ffd7c9"/>
<rect x="315.00" y="350.60" width="6.70" height="6.69" fill="#ffe6dd"/>
<rect x="321.20" y="350.60" width="6.70" height="6.69" fill="#ffe6dd"/>
<rect x="327.40" y="350.60" width="6.70" height="6.69" fill="#ffebe4"/>
<rect x="333.60" y="350.60" width="6.70" height="6.69" fill="#ffebe4"/>
<rect x="339.80" y="350.60" width="6.70" height="6.69" fill="#ffebe4"/>
<rect x="346.00" y="350.60" width="6.70" height="6.69" fill="#fff5f1"/>
<rect x="352.20" y="350.60" width="6.20" height="6.69" fill="#fff0eb"/>
<rect x="48.40" y="356.79" width="6.70" height="6.69" fill="#f7f1ff"/>
<rect x="54.60" y="356.79" width="6.70" height="6.69" fill="#e2ceff"/>
<rect x="60.80" y="356.79" width="6.70" height="6.69" fill="#e6d5ff"/>
<rect x="67.00" y="356.79" width="6.70" height="6.69" fill="#ebdcff"/>
<rect x="73.20" y="356.79" width="6.70" height="6.69" fill="#f3eaff"/>
<rect x="79.40" y="356.79" width="6.70" height="6.69" fill="#f3eaff"/>
<rect x="85.60" y="356.79" width="6.70" height="6.69" fill="#efe3ff"/>
<rect x="91.80" y="356.79" width="6.70" height="6.69" fill="#ebdcff"/>
<rect x="98.00" y="356.79" width="6.70" height="6.69" fill="#f7f1ff"/>
<rect x="104.20" y="356.79" width="6.70" height="6.69" fill="#f3eaff"/>
<rect x="110.40" y="356.79" width="6.70" height="6.69" fill="#ffffff"/>
<rect x="116.60" y="356.79" width="6.70" height="6.69" fill="#fbf8ff"/>
<rect x="122.80" y="356.79" width="6.70" height="6.69" fill="#f7f1ff"/>
<rect x="129.00" y="356.79" width="6.70" height="6.69" fill="#ffffff"/>
<rect x="135.20" y="356.79" width="6.70" height="6.69" fill="#f7f1ff"/>
<rect x="141.40" y="356.79" width="6.70" height="6.69" fill="#efe3ff"/>
<rect x="147.60" y="356.79" width="6.70" height="6.69" fill="#f7f1ff"/>
<rect x="153.80" y="356.79" width="6.70" height="6.69" fill="#ffebe4"/>
<rect x="160.00" y="356.79" width="6.70" height="6.69" fill="#fff5f1"/>
<rect x="166.20" y="356.79" width="6.70" height="6.69" fill="#f3eaff"/>
<rect x="172.40" y="356.79" width="6.70" height="6.69" fill="#f7f1ff"/>
<rect x="178.60" y="356.79" width="6.70" height="6.69" fill="#ffffff"/>
<rect x="184.80" y="356.79" width="6.70" height="6.69" fill="#f7f1ff"/>
<rect x="191.00" y="356.79" width="6.70" height="6.69" fill="#dec7ff"/>
<rect x="197.20" y="356.79" width="6.70" height="6.69" fill="#f7f1ff"/>
<rect x="203.40" y="356.79" width="6.70" height="6.69" fill="#ff9a7c"/>
<rect x="209.60" y="356.79" width="6.70" height="6.69" fill="#ffdcd0"/>
<rect x="215.80" y="356.79" width="6.70" height="6.69" fill="#efe3ff"/>
<rect x="222.00" y="356.79" width="6.70" height="6.69" fill="#f7f1ff"/>
<rect x="228.20" y="356.79" width="6.70" height="6.69" fill="#ffe6dd"/>
<rect x="234.40" y="356.79" width="6.70" height="6.69" fill="#ebdcff"/>
<rect x="240.60" y="356.79" width="6.70" height="6.69" fill="#f7f1ff"/>
<rect x="246.80" y="356.79" width="6.70" height="6.69" fill="#fff0eb"/>
<rect x="253.00" y="356.79" width="6.70" height="6.69" fill="#fff5f1"/>
<rect x="259.20" y="356.79" width="6.70" height="6.69" fill="#f3eaff"/>
<rect x="265.40" y="356.79" width="6.70" height="6.69" fill="#ffffff"/>
<rect x="271.60" y="356.79" width="6.70" height="6.69" fill="#fff5f1"/>
<rect x="277.80" y="356.79" width="6.70" height="6.69" fill="#fff5f1"/>
<rect x="284.00" y="356.79" width="6.70" height="6.69" fill="#ffc3af"/>
<rect x="290.20" y="356.79" width="6.70" height="6.69" fill="#ffebe4"/>
<rect x="296.40" y="356.79" width="6.70" height="6.69" fill="#ff8f70"/>
<rect x="302.60" y="356.79" width="6.70" height="6.69" fill="#ff0000"/>
<rect x="308.80" y="356.79" width="6.70" height="6.69" fill="#ffd7c9"/>
<rect x="315.00" y="356.79" width="6.70" height="6.69" fill="#ffdcd0"/>
<rect x="321.20" y="356.79" width="6.70" height="6.69" fill="#ffe1d7"/>
<rect x="327.40" y="356.79" width="6.70" height="6.69" fill="#ffdcd0"/>
<rect x="333.60" y="356.79" width="6.70" height="6.69" fill="#ffdcd0"/>
<rect x="339.80" y="356.79" width="6.70" height="6.69" fill="#ffd2c3"/>
<rect x="346.00" y="356.79" width="6.70" height="6.69" fill="#ffebe4"/>
<rect x="352.20" y="356.79" width="6.20" height="6.69" fill="#fff5f1"/>
<rect x="48.40" y="362.98" width="6.70" height="6.69" fill="#e6d5ff"/>
<rect x="54.60" y="362.98" width="6.70" height="6.69" fill="#e2ceff"/>
<rect x="60.80" y="362.98" width="6.70" height="6.69" fill="#e6d5ff"/>
<rect x="67.00" y="362.98" width="6.70" height="6.69" fill="#dec7ff"/>
<rect x="73.20" y="362.98" width="6.70" height="6.69" fill="#e6d5ff"/>
<rect x="79.40" y="362.98" width="6.70" height="6.69" fill="#e6d5ff"/>
<rect x="85.60" y="362.98" width="6.70" height="6.69" fill="#e6d5ff"/>
<rect x="91.80" y="362.98" width="6.70" height="6.69" fill="#ebdcff"/>
<rect x="98.00" y="362.98" width="6.70" height="6.69" fill="#efe3ff"/>
<rect x="104.20" y="362.98" width="6.70" height="6.69" fill="#efe3ff"/>
<rect x="110.40" y="362.98" width="6.70" height="6.69" fill="#efe3ff"/>
<rect x="116.60" y="362.98" width="6.70" height="6.69" fill="#efe3ff"/>
<rect x="122.80" y="362.98" width="6.70" height="6.69" fill="#efe3ff"/>
<rect x="129.00" y="362.98" width="6.70" height="6.69" fill="#efe3ff"/>
<rect x="135.20" y="362.98" width="6.70" height="6.69" fill="#f7f1ff"/>
<rect x="141.40" y="362.98" width="6.70" height="6.69" fill="#f3eaff"/>
<rect x="147.60" y="362.98" width="6.70" height="6.69" fill="#f3eaff"/>
<rect x="153.80" y="362.98" width="6.70" height="6.69" fill="#f7f1ff"/>
<rect x="160.00" y="362.98" width="6.70" height="6.69" fill="#ffffff"/>
<rect x="166.20" y="362.98" width="6.70" height="6.69" fill="#efe3ff"/>
<rect x="172.40" y="362.98" width="6.70" height="6.69" fill="#f7f1ff"/>
<rect x="178.60" y="362.98" width="6.70" height="6.69" fill="#efe3ff"/>
<rect x="184.80" y="362.98" width="6.70" height="6.69" fill="#f7f1ff"/>
<rect x="191.00" y="362.98" width="6.70" height="6.69" fill="#f3eaff"/>
<rect x="197.20" y="362.98" width="6.70" height="6.69" fill="#f7f1ff"/>
<rect x="203.40" y="362.98" width="6.70" height="6.69" fill="#ffe6dd"/>
<rect x="209.60" y="362.98" width="6.70" height="6.69" fill="#f7f1ff"/>
<rect x="215.80" y="362.98" width="6.70" height="6.69" fill="#efe3ff"/>
<rect x="222.00" y="362.98" width="6.70" height="6.69" fill="#ffffff"/>
<rect x="228.20" y="362.98" width="6.70" height="6.69" fill="#ffffff"/>
<rect x="234.40" y="362.98" width="6.70" height="6.69" fill="#ffffff"/>
<rect x="240.60" y="362.98" width="6.70" height="6.69" fill="#fff5f1"/>
<rect x="246.80" y="362.98" width="6.70" height="6.69" fill="#ffe1d7"/>
<rect x="253.00" y="362.98" width="6.70" height="6.69" fill="#ffe1d7"/>
<rect x="259.20" y="362.98" width="6.70" height="6.69" fill="#ffebe4"/>
<rect x="265.40" y="362.98" width="6.70" height="6.69" fill="#ffebe4"/>
<rect x="271.60" y="362.98" width="6.70" height="6.69" fill="#ffe1d7"/>
<rect x="277.80" y="362.98" width="6.70" height="6.69" fill="#ffe1d7"/>
<rect x="284.00" y="362.98" width="6.70" height="6.69" fill="#ffe1d7"/>
<rect x="290.20" y="362.98" width="6.70" height="6.69" fill="#fff0eb"/>
<rect x="296.40" y="362.98" width="6.70" height="6.69" fill="#ffd7c9"/>
<rect x="302.60" y="362.98" width="6.70" height="6.69" fill="#ffd7c9"/>
<rect x="308.80" y="362.98" width="6.70" height="6.69" fill="#ff0000"/>
<rect x="315.00" y="362.98" width="6.70" height="6.69" fill="#ffd7c9"/>
<rect x="321.20" y="362.98" width="6.70" height="6.69" fill="#ffebe4"/>
<rect x="327.40" y="362.98" width="6.70" height="6.69" fill="#ffd7c9"/>
<rect x="333.60" y="362.98" width="6.70" height="6.69" fill="#ffebe4"/>
<rect x="339.80" y="362.98" width="6.70" height="6.69" fill="#ffcdbc"/>
<rect x="346.00" y="362.98" width="6.70" height="6.69" fill="#ffebe4"/>
<rect x="352.20" y="362.98" width="6.20" height="6.69" fill="#ffebe4"/>
<rect x="48.40" y="369.17" width="6.70" height="6.69" fill="#efe3ff"/>
<rect x="54.60" y="369.17" width="6.70" height="6.69" fill="#efe3ff"/>
<rect x="60.80" y="369.17" width="6.70" height="6.69" fill="#e6d5ff"/>
<rect x="67.00" y="369.17" width="6.70" height="6.69" fill="#c6a4ff"/>
<rect x="73.20" y="369.17" width="6.70" height="6.69" fill="#d4b9ff"/>
<rect x="79.40" y="369.17" width="6.70" height="6.69" fill="#d0b2ff"/>
<rect x="85.60" y="369.17" width="6.70" height="6.69" fill="#d4b9ff"/>
<rect x="91.80" y="369.17" width="6.70" height="6.69" fill="#e6d5ff"/>
<rect x="98.00" y="369.17" width="6.70" height="6.69" fill="#efe3ff"/>
<rect x="104.20" y="369.17" width="6.70" height="6.69" fill="#e2ceff"/>
<rect x="110.40" y="369.17" width="6.70" height="6.69" fill="#f7f1ff"/>
<rect x="116.60" y="369.17" width="6.70" height="6.69" fill="#e6d5ff"/>
<rect x="122.80" y="369.17" width="6.70" height="6.69" fill="#efe3ff"/>
<rect x="129.00" y="369.17" width="6.70" height="6.69" fill="#f7f1ff"/>
<rect x="135.20" y="369.17" width="6.70" height="6.69" fill="#fff5f1"/>
<rect x="141.40" y="369.17" width="6.70" height="6.69" fill="#ebdcff"/>
<rect x="147.60" y="369.17" width="6.70" height="6.69" fill="#e6d5ff"/>
<rect x="153.80" y="369.17" width="6.70" height="6.69" fill="#ffcdbc"/>
<rect x="160.00" y="369.17" width="6.70" height="6.69" fill="#ffcdbc"/>
<rect x="166.20" y="369.17" width="6.70" height="6.69" fill="#f7f1ff"/>
<rect x="172.40" y="369.17" width="6.70" height="6.69" fill="#fff5f1"/>
<rect x="178.60" y="369.17" width="6.70" height="6.69" fill="#ffffff"/>
<rect x="184.80" y="369.17" width="6.70" height="6.69" fill="#ffebe4"/>
<rect x="191.00" y="369.17" width="6.70" height="6.69" fill="#e6d5ff"/>
<rect x="197.20" y="369.17" width="6.70" height="6.69" fill="#e6d5ff"/>
<rect x="203.40" y="369.17" width="6.70" height="6.69" fill="#ebdcff"/>
<rect x="209.60" y="369.17" width="6.70" height="6.69" fill="#e6d5ff"/>
<rect x="215.80" y="369.17" width="6.70" height="6.69" fill="#ffffff"/>
<rect x="222.00" y="369.17" width="6.70" height="6.69" fill="#f7f1ff"/>
<rect x="228.20" y="369.17" width="6.70" height="6.69" fill="#ffffff"/>
<rect x="234.40" y="369.17" width="6.70" height="6.69" fill="#fff5f1"/>
<rect x="240.60" y="369.17" width="6.70" height="6.69" fill="#ffd7c9"/>
<rect x="246.80" y="369.17" width="6.70" height="6.69" fill="#ffaf96"/>
<rect x="253.00" y="369.17" width="6.70" height="6.69" fill="#ffc3af"/>
<rect x="259.20" y="369.17" width="6.70" height="6.69" fill="#ffe1d7"/>
<rect x="265.40" y="369.17" width="6.70" height="6.69" fill="#ffe6dd"/>
<rect x="271.60" y="369.17" width="6.70" height="6.69" fill="#ffb9a2"/>
<rect x="277.80" y="369.17" width="6.70" height="6.69" fill="#ffc3af"/>
<rect x="284.00" y="369.17" width="6.70" height="6.69" fill="#fff5f1"/>
<rect x="290.20" y="369.17" width="6.70" height="6.69" fill="#ffffff"/>
<rect x="296.40" y="369.17" width="6.70" height="6.69" fill="#ffe6dd"/>
<rect x="302.60" y="369.17" width="6.70" height="6.69" fill="#ffdcd0"/>
<rect x="308.80" y="369.17" width="6.70" height="6.69" fill="#ffd7c9"/>
<rect x="315.00" y="369.17" width="6.70" height="6.69" fill="#ff0000"/>
<rect x="321.20" y="369.17" width="6.70" height="6.69" fill="#ffa489"/>
<rect x="327.40" y="369.17" width="6.70" height="6.69" fill="#ff9576"/>
<rect x="333.60" y="369.17" width="6.70" height="6.69" fill="#ff8f70"/>
<rect x="339.80" y="369.17" width="6.70" height="6.69" fill="#ff8f70"/>
<rect x="346.00" y="369.17" width="6.70" height="6.69" fill="#fff0eb"/>
<rect x="352.20" y="369.17" width="6.20" height="6.69" fill="#ffcdbc"/>
<rect x="48.40" y="375.36" width="6.70" height="6.69" fill="#e6d5ff"/>
<rect x="54.60" y="375.36" width="6.70" height="6.69" fill="#ebdcff"/>
<rect x="60.80" y="375.36" width="6.70" height="6.69" fill="#e6d5ff"/>
<rect x="67.00" y="375.36" width="6.70" height="6.69" fill="#cbabff"/>
<rect x="73.20" y="375.36" width="6.70" height="6.69" fill="#dec7ff"/>
<rect x="79.40" y="375.36" width="6.70" height="6.69" fill="#e6d5ff"/>
<rect x="85.60" y="375.36" width="6.70" height="6.69" fill="#d4b9ff"/>
<rect x="91.80" y="375.36" width="6.70" height="6.69" fill="#d4b9ff"/>
<rect x="98.00" y="375.36" width="6.70" height="6.69" fill="#efe3ff"/>
<rect x="104.20" y="375.36" width="6.70" height="6.69" fill="#e2ceff"/>
<rect x="110.40" y="375.36" width="6.70" height="6.69" fill="#f7f1ff"/>
<rect x="116.60" y="375.36" width="6.70" height="6.69" fill="#efe3ff"/>
<rect x="122.80" y="375.36" width="6.70" height="6.69" fill="#efe3ff"/>
<rect x="129.00" y="375.36" width="6.70" height="6.69" fill="#fff5f1"/>
<rect x="135.20" y="375.36" width="6.70" height="6.69" fill="#f7f1ff"/>
<rect x="141.40" y="375.36" width="6.70" height="6.69" fill="#f3eaff"/>
<rect x="147.60" y="375.36" width="6.70" height="6.69" fill="#f7f1ff"/>
<rect x="153.80" y="375.36" width="6.70" height="6.69" fill="#fff5f1"/>
<rect x="160.00" y="375.36" width="6.70" height="6.69" fill="#fff5f1"/>
<rect x="166.20" y="375.36" width="6.70" height="6.69" fill="#e6d5ff"/>
<rect x="172.40" y="375.36" width="6.70" height="6.69" fill="#e6d5ff"/>
<rect x="178.60" y="375.36" width="6.70" height="6.69" fill="#efe3ff"/>
<rect x="184.80" y="375.36" width="6.70" height="6.69" fill="#fff5f1"/>
<rect x="191.00" y="375.36" width="6.70" height="6.69" fill="#dec7ff"/>
<rect x="197.20" y="375.36" width="6.70" height="6.69" fill="#dec7ff"/>
<rect x="203.40" y="375.36" width="6.70" height="6.69" fill="#f7f1ff"/>
<rect x="209.60" y="375.36" width="6.70" height="6.69" fill="#e6d5ff"/>
<rect x="215.80" y="375.36" width="6.70" height="6.69" fill="#ffffff"/>
<rect x="222.00" y="375.36" width="6.70" height="6.69" fill="#f7f1ff"/>
<rect x="228.20" y="375.36" width="6.70" height="6.69" fill="#fbf8ff"/>
<rect x="234.40" y="375.36" width="6.70" height="6.69" fill="#f3eaff"/>
<rect x="240.60" y="375.36" width="6.70" height="6.69" fill="#fbf8ff"/>
<rect x="246.80" y="375.36" width="6.70" height="6.69" fill="#ffc3af"/>
<rect x="253.00" y="375.36" width="6.70" height="6.69" fill="#ffe6dd"/>
<rect x="259.20" y="375.36" width="6.70" height="6.69" fill="#ffffff"/>
<rect x="265.40" y="375.36" width="6.70" height="6.69" fill="#fff5f1"/>
<rect x="271.60" y="375.36" width="6.70" height="6.69" fill="#ffd2c3"/>
<rect x="277.80" y="375.36" width="6.70" height="6.69" fill="#ffd7c9"/>
<rect x="284.00" y="375.36" width="6.70" height="6.69" fill="#fff5f1"/>
<rect x="290.20" y="375.36" width="6.70" height="6.69" fill="#fbf8ff"/>
<rect x="296.40" y="375.36" width="6.70" height="6.69" fill="#ffe6dd"/>
<rect x="302.60" y="375.36" width="6.70" height="6.69" fill="#ffe1d7"/>
<rect x="308.80" y="375.36" width="6.70" height="6.69" fill="#ffebe4"/>
<rect x="315.00" y="375.36" width="6.70" height="6.69" fill="#ffa489"/>
<rect x="321.20" y="375.36" width="6.70" height="6.69" fill="#ff0000"/>
<rect x="327.40" y="375.36" width="6.70" height="6.69" fill="#ffa489"/>
<rect x="333.60" y="375.36" width="6.70" height="6.69" fill="#ff9a7c"/>
<rect x="339.80" y="375.36" width="6.70" height="6.69" fill="#ff9a7c"/>
<rect x="346.00" y="375.36" width="6.70" height="6.69" fill="#ffebe4"/>
<rect x="352.20" y="375.36" width="6.20" height="6.69" fill="#ffd7c9"/>
<rect x="48.40" y="381.55" width="6.70" height="6.69" fill="#ebdcff"/>
<rect x="54.60" y="381.55" width="6.70" height="6.69" fill="#ebdcff"/>
<rect x="60.80" y="381.55" width="6.70" height="6.69" fill="#e6d5ff"/>
<rect x="67.00" y="381.55" width="6.70" height="6.69" fill="#cbabff"/>
<rect x="73.20" y="381.55" width="6.70" height="6.69" fill="#d9c0ff"/>
<rect x="79.40" y="381.55" width="6.70" height="6.69" fill="#d0b2ff"/>
<rect x="85.60" y="381.55" width="6.70" height="6.69" fill="#c6a4ff"/>
<rect x="91.80" y="381.55" width="6.70" height="6.69" fill="#bc97ff"/>
<rect x="98.00" y="381.55" width="6.70" height="6.69" fill="#e6d5ff"/>
<rect x="104.20" y="381.55" width="6.70" height="6.69" fill="#e2ceff"/>
<rect x="110.40" y="381.55" width="6.70" height="6.69" fill="#ffffff"/>
<rect x="116.60" y="381.55" width="6.70" height="6.69" fill="#efe3ff"/>
<rect x="122.80" y="381.55" width="6.70" height="6.69" fill="#f3eaff"/>
<rect x="129.00" y="381.55" width="6.70" height="6.69" fill="#fff5f1"/>
<rect x="135.20" y="381.55" width="6.70" height="6.69" fill="#fff0eb"/>
<rect x="141.40" y="381.55" width="6.70" height="6.69" fill="#f3eaff"/>
<rect x="147.60" y="381.55" width="6.70" height="6.69" fill="#f3eaff"/>
<rect x="153.80" y="381.55" width="6.70" height="6.69" fill="#fff5f1"/>
<rect x="160.00" y="381.55" width="6.70" height="6.69" fill="#fff5f1"/>
<rect x="166.20" y="381.55" width="6.70" height="6.69" fill="#dec7ff"/>
<rect x="172.40" y="381.55" width="6.70" height="6.69" fill="#e6d5ff"/>
<rect x="178.60" y="381.55" width="6.70" height="6.69" fill="#dec7ff"/>
<rect x="184.80" y="381.55" width="6.70" height="6.69" fill="#f7f1ff"/>
<rect x="191.00" y="381.55" width="6.70" height="6.69" fill="#d0b2ff"/>
<rect x="197.20" y="381.55" width="6.70" height="6.69" fill="#dec7ff"/>
<rect x="203.40" y="381.55" width="6.70" height="6.69" fill="#e2ceff"/>
<rect x="209.60" y="381.55" width="6.70" height="6.69" fill="#dec7ff"/>
<rect x="215.80" y="381.55" width="6.70" height="6.69" fill="#f7f1ff"/>
<rect x="222.00" y="381.55" width="6.70" height="6.69" fill="#ffffff"/>
<rect x="228.20" y="381.55" width="6.70" height="6.69" fill="#f7f1ff"/>
<rect x="234.40" y="381.55" width="6.70" height="6.69" fill="#fff5f1"/>
<rect x="240.60" y="381.55" width="6.70" height="6.69" fill="#ffd7c9"/>
<rect x="246.80" y="381.55" width="6.70" height="6.69" fill="#ffaf96"/>
<rect x="253.00" y="381.55" width="6.70" height="6.69" fill="#ffd7c9"/>
<rect x="259.20" y="381.55" width="6.70" height="6.69" fill="#ffebe4"/>
<rect x="265.40" y="381.55" width="6.70" height="6.69" fill="#fff5f1"/>
<rect x="271.60" y="381.55" width="6.70" height="6.69" fill="#ffc8b6"/>
<rect x="277.80" y="381.55" width="6.70" height="6.69" fill="#ffcdbc"/>
<rect x="284.00" y="381.55" width="6.70" height="6.69" fill="#fbf8ff"/>
<rect x="290.20" y="381.55" width="6.70" height="6.69" fill="#f7f1ff"/>
<rect x="296.40" y="381.55" width="6.70" height="6.69" fill="#ffebe4"/>
<rect x="302.60" y="381.55" width="6.70" height="6.69" fill="#ffdcd0"/>
<rect x="308.80" y="381.55" width="6.70" height="6.69" fill="#ffd7c9"/>
<rect x="315.00" y="381.55" width="6.70" height="6.69" fill="#ff9576"/>
<rect x="321.20" y="381.55" width="6.70" height="6.69" fill="#ffa489"/>
<rect x="327.40" y="381.55" width="6.70" height="6.69" fill="#ff0000"/>
<rect x="333.60" y="381.55" width="6.70" height="6.69" fill="#ff8f70"/>
<rect x="339.80" y="381.55" width="6.70" height="6.69" fill="#ff8a6a"/>
<rect x="346.00" y="381.55" width="6.70" height="6.69" fill="#ffebe4"/>
<rect x="352.20" y="381.55" width="6.20" height="6.69" fill="#ffb9a2"/>
<rect x="48.40" y="387.74" width="6.70" height="6.69" fill="#d9c0ff"/>
<rect x="54.60" y="387.74" width="6.70" height="6.69" fill="#d9c0ff"/>
<rect x="60.80" y="387.74" width="6.70" height="6.69" fill="#d9c0ff"/>
<rect x="67.00" y="387.74" width="6.70" height="6.69" fill="#c19dff"/>
<rect x="73.20" y="387.74" width="6.70" height="6.69" fill="#cbabff"/>
<rect x="79.40" y="387.74" width="6.70" height="6.69" fill="#cbabff"/>
<rect x="85.60" y="387.74" width="6.70" height="6.69" fill="#c6a4ff"/>
<rect x="91.80" y="387.74" width="6.70" height="6.69" fill="#c6a4ff"/>
<rect x="98.00" y="387.74" width="6.70" height="6.69" fill="#d9c0ff"/>
<rect x="104.20" y="387.74" width="6.70" height="6.69" fill="#d9c0ff"/>
<rect x="110.40" y="387.74" width="6.70" height="6.69" fill="#efe3ff"/>
<rect x="116.60" y="387.74" width="6.70" height="6.69" fill="#d9c0ff"/>
<rect x="122.80" y="387.74" width="6.70" height="6.69" fill="#efe3ff"/>
<rect x="129.00" y="387.74" width="6.70" height="6.69" fill="#f7f1ff"/>
<rect x="135.20" y="387.74" width="6.70" height="6.69" fill="#ffffff"/>
<rect x="141.40" y="387.74" width="6.70" height="6.69" fill="#e2ceff"/>
<rect x="147.60" y="387.74" width="6.70" height="6.69" fill="#e6d5ff"/>
<rect x="153.80" y="387.74" width="6.70" height="6.69" fill="#ffffff"/>
<rect x="160.00" y="387.74" width="6.70" height="6.69" fill="#ffffff"/>
<rect x="166.20" y="387.74" width="6.70" height="6.69" fill="#dec7ff"/>
<rect x="172.40" y="387.74" width="6.70" height="6.69" fill="#e6d5ff"/>
<rect x="178.60" y="387.74" width="6.70" height="6.69" fill="#d4b9ff"/>
<rect x="184.80" y="387.74" width="6.70" height="6.69" fill="#f7f1ff"/>
<rect x="191.00" y="387.74" width="6.70" height="6.69" fill="#d9c0ff"/>
<rect x="197.20" y="387.74" width="6.70" height="6.69" fill="#dec7ff"/>
<rect x="203.40" y="387.74" width="6.70" height="6.69" fill="#ebdcff"/>
<rect x="209.60" y="387.74" width="6.70" height="6.69" fill="#d9c0ff"/>
<rect x="215.80" y="387.74" width="6.70" height="6.69" fill="#f7f1ff"/>
<rect x="222.00" y="387.74" width="6.70" height="6.69" fill="#f7f1ff"/>
<rect x="228.20" y="387.74" width="6.70" height="6.69" fill="#f7f1ff"/>
<rect x="234.40" y="387.74" width="6.70" height="6.69" fill="#fffaf8"/>
<rect x="240.60" y="387.74" width="6.70" height="6.69" fill="#ffe1d7"/>
<rect x="246.80" y="387.74" width="6.70" height="6.69" fill="#ffb9a2"/>
<rect x="253.00" y="387.74" width="6.70" height="6.69" fill="#ffd7c9"/>
<rect x="259.20" y="387.74" width="6.70" height="6.69" fill="#ffd7c9"/>
<rect x="265.40" y="387.74" width="6.70" height="6.69" fill="#ffebe4"/>
<rect x="271.60" y="387.74" width="6.70" height="6.69" fill="#ffb49c"/>
<rect x="277.80" y="387.74" width="6.70" height="6.69" fill="#ffbea9"/>
<rect x="284.00" y="387.74" width="6.70" height="6.69" fill="#f7f1ff"/>
<rect x="290.20" y="387.74" width="6.70" height="6.69" fill="#f7f1ff"/>
<rect x="296.40" y="387.74" width="6.70" height="6.69" fill="#ffebe4"/>
<rect x="302.60" y="387.74" width="6.70" height="6.69" fill="#ffdcd0"/>
<rect x="308.80" y="387.74" width="6.70" height="6.69" fill="#ffebe4"/>
<rect x="315.00" y="387.74" width="6.70" height="6.69" fill="#ff8f70"/>
<rect x="321.20" y="387.74" width="6.70" height="6.69" fill="#ff9a7c"/>
<rect x="327.40" y="387.74" width="6.70" height="6.69" fill="#ff8f70"/>
<rect x="333.60" y="387.74" width="6.70" height="6.69" fill="#ff0000"/>
<rect x="339.80" y="387.74" width="6.70" height="6.69" fill="#ff8464"/>
<rect x="346.00" y="387.74" width="6.70" height="6.69" fill="#ffe6dd"/>
<rect x="352.20" y="387.74" width="6.20" height="6.69" fill="#ffaf96"/>
<rect x="48.40" y="393.93" width="6.70" height="6.69" fill="#c6a4ff"/>
<rect x="54.60" y="393.93" width="6.70" height="6.69" fill="#bc97ff"/>
<rect x="60.80" y="393.93" width="6.70" height="6.69" fill="#c6a4ff"/>
<rect x="67.00" y="393.93" width="6.70" height="6.69" fill="#a074ff"/>
<rect x="73.20" y="393.93" width="6.70" height="6.69" fill="#ab82ff"/>
<rect x="79.40" y="393.93" width="6.70" height="6.69" fill="#bc97ff"/>
<rect x="85.60" y="393.93" width="6.70" height="6.69" fill="#a67bff"/>
<rect x="91.80" y="393.93" width="6.70" height="6.69" fill="#c19dff"/>
<rect x="98.00" y="393.93" width="6.70" height="6.69" fill="#c6a4ff"/>
<rect x="104.20" y="393.93" width="6.70" height="6.69" fill="#c19dff"/>
<rect x="110.40" y="393.93" width="6.70" height="6.69" fill="#d9c0ff"/>
<rect x="116.60" y="393.93" width="6.70" height="6.69" fill="#c6a4ff"/>
<rect x="122.80" y="393.93" width="6.70" height="6.69" fill="#d4b9ff"/>
<rect x="129.00" y="393.93" width="6.70" height="6.69" fill="#efe3ff"/>
<rect x="135.20" y="393.93" width="6.70" height="6.69" fill="#efe3ff"/>
<rect x="141.40" y="393.93" width="6.70" height="6.69" fill="#d9c0ff"/>
<rect x="147.60" y="393.93" width="6.70" height="6.69" fill="#dec7ff"/>
<rect x="153.80" y="393.93" width="6.70" height="6.69" fill="#f7f1ff"/>
<rect x="160.00" y="393.93" width="6.70" height="6.69" fill="#f7f1ff"/>
<rect x="166.20" y="393.93" width="6.70" height="6.69" fill="#d0b2ff"/>
<rect x="172.40" y="393.93" width="6.70" height="6.69" fill="#dec7ff"/>
<rect x="178.60" y="393.93" width="6.70" height="6.69" fill="#dec7ff"/>
<rect x="184.80" y="393.93" width="6.70" height="6.69" fill="#ebdcff"/>
<rect x="191.00" y="393.93" width="6.70" height="6.69" fill="#d4b9ff"/>
<rect x="197.20" y="393.93" width="6.70" height="6.69" fill="#dec7ff"/>
<rect x="203.40" y="393.93" width="6.70" height="6.69" fill="#efe3ff"/>
<rect x="209.60" y="393.93" width="6.70" height="6.69" fill="#dec7ff"/>
<rect x="215.80" y="393.93" width="6.70" height="6.69" fill="#efe3ff"/>
<rect x="222.00" y="393.93" width="6.70" height="6.69" fill="#f7f1ff"/>
<rect x="228.20" y="393.93" width="6.70" height="6.69" fill="#f7f1ff"/>
<rect x="234.40" y="393.93" width="6.70" height="6.69" fill="#f3eaff"/>
<rect x="240.60" y="393.93" width="6.70" height="6.69" fill="#fff0eb"/>
<rect x="246.80" y="393.93" width="6.70" height="6.69" fill="#ffb9a2"/>
<rect x="253.00" y="393.93" width="6.70" height="6.69" fill="#ffd7c9"/>
<rect x="259.20" y="393.93" width="6.70" height="6.69" fill="#ffd7c9"/>
<rect x="265.40" y="393.93" width="6.70" height="6.69" fill="#ffebe4"/>
<rect x="271.60" y="393.93" width="6.70" height="6.69" fill="#ffaa8f"/>
<rect x="277.80" y="393.93" width="6.70" height="6.69" fill="#ffb9a2"/>
<rect x="284.00" y="393.93" width="6.70" height="6.69" fill="#fff5f1"/>
<rect x="290.20" y="393.93" width="6.70" height="6.69" fill="#fff5f1"/>
<rect x="296.40" y="393.93" width="6.70" height="6.69" fill="#ffebe4"/>
<rect x="302.60" y="393.93" width="6.70" height="6.69" fill="#ffd2c3"/>
<rect x="308.80" y="393.93" width="6.70" height="6.69" fill="#ffcdbc"/>
<rect x="315.00" y="393.93" width="6.70" height="6.69" fill="#ff8f70"/>
<rect x="321.20" y="393.93" width="6.70" height="6.69" fill="#ff9a7c"/>
<rect x="327.40" y="393.93" width="6.70" height="6.69" fill="#ff8a6a"/>
<rect x="333.60" y="393.93" width="6.70" height="6.69" fill="#ff8464"/>
<rect x="339.80" y="393.93" width="6.70" height="6.69" fill="#ff0000"/>
<rect x="346.00" y="393.93" width="6.70" height="6.69" fill="#ffcdbc"/>
<rect x="352.20" y="393.93" width="6.20" height="6.69" fill="#ffa489"/>
<rect x="48.40" y="400.12" width="6.70" height="6.69" fill="#dec7ff"/>
<rect x="54.60" y="400.12" width="6.70" height="6.69" fill="#d0b2ff"/>
<rect x="60.80" y="400.12" width="6.70" height="6.69" fill="#e2ceff"/>
<rect x="67.00" y="400.12" width="6.70" height="6.69" fill="#d9c0ff"/>
<rect x="73.20" y="400.12" width="6.70" height="6.69" fill="#dec7ff"/>
<rect x="79.40" y="400.12" width="6.70" height="6.69" fill="#dec7ff"/>
<rect x="85.60" y="400.12" width="6.70" height="6.69" fill="#e2ceff"/>
<rect x="91.80" y="400.12" width="6.70" height="6.69" fill="#e6d5ff"/>
<rect x="98.00" y="400.12" width="6.70" height="6.69" fill="#e2ceff"/>
<rect x="104.20" y="400.12" width="6.70" height="6.69" fill="#dec7ff"/>
<rect x="110.40" y="400.12" width="6.70" height="6.69" fill="#e6d5ff"/>
<rect x="116.60" y="400.12" width="6.70" height="6.69" fill="#d9c0ff"/>
<rect x="122.80" y="400.12" width="6.70" height="6.69" fill="#e2ceff"/>
<rect x="129.00" y="400.12" width="6.70" height="6.69" fill="#efe3ff"/>
<rect x="135.20" y="400.12" width="6.70" height="6.69" fill="#efe3ff"/>
<rect x="141.40" y="400.12" width="6.70" height="6.69" fill="#e6d5ff"/>
<rect x="147.60" y="400.12" width="6.70" height="6.69" fill="#efe3ff"/>
<rect x="153.80" y="400.12" width="6.70" height="6.69" fill="#efe3ff"/>
<rect x="160.00" y="400.12" width="6.70" height="6.69" fill="#f3eaff"/>
<rect x="166.20" y="400.12" width="6.70" height="6.69" fill="#efe3ff"/>
<rect x="172.40" y="400.12" width="6.70" height="6.69" fill="#ebdcff"/>
<rect x="178.60" y="400.12" width="6.70" height="6.69" fill="#e6d5ff"/>
<rect x="184.80" y="400.12" width="6.70" height="6.69" fill="#ebdcff"/>
<rect x="191.00" y="400.12" width="6.70" height="6.69" fill="#efe3ff"/>
<rect x="197.20" y="400.12" width="6.70" height="6.69" fill="#f7f1ff"/>
<rect x="203.40" y="400.12" width="6.70" height="6.69" fill="#ffffff"/>
<rect x="209.60" y="400.12" width="6.70" height="6.69" fill="#ffffff"/>
<rect x="215.80" y="400.12" width="6.70" height="6.69" fill="#cbabff"/>
<rect x="222.00" y="400.12" width="6.70" height="6.69" fill="#fbf8ff"/>
<rect x="228.20" y="400.12" width="6.70" height="6.69" fill="#fbf8ff"/>
<rect x="234.40" y="400.12" width="6.70" height="6.69" fill="#f7f1ff"/>
<rect x="240.60" y="400.12" width="6.70" height="6.69" fill="#ffffff"/>
<rect x="246.80" y="400.12" width="6.70" height="6.69" fill="#ffffff"/>
<rect x="253.00" y="400.12" width="6.70" height="6.69" fill="#ffebe4"/>
<rect x="259.20" y="400.12" width="6.70" height="6.69" fill="#ffcdbc"/>
<rect x="265.40" y="400.12" width="6.70" height="6.69" fill="#fff5f1"/>
<rect x="271.60" y="400.12" width="6.70" height="6.69" fill="#fff0eb"/>
<rect x="277.80" y="400.12" width="6.70" height="6.69" fill="#ffd7c9"/>
<rect x="284.00" y="400.12" width="6.70" height="6.69" fill="#ffe1d7"/>
<rect x="290.20" y="400.12" width="6.70" height="6.69" fill="#ffb49c"/>
<rect x="296.40" y="400.12" width="6.70" height="6.69" fill="#fff5f1"/>
<rect x="302.60" y="400.12" width="6.70" height="6.69" fill="#ffebe4"/>
<rect x="308.80" y="400.12" width="6.70" height="6.69" fill="#ffebe4"/>
<rect x="315.00" y="400.12" width="6.70" height="6.69" fill="#fff0eb"/>
<rect x="321.20" y="400.12" width="6.70" height="6.69" fill="#ffebe4"/>
<rect x="327.40" y="400.12" width="6.70" height="6.69" fill="#ffebe4"/>
<rect x="333.60" y="400.12" width="6.70" height="6.69" fill="#ffe6dd"/>
<rect x="339.80" y="400.12" width="6.70" height="6.69" fill="#ffcdbc"/>
<rect x="346.00" y="400.12" width="6.70" height="6.69" fill="#ff0000"/>
<rect x="352.20" y="400.12" width="6.20" height="6.69" fill="#ffe1d7"/>
<rect x="48.40" y="406.31" width="6.70" height="6.19" fill="#d9c0ff"/>
<rect x="54.60" y="406.31" width="6.70" height="6.19" fill="#d0b2ff"/>
<rect x="60.80" y="406.31" width="6.70" height="6.19" fill="#dec7ff"/>
<rect x="67.00" y="406.31" width="6.70" height="6.19" fill="#d0b2ff"/>
<rect x="73.20" y="406.31" width="6.70" height="6.19" fill="#d4b9ff"/>
<rect x="79.40" y="406.31" width="6.70" height="6.19" fill="#d0b2ff"/>
<rect x="85.60" y="406.31" width="6.70" height="6.19" fill="#d9c0ff"/>
<rect x="91.80" y="406.31" width="6.70" height="6.19" fill="#d0b2ff"/>
<rect x="98.00" y="406.31" width="6.70" height="6.19" fill="#d9c0ff"/>
<rect x="104.20" y="406.31" width="6.70" height="6.19" fill="#d9c0ff"/>
<rect x="110.40" y="406.31" width="6.70" height="6.19" fill="#ebdcff"/>
<rect x="116.60" y="406.31" width="6.70" height="6.19" fill="#e2ceff"/>
<rect x="122.80" y="406.31" width="6.70" height="6.19" fill="#dec7ff"/>
<rect x="129.00" y="406.31" width="6.70" height="6.19" fill="#ebdcff"/>
<rect x="135.20" y="406.31" width="6.70" height="6.19" fill="#efe3ff"/>
<rect x="141.40" y="406.31" width="6.70" height="6.19" fill="#efe3ff"/>
<rect x="147.60" y="406.31" width="6.70" height="6.19" fill="#efe3ff"/>
<rect x="153.80" y="406.31" width="6.70" height="6.19" fill="#efe3ff"/>
<rect x="160.00" y="406.31" width="6.70" height="6.19" fill="#efe3ff"/>
<rect x="166.20" y="406.31" width="6.70" height="6.19" fill="#ebdcff"/>
<rect x="172.40" y="406.31" width="6.70" height="6.19" fill="#d9c0ff"/>
<rect x="178.60" y="406.31" width="6.70" height="6.19" fill="#e2ceff"/>
<rect x="184.80" y="406.31" width="6.70" height="6.19" fill="#e2ceff"/>
<rect x="191.00" y="406.31" width="6.70" height="6.19" fill="#e2ceff"/>
<rect x="197.20" y="406.31" width="6.70" height="6.19" fill="#f7f1ff"/>
<rect x="203.40" y="406.31" width="6.70" height="6.19" fill="#efe3ff"/>
<rect x="209.60" y="406.31" width="6.70" height="6.19" fill="#efe3ff"/>
<rect x="215.80" y="406.31" width="6.70" height="6.19" fill="#e6d5ff"/>
<rect x="222.00" y="406.31" width="6.70" height="6.19" fill="#f7f1ff"/>
<rect x="228.20" y="406.31" width="6.70" height="6.19" fill="#f3eaff"/>
<rect x="234.40" y="406.31" width="6.70" height="6.19" fill="#f7f1ff"/>
<rect x="240.60" y="406.31" width="6.70" height="6.19" fill="#fbf8ff"/>
<rect x="246.80" y="406.31" width="6.70" height="6.19" fill="#fffaf8"/>
<rect x="253.00" y="406.31" width="6.70" height="6.19" fill="#ffe6dd"/>
<rect x="259.20" y="406.31" width="6.70" height="6.19" fill="#ffcdbc"/>
<rect x="265.40" y="406.31" width="6.70" height="6.19" fill="#fffaf8"/>
<rect x="271.60" y="406.31" width="6.70" height="6.19" fill="#ffcdbc"/>
<rect x="277.80" y="406.31" width="6.70" height="6.19" fill="#ffd2c3"/>
<rect x="284.00" y="406.31" width="6.70" height="6.19" fill="#f7f1ff"/>
<rect x="290.20" y="406.31" width="6.70" height="6.19" fill="#fff5f1"/>
<rect x="296.40" y="406.31" width="6.70" height="6.19" fill="#fff0eb"/>
<rect x="302.60" y="406.31" width="6.70" height="6.19" fill="#fff5f1"/>
<rect x="308.80" y="406.31" width="6.70" height="6.19" fill="#ffebe4"/>
<rect x="315.00" y="406.31" width="6.70" height="6.19" fill="#ffcdbc"/>
<rect x="321.20" y="406.31" width="6.70" height="6.19" fill="#ffd7c9"/>
<rect x="327.40" y="406.31" width="6.70" height="6.19" fill="#ffb9a2"/>
<rect x="333.60" y="406.31" width="6.70" height="6.19" fill="#ffaf96"/>
<rect x="339.80" y="406.31" width="6.70" height="6.19" fill="#ffa489"/>
<rect x="346.00" y="406.31" width="6.70" height="6.19" fill="#ffe1d7"/>
<rect x="352.20" y="406.31" width="6.20" height="6.19" fill="#ff0000"/>
</g>
<rect x="48.40" y="103.00" width="186.00" height="185.70" fill="none" stroke="#9ACD32" stroke-width="1.5"/>
<rect x="234.40" y="288.70" width="124.00" height="123.80" fill="none" stroke="#00E5EE" stroke-width="1.5"/>
<g shape-rendering="crispEdges">
<rect x="361.2" y="103.00" width="12.9" height="6.24" fill="#3300FF"/>
<rect x="361.2" y="109.19" width="12.9" height="6.24" fill="#3300FF"/>
<rect x="361.2" y="115.38" width="12.9" height="6.24" fill="#3300FF"/>
<rect x="361.2" y="121.57" width="12.9" height="6.24" fill="#3300FF"/>
<rect x="361.2" y="127.76" width="12.9" height="6.24" fill="#3300FF"/>
<rect x="361.2" y="133.95" width="12.9" height="6.24" fill="#3300FF"/>
<rect x="361.2" y="140.14" width="12.9" height="6.24" fill="#3300FF"/>
<rect x="361.2" y="146.33" width="12.9" height="6.24" fill="#FF9900"/>
<rect x="361.2" y="152.52" width="12.9" height="6.24" fill="#3300FF"/>
<rect x="361.2" y="158.71" width="12.9" height="6.24" fill="#CCFF00"/>
<rect x="361.2" y="164.90" width="12.9" height="6.24" fill="#CCFF00"/>
<rect x="361.2" y="171.09" width="12.9" height="6.24" fill="#CCFF00"/>
<rect x="361.2" y="177.28" width="12.9" height="6.24" fill="#CCFF00"/>
<rect x="361.2" y="183.47" width="12.9" height="6.24" fill="#CCFF00"/>
<rect x="361.2" y="189.66" width="12.9" height="6.24" fill="#3300FF"/>
<rect x="361.2" y="195.85" width="12.9" height="6.24" fill="#CCFF00"/>
<rect x="361.2" y="202.04" width="12.9" height="6.24" fill="#3300FF"/>
<rect x="361.2" y="208.23" width="12.9" height="6.24" fill="#FF9900"/>
<rect x="361.2" y="214.42" width="12.9" height="6.24" fill="#FF9900"/>
<rect x="361.2" y="220.61" width="12.9" height="6.24" fill="#FF9900"/>
<rect x="361.2" y="226.80" width="12.9" height="6.24" fill="#FF9900"/>
<rect x="361.2" y="232.99" width="12.9" height="6.24" fill="#FF9900"/>
<rect x="361.2" y="239.18" width="12.9" height="6.24" fill="#3300FF"/>
<rect x="361.2" y="245.37" width="12.9" height="6.24" fill="#FF9900"/>
<rect x="361.2" y="251.56" width="12.9" height="6.24" fill="#FF9900"/>
<rect x="361.2" y="257.75" width="12.9" height="6.24" fill="#0066FF"/>
<rect x="361.2" y="263.94" width="12.9" height="6.24" fill="#0066FF"/>
<rect x="361.2" y="270.13" width="12.9" height="6.24" fill="#FF0000"/>
<rect x="361.2" y="276.32" width="12.9" height="6.24" fill="#CC00FF"/>
<rect x="361.2" y="282.51" width="12.9" height="6.24" fill="#FF0099"/>
<rect x="361.2" y="288.70" width="12.9" height="6.24" fill="#3300FF"/>
<rect x="361.2" y="294.89" width="12.9" height="6.24" fill="#3300FF"/>
<rect x="361.2" y="301.08" width="12.9" height="6.24" fill="#00FF66"/>
<rect x="361.2" y="307.27" width="12.9" height="6.24" fill="#33FF00"/>
<rect x="361.2" y="313.46" width="12.9" height="6.24" fill="#33FF00"/>
<rect x="361.2" y="319.65" width="12.9" height="6.24" fill="#33FF00"/>
<rect x="361.2" y="325.84" width="12.9" height="6.24" fill="#00FF66"/>
<rect x="361.2" y="332.03" width="12.9" height="6.24" fill="#33FF00"/>
<rect x="361.2" y="338.22" width="12.9" height="6.24" fill="#00FFFF"/>
<rect x="361.2" y="344.41" width="12.9" height="6.24" fill="#00FFFF"/>
<rect x="361.2" y="350.60" width="12.9" height="6.24" fill="#0066FF"/>
<rect x="361.2" y="356.79" width="12.9" height="6.24" fill="#0066FF"/>
<rect x="361.2" y="362.98" width="12.9" height="6.24" fill="#00FF66"/>
<rect x="361.2" y="369.17" width="12.9" height="6.24" fill="#00FF66"/>
<rect x="361.2" y="375.36" width="12.9" height="6.24" fill="#00FF66"/>
<rect x="361.2" y="381.55" width="12.9" height="6.24" fill="#00FF66"/>
<rect x="361.2" y="387.74" width="12.9" height="6.24" fill="#00FF66"/>
<rect x="361.2" y="393.93" width="12.9" height="6.24" fill="#00FF66"/>
<rect x="361.2" y="400.12" width="12.9" height="6.24" fill="#00FFFF"/>
<rect x="361.2" y="406.31" width="12.9" height="6.24" fill="#00FF66"/>
</g>
<g font-size="7.15" fill="#000">
<text x="377" y="108.69">Ruminococcaceae sp.</text>
<text x="377" y="114.88">Ruminococcaceae UCG−002</text>
<text x="377" y="121.07">Thalassospira</text>
<text x="377" y="127.27">Pseudobutyrivibrio ruminis</text>
<text x="377" y="133.45">Eubacterium coprostanoligenes</text>
<text x="377" y="139.65">Eubacterium rectale</text>
<text x="377" y="145.84">Roseburia inulinivorans</text>
<text x="377" y="152.03">Erysipelotrichaceae sp.</text>
<text x="377" y="158.22">Holdemanella biformis</text>
<text x="377" y="164.41">Phascolarctobacterium succinatutens</text>
<text x="377" y="170.59">Prevotella ruminicola</text>
<text x="377" y="176.78">Paraprevotella xylaniphila</text>
<text x="377" y="182.97">Prevotella stercorea *</text>
<text x="377" y="189.16">Catenibacterium mitsuokai</text>
<text x="377" y="195.35">Sutterella sp.</text>
<text x="377" y="201.54">Succinivibrio dextrinosolvens</text>
<text x="377" y="207.73">Pasteurella multocida</text>
<text x="377" y="213.92">Dorea sp.</text>
<text x="377" y="220.11">Blautia sp.</text>
<text x="377" y="226.31">Lachnoclostridium sp.</text>
<text x="377" y="232.50">Ruminococcus torques</text>
<text x="377" y="238.69">Anaerostipes sp.</text>
<text x="377" y="244.88">Roseburia faecis</text>
<text x="377" y="251.06">Faecalibacterium prausnitzii *</text>
<text x="377" y="257.25">Ruminococcus gnavus</text>
<text x="377" y="263.45">Haemophilus parainfluenzae</text>
<text x="377" y="269.63">Clostridium celatum</text>
<text x="377" y="275.83">Prevotella copri *</text>
<text x="377" y="282.02">Prevotella nanceiensis</text>
<text x="377" y="288.21">Ureaplasma canigenitalium</text>
<text x="377" y="294.40">Parabacteroides distasonis</text>
<text x="377" y="300.59">Parabacteroides merdae</text>
<text x="377" y="306.78">Allisonella histaminiformans</text>
<text x="377" y="312.97">Lachnospiraceae sp.</text>
<text x="377" y="319.16">Bacteroides  *</text>
<text x="377" y="325.35">Fusobacterium mortiferum</text>
<text x="377" y="331.54">Megamonas funiformis</text>
<text x="377" y="337.73">Sutterella wadsworthensis</text>
<text x="377" y="343.92">Streptococcus equinus</text>
<text x="377" y="350.11">Klebsiella pneumoniae</text>
<text x="377" y="356.30">Veillonella dispar</text>
<text x="377" y="362.49">Streptococcus salivarius</text>
<text x="377" y="368.68">Megasphaera micronuciformis</text>
<text x="377" y="374.87">Collinsella aerofaciens</text>
<text x="377" y="381.06">Lactobacillus ruminis</text>
<text x="377" y="387.25">Olsenella sp.</text>
<text x="377" y="393.44">Megasphaera elsdenii</text>
<text x="377" y="399.63">Bifidobacterium  *</text>
<text x="377" y="405.82">Escherichia coli *</text>
<text x="377" y="412.01">Veillonella ratti</text>
</g>
<g font-size="7.15" fill="#000" text-anchor="end">
<text transform="translate(54.10,415.00) rotate(-90)">Ruminococcaceae sp.</text>
<text transform="translate(60.30,415.00) rotate(-90)">Ruminococcaceae UCG−002</text>
<text transform="translate(66.50,415.00) rotate(-90)">Thalassospira</text>
<text transform="translate(72.70,415.00) rotate(-90)">Pseudobutyrivibrio ruminis</text>
<text transform="translate(78.90,415.00) rotate(-90)">Eubacterium coprostanoligenes</text>
<text transform="translate(85.10,415.00) rotate(-90)">Eubacterium rectale</text>
<text transform="translate(91.30,415.00) rotate(-90)">Roseburia inulinivorans</text>
<text transform="translate(97.50,415.00) rotate(-90)">Erysipelotrichaceae sp.</text>
<text transform="translate(103.70,415.00) rotate(-90)">Holdemanella biformis</text>
<text transform="translate(109.90,415.00) rotate(-90)">Phascolarctobacterium succinatutens</text>
<text transform="translate(116.10,415.00) rotate(-90)">Prevotella ruminicola</text>
<text transform="translate(122.30,415.00) rotate(-90)">Paraprevotella xylaniphila</text>
<text transform="translate(128.50,415.00) rotate(-90)">Prevotella stercorea *</text>
<text transform="translate(134.70,415.00) rotate(-90)">Catenibacterium mitsuokai</text>
<text transform="translate(140.90,415.00) rotate(-90)">Sutterella sp.</text>
<text transform="translate(147.10,415.00) rotate(-90)">Succinivibrio dextrinosolvens</text>
<text transform="translate(153.30,415.00) rotate(-90)">Pasteurella multocida</text>
<text transform="translate(159.50,415.00) rotate(-90)">Dorea sp.</text>
<text transform="translate(165.70,415.00) rotate(-90)">Blautia sp.</text>
<text transform="translate(171.90,415.00) rotate(-90)">Lachnoclostridium sp.</text>
<text transform="translate(178.10,415.00) rotate(-90)">Ruminococcus torques</text>
<text transform="translate(184.30,415.00) rotate(-90)">Anaerostipes sp.</text>
<text transform="translate(190.50,415.00) rotate(-90)">Roseburia faecis</text>
<text transform="translate(196.70,415.00) rotate(-90)">Faecalibacterium prausnitzii *</text>
<text transform="translate(202.90,415.00) rotate(-90)">Ruminococcus gnavus</text>
<text transform="translate(209.10,415.00) rotate(-90)">Haemophilus parainfluenzae</text>
<text transform="translate(215.30,415.00) rotate(-90)">Clostridium celatum</text>
<text transform="translate(221.50,415.00) rotate(-90)">Prevotella copri *</text>
<text transform="translate(227.70,415.00) rotate(-90)">Prevotella nanceiensis</text>
<text transform="translate(233.90,415.00) rotate(-90)">Ureaplasma canigenitalium</text>
<text transform="translate(240.10,415.00) rotate(-90)">Parabacteroides distasonis</text>
<text transform="translate(246.30,415.00) rotate(-90)">Parabacteroides merdae</text>
<text transform="translate(252.50,415.00) rotate(-90)">Allisonella histaminiformans</text>
<text transform="translate(258.70,415.00) rotate(-90)">Lachnospiraceae sp.</text>
<text transform="translate(264.90,415.00) rotate(-90)">Bacteroides  *</text>
<text transform="translate(271.10,415.00) rotate(-90)">Fusobacterium mortiferum</text>
<text transform="translate(277.30,415.00) rotate(-90)">Megamonas funiformis</text>
<text transform="translate(283.50,415.00) rotate(-90)">Sutterella wadsworthensis</text>
<text transform="translate(289.70,415.00) rotate(-90)">Streptococcus equinus</text>
<text transform="translate(295.90,415.00) rotate(-90)">Klebsiella pneumoniae</text>
<text transform="translate(302.10,415.00) rotate(-90)">Veillonella dispar</text>
<text transform="translate(308.30,415.00) rotate(-90)">Streptococcus salivarius</text>
<text transform="translate(314.50,415.00) rotate(-90)">Megasphaera micronuciformis</text>
<text transform="translate(320.70,415.00) rotate(-90)">Collinsella aerofaciens</text>
<text transform="translate(326.90,415.00) rotate(-90)">Lactobacillus ruminis</text>
<text transform="translate(333.10,415.00) rotate(-90)">Olsenella sp.</text>
<text transform="translate(339.30,415.00) rotate(-90)">Megasphaera elsdenii</text>
<text transform="translate(345.50,415.00) rotate(-90)">Bifidobacterium  *</text>
<text transform="translate(351.70,415.00) rotate(-90)">Escherichia coli *</text>
<text transform="translate(357.90,415.00) rotate(-90)">Veillonella ratti</text>
</g>
<text transform="translate(371.2,416) rotate(-90)" font-size="8.65" text-anchor="end">Cluster</text>
<path d="M57.70 47.60L57.70 43.20M63.90 47.60L63.90 43.20M57.70 43.20L63.90 43.20M51.50 47.60L51.50 41.30M60.80 43.20L60.80 41.30M51.50 41.30L60.80 41.30M70.10 47.60L70.10 43.20M76.30 47.60L76.30 43.20M70.10 43.20L76.30 43.20M73.20 43.20L73.20 42.30M82.50 47.60L82.50 42.30M73.20 42.30L82.50 42.30M56.15 41.30L56.15 41.10M77.85 42.30L77.85 41.10M56.15 41.10L77.85 41.10M88.70 47.60L88.70 42.00M94.90 47.60L94.90 42.00M88.70 42.00L94.90 42.00M67.00 41.10L67.00 38.20M91.80 42.00L91.80 38.20M67.00 38.20L91.80 38.20M101.10 47.60L101.10 41.20M107.30 47.60L107.30 41.20M101.10 41.20L107.30 41.20M113.50 47.60L113.50 42.30M119.70 47.60L119.70 42.30M113.50 42.30L119.70 42.30M116.60 42.30L116.60 41.00M125.90 47.60L125.90 41.00M116.60 41.00L125.90 41.00M121.25 41.00L121.25 39.60M132.10 47.60L132.10 39.60M121.25 39.60L132.10 39.60M104.20 41.20L104.20 39.00M126.67 39.60L126.67 39.00M104.20 39.00L126.67 39.00M144.50 47.60L144.50 40.30M150.70 47.60L150.70 40.30M144.50 40.30L150.70 40.30M138.30 47.60L138.30 38.80M147.60 40.30L147.60 38.80M138.30 38.80L147.60 38.80M115.44 39.00L115.44 38.30M142.95 38.80L142.95 38.30M115.44 38.30L142.95 38.30M79.40 38.20L79.40 35.40M129.19 38.30L129.19 35.40M79.40 35.40L129.19 35.40M156.90 47.60L156.90 42.20M163.10 47.60L163.10 42.20M156.90 42.20L163.10 42.20M175.50 47.60L175.50 42.20M181.70 47.60L181.70 42.20M175.50 42.20L181.70 42.20M169.30 47.60L169.30 41.40M178.60 42.20L178.60 41.40M169.30 41.40L178.60 41.40M173.95 41.40L173.95 40.30M187.90 47.60L187.90 40.30M173.95 40.30L187.90 40.30M160.00 42.20L160.00 38.90M180.93 40.30L180.93 38.90M160.00 38.90L180.93 38.90M194.10 47.60L194.10 40.50M200.30 47.60L200.30 40.50M194.10 40.50L200.30 40.50M170.46 38.90L170.46 38.30M197.20 40.50L197.20 38.30M170.46 38.30L197.20 38.30M206.50 47.60L206.50 40.30M212.70 47.60L212.70 40.30M206.50 40.30L212.70 40.30M225.10 47.60L225.10 38.90M231.30 47.60L231.30 38.90M225.10 38.90L231.30 38.90M218.90 47.60L218.90 38.30M228.20 38.90L228.20 38.30M218.90 38.30L228.20 38.30M209.60 40.30L209.60 37.40M223.55 38.30L223.55 37.40M209.60 37.40L223.55 37.40M183.83 38.30L183.83 36.40M216.58 37.40L216.58 36.40M183.83 36.40L216.58 36.40M104.30 35.40L104.30 32.30M200.20 36.40L200.20 32.30M104.30 32.30L200.20 32.30M237.50 47.60L237.50 41.50M243.70 47.60L243.70 41.50M237.50 41.50L243.70 41.50M240.60 41.50L240.60 37.10M249.90 47.60L249.90 37.10M240.60 37.10L249.90 37.10M256.10 47.60L256.10 39.00M262.30 47.60L262.30 39.00M256.10 39.00L262.30 39.00M274.70 47.60L274.70 39.90M280.90 47.60L280.90 39.90M274.70 39.90L280.90 39.90M268.50 47.60L268.50 39.20M277.80 39.90L277.80 39.20M268.50 39.20L277.80 39.20M259.20 39.00L259.20 37.90M273.15 39.20L273.15 37.90M259.20 37.90L273.15 37.90M287.10 47.60L287.10 40.40M293.30 47.60L293.30 40.40M287.10 40.40L293.30 40.40M299.50 47.60L299.50 42.00M305.70 47.60L305.70 42.00M299.50 42.00L305.70 42.00M302.60 42.00L302.60 39.20M311.90 47.60L311.90 39.20M302.60 39.20L311.90 39.20M290.20 40.40L290.20 38.30M307.25 39.20L307.25 38.30M290.20 38.30L307.25 38.30M266.18 37.90L266.18 35.90M298.73 38.30L298.73 35.90M266.18 35.90L298.73 35.90M245.25 37.10L245.25 34.30M282.45 35.90L282.45 34.30M245.25 34.30L282.45 34.30M318.10 47.60L318.10 41.40M324.30 47.60L324.30 41.40M318.10 41.40L324.30 41.40M330.50 47.60L330.50 42.50M336.70 47.60L336.70 42.50M330.50 42.50L336.70 42.50M321.20 41.40L321.20 40.20M333.60 42.50L333.60 40.20M321.20 40.20L333.60 40.20M327.40 40.20L327.40 39.40M342.90 47.60L342.90 39.40M327.40 39.40L342.90 39.40M349.10 47.60L349.10 40.20M355.30 47.60L355.30 40.20M349.10 40.20L355.30 40.20M335.15 39.40L335.15 36.70M352.20 40.20L352.20 36.70M335.15 36.70L352.20 36.70M263.85 34.30L263.85 29.30M343.67 36.70L343.67 29.30M263.85 29.30L343.67 29.30M152.25 32.30L152.25 21.20M303.76 29.30L303.76 21.20M152.25 21.20L303.76 21.20" stroke="#111" stroke-width="0.9" fill="none"/>
<path d="M48.00 112.29L43.50 112.29M48.00 118.47L43.50 118.47M43.50 112.29L43.50 118.47M48.00 106.09L41.60 106.09M43.50 115.38L41.60 115.38M41.60 106.09L41.60 115.38M48.00 124.66L43.50 124.66M48.00 130.85L43.50 130.85M43.50 124.66L43.50 130.85M43.50 127.76L42.60 127.76M48.00 137.05L42.60 137.05M42.60 127.76L42.60 137.05M41.60 110.74L41.40 110.74M42.60 132.40L41.40 132.40M41.40 110.74L41.40 132.40M48.00 143.24L42.30 143.24M48.00 149.43L42.30 149.43M42.30 143.24L42.30 149.43M41.40 121.57L38.50 121.57M42.30 146.33L38.50 146.33M38.50 121.57L38.50 146.33M48.00 155.62L41.50 155.62M48.00 161.81L41.50 161.81M41.50 155.62L41.50 161.81M48.00 168.00L42.60 168.00M48.00 174.19L42.60 174.19M42.60 168.00L42.60 174.19M42.60 171.09L41.30 171.09M48.00 180.38L41.30 180.38M41.30 171.09L41.30 180.38M41.30 175.73L39.90 175.73M48.00 186.56L39.90 186.56M39.90 175.73L39.90 186.56M41.50 158.71L39.30 158.71M39.90 181.15L39.30 181.15M39.30 158.71L39.30 181.15M48.00 198.94L40.60 198.94M48.00 205.13L40.60 205.13M40.60 198.94L40.60 205.13M48.00 192.75L39.10 192.75M40.60 202.04L39.10 202.04M39.10 192.75L39.10 202.04M39.30 169.93L38.60 169.93M39.10 197.40L38.60 197.40M38.60 169.93L38.60 197.40M38.50 133.95L35.70 133.95M38.60 183.66L35.70 183.66M35.70 133.95L35.70 183.66M48.00 211.32L42.50 211.32M48.00 217.51L42.50 217.51M42.50 211.32L42.50 217.51M48.00 229.90L42.50 229.90M48.00 236.09L42.50 236.09M42.50 229.90L42.50 236.09M48.00 223.71L41.70 223.71M42.50 232.99L41.70 232.99M41.70 223.71L41.70 232.99M41.70 228.35L40.60 228.35M48.00 242.28L40.60 242.28M40.60 228.35L40.60 242.28M42.50 214.42L39.20 214.42M40.60 235.31L39.20 235.31M39.20 214.42L39.20 235.31M48.00 248.47L40.80 248.47M48.00 254.66L40.80 254.66M40.80 248.47L40.80 254.66M39.20 224.87L38.60 224.87M40.80 251.56L38.60 251.56M38.60 224.87L38.60 251.56M48.00 260.85L40.60 260.85M48.00 267.03L40.60 267.03M40.60 260.85L40.60 267.03M48.00 279.42L39.20 279.42M48.00 285.61L39.20 285.61M39.20 279.42L39.20 285.61M48.00 273.23L38.60 273.23M39.20 282.51L38.60 282.51M38.60 273.23L38.60 282.51M40.60 263.94L37.70 263.94M38.60 277.87L37.70 277.87M37.70 263.94L37.70 277.87M38.60 238.21L36.70 238.21M37.70 270.90L36.70 270.90M36.70 238.21L36.70 270.90M35.70 158.81L32.60 158.81M36.70 254.56L32.60 254.56M32.60 158.81L32.60 254.56M48.00 291.79L41.80 291.79M48.00 297.99L41.80 297.99M41.80 291.79L41.80 297.99M41.80 294.89L37.40 294.89M48.00 304.18L37.40 304.18M37.40 294.89L37.40 304.18M48.00 310.37L39.30 310.37M48.00 316.56L39.30 316.56M39.30 310.37L39.30 316.56M48.00 328.93L40.20 328.93M48.00 335.12L40.20 335.12M40.20 328.93L40.20 335.12M48.00 322.75L39.50 322.75M40.20 332.03L39.50 332.03M39.50 322.75L39.50 332.03M39.30 313.46L38.20 313.46M39.50 327.39L38.20 327.39M38.20 313.46L38.20 327.39M48.00 341.32L40.70 341.32M48.00 347.50L40.70 347.50M40.70 341.32L40.70 347.50M48.00 353.70L42.30 353.70M48.00 359.88L42.30 359.88M42.30 353.70L42.30 359.88M42.30 356.79L39.50 356.79M48.00 366.07L39.50 366.07M39.50 356.79L39.50 366.07M40.70 344.41L38.60 344.41M39.50 361.43L38.60 361.43M38.60 344.41L38.60 361.43M38.20 320.42L36.20 320.42M38.60 352.92L36.20 352.92M36.20 320.42L36.20 352.92M37.40 299.53L34.60 299.53M36.20 336.67L34.60 336.67M34.60 299.53L34.60 336.67M48.00 372.27L41.70 372.27M48.00 378.46L41.70 378.46M41.70 372.27L41.70 378.46M48.00 384.65L42.80 384.65M48.00 390.84L42.80 390.84M42.80 384.65L42.80 390.84M41.70 375.36L40.50 375.36M42.80 387.74L40.50 387.74M40.50 375.36L40.50 387.74M40.50 381.55L39.70 381.55M48.00 397.03L39.70 397.03M39.70 381.55L39.70 397.03M48.00 403.22L40.50 403.22M48.00 409.41L40.50 409.41M40.50 403.22L40.50 409.41M39.70 389.29L37.00 389.29M40.50 406.31L37.00 406.31M37.00 389.29L37.00 406.31M34.60 318.10L29.60 318.10M37.00 397.80L29.60 397.80M29.60 318.10L29.60 397.80M32.60 206.68L21.50 206.68M29.60 357.95L21.50 357.95M21.50 206.68L21.50 357.95" stroke="#111" stroke-width="0.9" fill="none"/>
<rect x="48.3" y="48.30" width="310.2" height="25.90" fill="#fff" stroke="#000" stroke-width="1"/><rect x="49.90" y="53.19" width="3.4" height="21.01" fill="#3300FF" stroke="#000" stroke-width="0.6"/><rect x="56.10" y="53.81" width="3.4" height="20.39" fill="#3300FF" stroke="#000" stroke-width="0.6"/><rect x="62.30" y="51.54" width="3.4" height="22.66" fill="#3300FF" stroke="#000" stroke-width="0.6"/><rect x="68.50" y="54.01" width="3.4" height="20.19" fill="#3300FF" stroke="#000" stroke-width="0.6"/><rect x="74.70" y="55.66" width="3.4" height="18.54" fill="#3300FF" stroke="#000" stroke-width="0.6"/><rect x="80.90" y="55.25" width="3.4" height="18.95" fill="#3300FF" stroke="#000" stroke-width="0.6"/><rect x="87.10" y="55.66" width="3.4" height="18.54" fill="#3300FF" stroke="#000" stroke-width="0.6"/><rect x="93.30" y="56.07" width="3.4" height="18.13" fill="#FF9900" stroke="#000" stroke-width="0.6"/><rect x="99.50" y="56.07" width="3.4" height="18.13" fill="#3300FF" stroke="#000" stroke-width="0.6"/><rect x="105.70" y="54.01" width="3.4" height="20.19" fill="#CCFF00" stroke="#000" stroke-width="0.6"/><rect x="111.90" y="54.84" width="3.4" height="19.36" fill="#CCFF00" stroke="#000" stroke-width="0.6"/><rect x="118.10" y="54.42" width="3.4" height="19.78" fill="#CCFF00" stroke="#000" stroke-width="0.6"/><rect x="124.30" y="54.84" width="3.4" height="19.36" fill="#CCFF00" stroke="#000" stroke-width="0.6"/><rect x="130.50" y="52.78" width="3.4" height="21.42" fill="#CCFF00" stroke="#000" stroke-width="0.6"/><rect x="136.70" y="54.42" width="3.4" height="19.78" fill="#3300FF" stroke="#000" stroke-width="0.6"/><rect x="142.90" y="54.42" width="3.4" height="19.78" fill="#CCFF00" stroke="#000" stroke-width="0.6"/><rect x="149.10" y="54.84" width="3.4" height="19.36" fill="#3300FF" stroke="#000" stroke-width="0.6"/><rect x="155.30" y="54.84" width="3.4" height="19.36" fill="#FF9900" stroke="#000" stroke-width="0.6"/><rect x="161.50" y="52.78" width="3.4" height="21.42" fill="#FF9900" stroke="#000" stroke-width="0.6"/><rect x="167.70" y="54.84" width="3.4" height="19.36" fill="#FF9900" stroke="#000" stroke-width="0.6"/><rect x="173.90" y="54.42" width="3.4" height="19.78" fill="#FF9900" stroke="#000" stroke-width="0.6"/><rect x="180.10" y="53.60" width="3.4" height="20.60" fill="#FF9900" stroke="#000" stroke-width="0.6"/><rect x="186.30" y="51.13" width="3.4" height="23.07" fill="#3300FF" stroke="#000" stroke-width="0.6"/><rect x="192.50" y="53.60" width="3.4" height="20.60" fill="#FF9900" stroke="#000" stroke-width="0.6"/><rect x="198.70" y="54.42" width="3.4" height="19.78" fill="#FF9900" stroke="#000" stroke-width="0.6"/><rect x="204.90" y="54.42" width="3.4" height="19.78" fill="#0066FF" stroke="#000" stroke-width="0.6"/><rect x="211.10" y="52.78" width="3.4" height="21.42" fill="#0066FF" stroke="#000" stroke-width="0.6"/><rect x="217.30" y="53.60" width="3.4" height="20.60" fill="#FF0000" stroke="#000" stroke-width="0.6"/><rect x="223.50" y="56.48" width="3.4" height="17.72" fill="#CC00FF" stroke="#000" stroke-width="0.6"/><rect x="229.70" y="52.78" width="3.4" height="21.42" fill="#FF0099" stroke="#000" stroke-width="0.6"/><rect x="235.90" y="52.36" width="3.4" height="21.84" fill="#3300FF" stroke="#000" stroke-width="0.6"/><rect x="242.10" y="49.89" width="3.4" height="24.31" fill="#3300FF" stroke="#000" stroke-width="0.6"/><rect x="248.30" y="52.78" width="3.4" height="21.42" fill="#00FF66" stroke="#000" stroke-width="0.6"/><rect x="254.50" y="53.60" width="3.4" height="20.60" fill="#33FF00" stroke="#000" stroke-width="0.6"/><rect x="260.70" y="52.78" width="3.4" height="21.42" fill="#33FF00" stroke="#000" stroke-width="0.6"/><rect x="266.90" y="49.89" width="3.4" height="24.31" fill="#33FF00" stroke="#000" stroke-width="0.6"/><rect x="273.10" y="55.66" width="3.4" height="18.54" fill="#00FF66" stroke="#000" stroke-width="0.6"/><rect x="279.30" y="52.78" width="3.4" height="21.42" fill="#33FF00" stroke="#000" stroke-width="0.6"/><rect x="285.50" y="49.89" width="3.4" height="24.31" fill="#00FFFF" stroke="#000" stroke-width="0.6"/><rect x="291.70" y="54.84" width="3.4" height="19.36" fill="#00FFFF" stroke="#000" stroke-width="0.6"/><rect x="297.90" y="53.60" width="3.4" height="20.60" fill="#0066FF" stroke="#000" stroke-width="0.6"/><rect x="304.10" y="53.60" width="3.4" height="20.60" fill="#0066FF" stroke="#000" stroke-width="0.6"/><rect x="310.30" y="55.25" width="3.4" height="18.95" fill="#00FF66" stroke="#000" stroke-width="0.6"/><rect x="316.50" y="53.19" width="3.4" height="21.01" fill="#00FF66" stroke="#000" stroke-width="0.6"/><rect x="322.70" y="49.89" width="3.4" height="24.31" fill="#00FF66" stroke="#000" stroke-width="0.6"/><rect x="328.90" y="54.42" width="3.4" height="19.78" fill="#00FF66" stroke="#000" stroke-width="0.6"/><rect x="335.10" y="53.60" width="3.4" height="20.60" fill="#00FF66" stroke="#000" stroke-width="0.6"/><rect x="341.30" y="51.54" width="3.4" height="22.66" fill="#00FF66" stroke="#000" stroke-width="0.6"/><rect x="347.50" y="50.30" width="3.4" height="23.90" fill="#00FFFF" stroke="#000" stroke-width="0.6"/><rect x="353.70" y="54.01" width="3.4" height="20.19" fill="#00FF66" stroke="#000" stroke-width="0.6"/><path d="M44.8 49.48H48.3" stroke="#000" stroke-width="0.7"/><text x="43.4" y="52.18" font-size="7.6" text-anchor="end">0.6</text><path d="M44.8 57.72H48.3" stroke="#000" stroke-width="0.7"/><text x="43.4" y="60.42" font-size="7.6" text-anchor="end">0.4</text><path d="M44.8 65.96H48.3" stroke="#000" stroke-width="0.7"/><text x="43.4" y="68.66" font-size="7.6" text-anchor="end">0.2</text><path d="M44.8 74.20H48.3" stroke="#000" stroke-width="0.7"/><text x="43.4" y="76.90" font-size="7.6" text-anchor="end">0</text>
<rect x="48.3" y="74.20" width="310.2" height="26.10" fill="#fff" stroke="#000" stroke-width="1"/><rect x="49.90" y="80.42" width="3.4" height="19.88" fill="#3300FF" stroke="#000" stroke-width="0.6"/><rect x="56.10" y="79.63" width="3.4" height="20.67" fill="#3300FF" stroke="#000" stroke-width="0.6"/><rect x="62.30" y="82.02" width="3.4" height="18.28" fill="#3300FF" stroke="#000" stroke-width="0.6"/><rect x="68.50" y="79.23" width="3.4" height="21.07" fill="#3300FF" stroke="#000" stroke-width="0.6"/><rect x="74.70" y="78.04" width="3.4" height="22.26" fill="#3300FF" stroke="#000" stroke-width="0.6"/><rect x="80.90" y="78.44" width="3.4" height="21.86" fill="#3300FF" stroke="#000" stroke-width="0.6"/><rect x="87.10" y="78.04" width="3.4" height="22.26" fill="#3300FF" stroke="#000" stroke-width="0.6"/><rect x="93.30" y="77.64" width="3.4" height="22.66" fill="#FF9900" stroke="#000" stroke-width="0.6"/><rect x="99.50" y="77.64" width="3.4" height="22.66" fill="#3300FF" stroke="#000" stroke-width="0.6"/><rect x="105.70" y="80.03" width="3.4" height="20.27" fill="#CCFF00" stroke="#000" stroke-width="0.6"/><rect x="111.90" y="78.83" width="3.4" height="21.47" fill="#CCFF00" stroke="#000" stroke-width="0.6"/><rect x="118.10" y="79.63" width="3.4" height="20.67" fill="#CCFF00" stroke="#000" stroke-width="0.6"/><rect x="124.30" y="78.44" width="3.4" height="21.86" fill="#CCFF00" stroke="#000" stroke-width="0.6"/><rect x="130.50" y="81.22" width="3.4" height="19.08" fill="#CCFF00" stroke="#000" stroke-width="0.6"/><rect x="136.70" y="79.23" width="3.4" height="21.07" fill="#3300FF" stroke="#000" stroke-width="0.6"/><rect x="142.90" y="79.23" width="3.4" height="21.07" fill="#CCFF00" stroke="#000" stroke-width="0.6"/><rect x="149.10" y="78.83" width="3.4" height="21.47" fill="#3300FF" stroke="#000" stroke-width="0.6"/><rect x="155.30" y="78.83" width="3.4" height="21.47" fill="#FF9900" stroke="#000" stroke-width="0.6"/><rect x="161.50" y="81.22" width="3.4" height="19.08" fill="#FF9900" stroke="#000" stroke-width="0.6"/><rect x="167.70" y="78.83" width="3.4" height="21.47" fill="#FF9900" stroke="#000" stroke-width="0.6"/><rect x="173.90" y="79.23" width="3.4" height="21.07" fill="#FF9900" stroke="#000" stroke-width="0.6"/><rect x="180.10" y="80.42" width="3.4" height="19.88" fill="#FF9900" stroke="#000" stroke-width="0.6"/><rect x="186.30" y="82.81" width="3.4" height="17.49" fill="#3300FF" stroke="#000" stroke-width="0.6"/><rect x="192.50" y="79.63" width="3.4" height="20.67" fill="#FF9900" stroke="#000" stroke-width="0.6"/><rect x="198.70" y="79.23" width="3.4" height="21.07" fill="#FF9900" stroke="#000" stroke-width="0.6"/><rect x="204.90" y="79.23" width="3.4" height="21.07" fill="#0066FF" stroke="#000" stroke-width="0.6"/><rect x="211.10" y="80.82" width="3.4" height="19.48" fill="#0066FF" stroke="#000" stroke-width="0.6"/><rect x="217.30" y="79.63" width="3.4" height="20.67" fill="#FF0000" stroke="#000" stroke-width="0.6"/><rect x="223.50" y="77.25" width="3.4" height="23.05" fill="#CC00FF" stroke="#000" stroke-width="0.6"/><rect x="229.70" y="81.22" width="3.4" height="19.08" fill="#FF0099" stroke="#000" stroke-width="0.6"/><rect x="235.90" y="81.22" width="3.4" height="19.08" fill="#3300FF" stroke="#000" stroke-width="0.6"/><rect x="242.10" y="84.80" width="3.4" height="15.50" fill="#3300FF" stroke="#000" stroke-width="0.6"/><rect x="248.30" y="81.62" width="3.4" height="18.68" fill="#00FF66" stroke="#000" stroke-width="0.6"/><rect x="254.50" y="80.42" width="3.4" height="19.88" fill="#33FF00" stroke="#000" stroke-width="0.6"/><rect x="260.70" y="81.62" width="3.4" height="18.68" fill="#33FF00" stroke="#000" stroke-width="0.6"/><rect x="266.90" y="88.38" width="3.4" height="11.92" fill="#33FF00" stroke="#000" stroke-width="0.6"/><rect x="273.10" y="78.83" width="3.4" height="21.47" fill="#00FF66" stroke="#000" stroke-width="0.6"/><rect x="279.30" y="81.62" width="3.4" height="18.68" fill="#33FF00" stroke="#000" stroke-width="0.6"/><rect x="285.50" y="86.39" width="3.4" height="13.91" fill="#00FFFF" stroke="#000" stroke-width="0.6"/><rect x="291.70" y="79.63" width="3.4" height="20.67" fill="#00FFFF" stroke="#000" stroke-width="0.6"/><rect x="297.90" y="80.42" width="3.4" height="19.88" fill="#0066FF" stroke="#000" stroke-width="0.6"/><rect x="304.10" y="80.42" width="3.4" height="19.88" fill="#0066FF" stroke="#000" stroke-width="0.6"/><rect x="310.30" y="78.83" width="3.4" height="21.47" fill="#00FF66" stroke="#000" stroke-width="0.6"/><rect x="316.50" y="80.82" width="3.4" height="19.48" fill="#00FF66" stroke="#000" stroke-width="0.6"/><rect x="322.70" y="84.40" width="3.4" height="15.90" fill="#00FF66" stroke="#000" stroke-width="0.6"/><rect x="328.90" y="79.63" width="3.4" height="20.67" fill="#00FF66" stroke="#000" stroke-width="0.6"/><rect x="335.10" y="80.03" width="3.4" height="20.27" fill="#00FF66" stroke="#000" stroke-width="0.6"/><rect x="341.30" y="82.41" width="3.4" height="17.89" fill="#00FF66" stroke="#000" stroke-width="0.6"/><rect x="347.50" y="83.21" width="3.4" height="17.09" fill="#00FFFF" stroke="#000" stroke-width="0.6"/><rect x="353.70" y="80.03" width="3.4" height="20.27" fill="#00FF66" stroke="#000" stroke-width="0.6"/><path d="M44.8 84.40H48.3" stroke="#000" stroke-width="0.7"/><text x="43.4" y="87.10" font-size="7.6" text-anchor="end">0.4</text><path d="M44.8 92.35H48.3" stroke="#000" stroke-width="0.7"/><text x="43.4" y="95.05" font-size="7.6" text-anchor="end">0.2</text><path d="M44.8 100.30H48.3" stroke="#000" stroke-width="0.7"/><text x="43.4" y="103.00" font-size="7.6" text-anchor="end">0</text>
<text x="361.6" y="64.3" font-size="8.6" font-weight="bold">III</text>
<text x="361.6" y="90.8" font-size="8.95" font-weight="bold">Not−III</text>
<text x="11.8" y="25.4" font-size="11" font-weight="bold">(A)</text>
<text x="508.2" y="28.3" font-size="11" font-weight="bold">(B)</text>
<text x="172.8" y="13.6" font-size="11.5">Top 50 Taxa</text>
<text transform="translate(13.8,257.8) rotate(-90)" font-size="11.6" text-anchor="middle">Top 50 Taxa</text>
<text x="103.5" y="199.0" font-size="9.1"><tspan font-style="italic">P. stercorea </tspan>Group</text>
<text x="270.7" y="353.3" font-size="8.93"><tspan font-style="italic">E. coli </tspan>Group</text>
<text x="505" y="169.2" font-size="9.1" font-weight="bold">Spearman Correlation</text>
<defs><linearGradient id="lg" x1="0" y1="0" x2="0" y2="1">
<stop offset="0.000" stop-color="#ff0000"/>
<stop offset="0.125" stop-color="#fa5038"/>
<stop offset="0.250" stop-color="#fa8c78"/>
<stop offset="0.375" stop-color="#fcc8b9"/>
<stop offset="0.470" stop-color="#fff6f2"/>
<stop offset="0.500" stop-color="#ffffff"/>
<stop offset="0.530" stop-color="#f4f0ff"/>
<stop offset="0.625" stop-color="#d7cdff"/>
<stop offset="0.750" stop-color="#968cfa"/>
<stop offset="0.875" stop-color="#5a50fa"/>
<stop offset="1.000" stop-color="#0000ff"/>
</linearGradient></defs>
<rect x="505" y="173.9" width="11.3" height="54.5" fill="url(#lg)"/>
<path d="M505 175.90h2.2M514.1 175.90h2.2" stroke="#fff" stroke-width="0.8"/>
<text x="518.1" y="179.20" font-size="9.2">1</text>
<path d="M505 188.55h2.2M514.1 188.55h2.2" stroke="#fff" stroke-width="0.8"/>
<text x="518.1" y="191.85" font-size="9.2">0.5</text>
<path d="M505 201.20h2.2M514.1 201.20h2.2" stroke="#fff" stroke-width="0.8"/>
<text x="518.1" y="204.50" font-size="9.2">0</text>
<path d="M505 213.85h2.2M514.1 213.85h2.2" stroke="#fff" stroke-width="0.8"/>
<text x="518.1" y="217.15" font-size="9.2">−0.5</text>
<path d="M505 226.50h2.2M514.1 226.50h2.2" stroke="#fff" stroke-width="0.8"/>
<text x="518.1" y="229.80" font-size="9.2">−1</text>
<text x="505.6" y="245.4" font-size="9.1" font-weight="bold">Cluster</text>
<rect x="505.8" y="250.70" width="9.4" height="9.5" fill="#FF0000"/>
<text x="518.9" y="258.00" font-size="7.3" font-style="italic" xml:space="preserve">1: Prevotella copri *</text>
<rect x="505.8" y="260.98" width="9.4" height="9.5" fill="#FF9900"/>
<text x="518.9" y="268.28" font-size="7.3" font-style="italic" xml:space="preserve">2: Faecalibacterium prausnitzii *</text>
<rect x="505.8" y="271.26" width="9.4" height="9.5" fill="#CCFF00"/>
<text x="518.9" y="278.56" font-size="7.3" font-style="italic" xml:space="preserve">3: Prevotella stercorea *</text>
<rect x="505.8" y="281.54" width="9.4" height="9.5" fill="#33FF00"/>
<text x="518.9" y="288.84" font-size="7.3" font-style="italic" xml:space="preserve">4: Bacteroides  *</text>
<rect x="505.8" y="291.82" width="9.4" height="9.5" fill="#00FF66"/>
<text x="518.9" y="299.12" font-size="7.3" font-style="italic" xml:space="preserve">5: Bifidobacterium  *</text>
<rect x="505.8" y="302.10" width="9.4" height="9.5" fill="#00FFFF"/>
<text x="518.9" y="309.40" font-size="7.3" font-style="italic" xml:space="preserve">6: Escherichia coli *</text>
<rect x="505.8" y="312.38" width="9.4" height="9.5" fill="#0066FF"/>
<text x="518.9" y="319.68" font-size="7.3" font-style="italic" xml:space="preserve">7: Streptococcus salivarius</text>
<rect x="505.8" y="322.66" width="9.4" height="9.5" fill="#3300FF"/>
<text x="518.9" y="329.96" font-size="7.3" font-style="italic" xml:space="preserve">8: Sutterella sp.</text>
<rect x="505.8" y="332.94" width="9.4" height="9.5" fill="#CC00FF"/>
<text x="518.9" y="340.24" font-size="7.3" font-style="italic" xml:space="preserve">9: Prevotella nanceiensis</text>
<rect x="505.8" y="343.22" width="9.4" height="9.5" fill="#FF0099"/>
<text x="518.9" y="350.52" font-size="7.3" font-style="italic" xml:space="preserve">10: Ureaplasma canigenitalium</text>
<rect x="497.4" y="51.0" width="182.3" height="90.8" fill="#EDEAE1" stroke="#6b6b6b" stroke-width="0.9"/>
<rect x="498.30" y="51.80" width="73.10" height="34.80" fill="#FF9696" stroke="#C4E35A" stroke-width="1.2"/><text x="504.50" y="59.70" font-size="6.6" font-weight="bold" font-style="italic" fill="#000" stroke="#000" stroke-width="0.18">1. P. Copri</text><text x="504.50" y="71.60" font-size="6.6" font-weight="bold" font-style="italic" fill="#000" stroke="#000" stroke-width="0.18">2. F. prausnitzii</text><text x="504.50" y="83.50" font-size="6.6" font-weight="bold" font-style="italic" fill="#000" stroke="#000" stroke-width="0.18">3. P. stercorea *</text>
<rect x="603.60" y="51.60" width="75.70" height="35.20" fill="#8DB4E2" stroke="#2CC9D6" stroke-width="1.2"/><text x="609.80" y="59.70" font-size="6.6" font-weight="bold" font-style="italic" fill="#000" stroke="#000" stroke-width="0.18">4. Bifidobacterium</text><text x="609.80" y="71.60" font-size="6.6" font-weight="bold" font-style="italic" fill="#000" stroke="#000" stroke-width="0.18">5. Bacteroides</text><text x="609.80" y="83.50" font-size="6.6" font-weight="bold" font-style="italic" fill="#000" stroke="#000" stroke-width="0.18">6. E. coli *</text>
<rect x="498.30" y="107.00" width="73.10" height="34.20" fill="#8DB4E2" stroke="#C4E35A" stroke-width="1.2"/><text x="504.50" y="114.70" font-size="6.6" font-weight="bold" font-style="italic" fill="#000" stroke="#000" stroke-width="0.18">1. P. Copri</text><text x="504.50" y="126.60" font-size="6.6" font-weight="bold" font-style="italic" fill="#000" stroke="#000" stroke-width="0.18">2. F. prausnitzii</text><text x="504.50" y="138.50" font-size="6.6" font-weight="bold" font-style="italic" fill="#000" stroke="#000" stroke-width="0.18">3. P. stercorea *</text>
<rect x="603.90" y="107.00" width="75.30" height="34.20" fill="#FF9696" stroke="#2CC9D6" stroke-width="1.2"/><text x="610.10" y="114.70" font-size="6.6" font-weight="bold" font-style="italic" fill="#000" stroke="#000" stroke-width="0.18">4. Bifidobacterium</text><text x="610.10" y="126.60" font-size="6.6" font-weight="bold" font-style="italic" fill="#000" stroke="#000" stroke-width="0.18">5. Bacteroides</text><text x="610.10" y="138.50" font-size="6.6" font-weight="bold" font-style="italic" fill="#000" stroke="#000" stroke-width="0.18">6. E. coli *</text>
<path d="M572.60 69.10L577.60 65.20L577.60 67.35L597.20 67.35L597.20 65.20L602.20 69.10L597.20 73.00L597.20 70.85L577.60 70.85L577.60 73.00Z" fill="#E00000" stroke="#8B0000" stroke-width="0.5"/>
<path d="M572.20 123.90L577.20 120.00L577.20 122.15L596.80 122.15L596.80 120.00L601.80 123.90L596.80 127.80L596.80 125.65L577.20 125.65L577.20 127.80Z" fill="#E00000" stroke="#8B0000" stroke-width="0.5"/>
</svg></body></html>
